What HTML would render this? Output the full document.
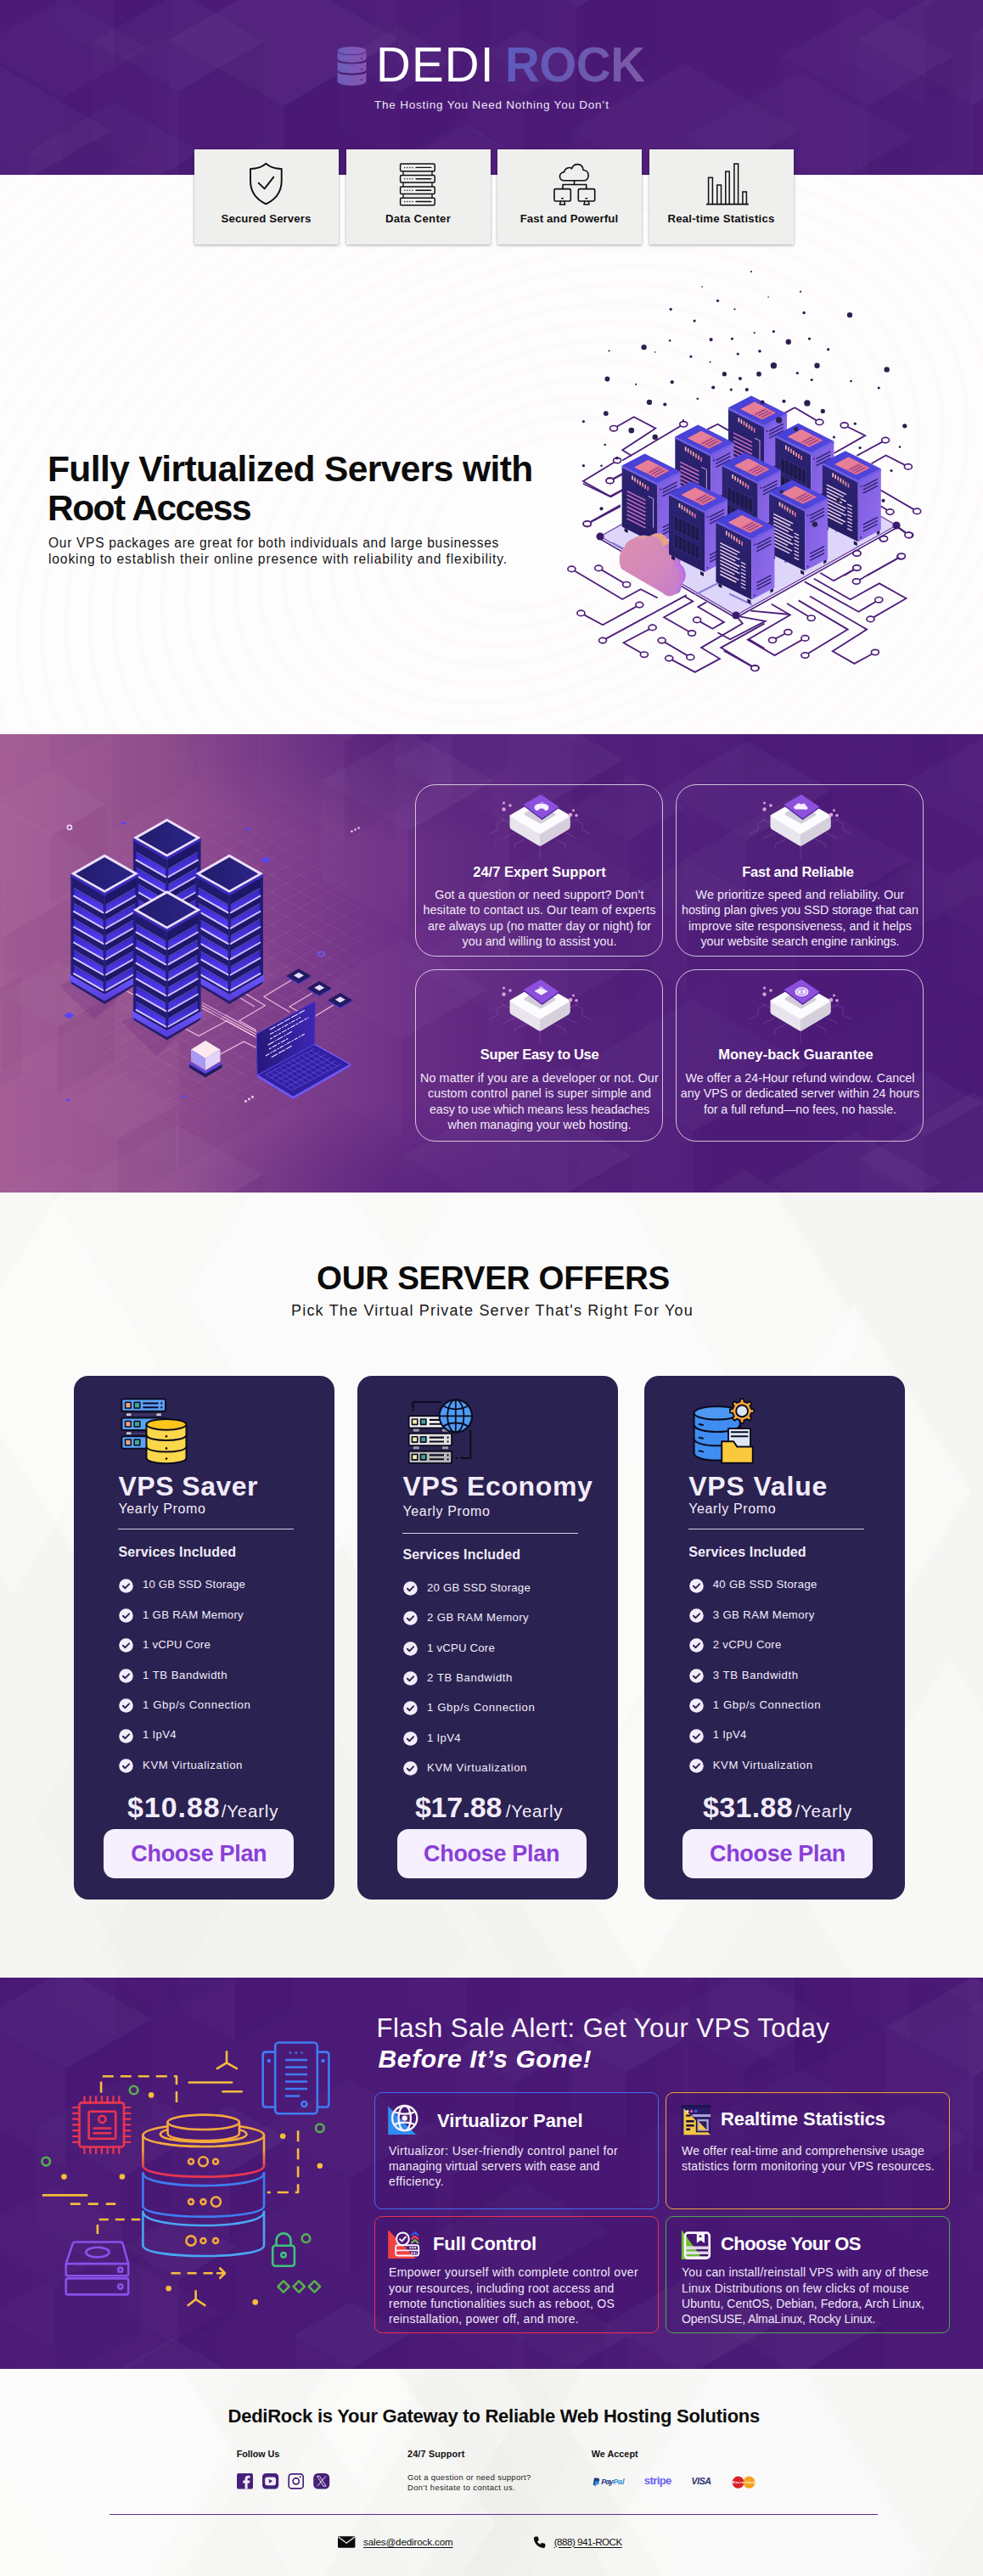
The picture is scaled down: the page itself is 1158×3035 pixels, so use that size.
<!DOCTYPE html>
<html lang="en"><head><meta charset="utf-8"><title>DediRock - VPS Hosting</title>
<style>
html,body{margin:0;padding:0;}
body{width:1158px;height:3035px;position:relative;overflow:hidden;background:#f4f4f2;font-family:"Liberation Sans",sans-serif;}
.t{position:absolute;white-space:pre;line-height:1.117;font-family:"Liberation Sans",sans-serif;}
.abs{position:absolute;}
.sec{position:absolute;left:0;width:1158px;overflow:hidden;}
.fcard{position:absolute;top:176px;width:170px;height:112px;background:#efefed;box-shadow:0 1px 3px rgba(0,0,0,.35);}
.gbox{position:absolute;width:292px;height:203px;border:1.2px solid rgba(255,255,255,.72);border-radius:24px;box-sizing:border-box;}
.pcard{position:absolute;top:1621px;width:307px;height:617px;background:#2a2250;border-radius:17px;}
.btn{position:absolute;top:2155px;width:224px;height:58px;background:#f6effd;border-radius:13px;}
.hr{position:absolute;height:1px;background:#d6d0e6;}
.fbox{position:absolute;width:335px;height:138px;border-radius:9px;box-sizing:border-box;border:1.3px solid;}
svg{position:absolute;overflow:visible;}
</style></head><body>
<div class="sec" id="hdr" style="top:0;height:206px;background:#4c1b78;"><svg width="1158" height="206" viewBox="0 0 1158 206" style="left:0;top:0"><path d="M-75 -265 L60 -187 L-75 -109 L-210 -187Z" fill="rgba(255,255,255,0.027)"/><path d="M-210 -187 L-75 -109 L-75 47 L-210 -31Z" fill="rgba(255,255,255,0.012)"/><path d="M60 -187 L-75 -109 L-75 47 L60 -31Z" fill="rgba(20,0,60,0.035)"/><path d="M468 -263 L603 -185 L468 -107 L332 -185Z" fill="rgba(255,255,255,0.027)"/><path d="M332 -185 L468 -107 L468 49 L332 -29Z" fill="rgba(255,255,255,0.012)"/><path d="M603 -185 L468 -107 L468 49 L603 -29Z" fill="rgba(20,0,60,0.034)"/><path d="M738 -202 L805 -163 L738 -124 L670 -163Z" fill="rgba(255,255,255,0.037)"/><path d="M670 -163 L738 -124 L738 -46 L670 -85Z" fill="rgba(255,255,255,0.017)"/><path d="M805 -163 L738 -124 L738 -46 L805 -85Z" fill="rgba(20,0,60,0.048)"/><path d="M882 -204 L949 -165 L882 -126 L814 -165Z" fill="rgba(255,255,255,0.033)"/><path d="M814 -165 L882 -126 L882 -48 L814 -87Z" fill="rgba(255,255,255,0.015)"/><path d="M949 -165 L882 -126 L882 -48 L949 -87Z" fill="rgba(20,0,60,0.043)"/><path d="M1155 -200 L1222 -161 L1155 -122 L1087 -161Z" fill="rgba(255,255,255,0.029)"/><path d="M1087 -161 L1155 -122 L1155 -44 L1087 -83Z" fill="rgba(255,255,255,0.013)"/><path d="M1222 -161 L1155 -122 L1155 -44 L1222 -83Z" fill="rgba(20,0,60,0.038)"/><path d="M1416 -228 L1518 -169 L1416 -111 L1315 -169Z" fill="rgba(255,255,255,0.026)"/><path d="M1315 -169 L1416 -111 L1416 6 L1315 -52Z" fill="rgba(255,255,255,0.012)"/><path d="M1518 -169 L1416 -111 L1416 6 L1518 -52Z" fill="rgba(20,0,60,0.034)"/><path d="M135 -83 L203 -44 L135 -5 L67 -44Z" fill="rgba(255,255,255,0.031)"/><path d="M67 -44 L135 -5 L135 73 L67 34Z" fill="rgba(255,255,255,0.014)"/><path d="M203 -44 L135 -5 L135 73 L203 34Z" fill="rgba(20,0,60,0.040)"/><path d="M542 -116 L643 -58 L542 1 L441 -58Z" fill="rgba(255,255,255,0.025)"/><path d="M441 -58 L542 1 L542 118 L441 59Z" fill="rgba(255,255,255,0.011)"/><path d="M643 -58 L542 1 L542 118 L643 59Z" fill="rgba(20,0,60,0.033)"/><path d="M679 -108 L780 -50 L679 9 L578 -50Z" fill="rgba(255,255,255,0.035)"/><path d="M578 -50 L679 9 L679 126 L578 67Z" fill="rgba(255,255,255,0.016)"/><path d="M780 -50 L679 9 L679 126 L780 67Z" fill="rgba(20,0,60,0.046)"/><path d="M1090 -109 L1191 -50 L1090 8 L989 -50Z" fill="rgba(255,255,255,0.029)"/><path d="M989 -50 L1090 8 L1090 125 L989 67Z" fill="rgba(255,255,255,0.013)"/><path d="M1191 -50 L1090 8 L1090 125 L1191 67Z" fill="rgba(20,0,60,0.037)"/><path d="M1346 -164 L1481 -86 L1346 -8 L1211 -86Z" fill="rgba(255,255,255,0.027)"/><path d="M1211 -86 L1346 -8 L1346 148 L1211 70Z" fill="rgba(255,255,255,0.012)"/><path d="M1481 -86 L1346 -8 L1346 148 L1481 70Z" fill="rgba(20,0,60,0.035)"/><path d="M74 -2 L175 57 L74 115 L-28 57Z" fill="rgba(255,255,255,0.019)"/><path d="M-28 57 L74 115 L74 232 L-28 174Z" fill="rgba(255,255,255,0.009)"/><path d="M175 57 L74 115 L74 232 L175 174Z" fill="rgba(20,0,60,0.025)"/><path d="M210 -9 L311 49 L210 108 L109 49Z" fill="rgba(255,255,255,0.030)"/><path d="M109 49 L210 108 L210 225 L109 166Z" fill="rgba(255,255,255,0.013)"/><path d="M311 49 L210 108 L210 225 L311 166Z" fill="rgba(20,0,60,0.039)"/><path d="M334 -31 L469 47 L334 125 L199 47Z" fill="rgba(255,255,255,0.038)"/><path d="M199 47 L334 125 L334 281 L199 203Z" fill="rgba(255,255,255,0.017)"/><path d="M469 47 L334 125 L334 281 L469 203Z" fill="rgba(20,0,60,0.049)"/><path d="M469 31 L537 70 L469 109 L401 70Z" fill="rgba(255,255,255,0.029)"/><path d="M401 70 L469 109 L469 187 L401 148Z" fill="rgba(255,255,255,0.013)"/><path d="M537 70 L469 109 L469 187 L537 148Z" fill="rgba(20,0,60,0.038)"/><path d="M617 35 L685 74 L617 113 L550 74Z" fill="rgba(255,255,255,0.022)"/><path d="M550 74 L617 113 L617 191 L550 152Z" fill="rgba(255,255,255,0.010)"/><path d="M685 74 L617 113 L617 191 L685 152Z" fill="rgba(20,0,60,0.028)"/><path d="M1022 8 L1124 66 L1022 125 L921 66Z" fill="rgba(255,255,255,0.024)"/><path d="M921 66 L1022 125 L1022 242 L921 183Z" fill="rgba(255,255,255,0.011)"/><path d="M1124 66 L1022 125 L1022 242 L1124 183Z" fill="rgba(20,0,60,0.032)"/><path d="M1146 -32 L1281 46 L1146 124 L1011 46Z" fill="rgba(255,255,255,0.031)"/><path d="M1011 46 L1146 124 L1146 280 L1011 202Z" fill="rgba(255,255,255,0.014)"/><path d="M1281 46 L1146 124 L1146 280 L1281 202Z" fill="rgba(20,0,60,0.041)"/><path d="M1279 -36 L1414 42 L1279 120 L1144 42Z" fill="rgba(255,255,255,0.032)"/><path d="M1144 42 L1279 120 L1279 276 L1144 198Z" fill="rgba(255,255,255,0.014)"/><path d="M1414 42 L1279 120 L1279 276 L1414 198Z" fill="rgba(20,0,60,0.042)"/><path d="M-135 118 L-33 176 L-135 235 L-236 176Z" fill="rgba(255,255,255,0.016)"/><path d="M-236 176 L-135 235 L-135 352 L-236 293Z" fill="rgba(255,255,255,0.007)"/><path d="M-33 176 L-135 235 L-135 352 L-33 293Z" fill="rgba(20,0,60,0.021)"/><path d="M-4 76 L131 154 L-4 232 L-139 154Z" fill="rgba(255,255,255,0.029)"/><path d="M-139 154 L-4 232 L-4 388 L-139 310Z" fill="rgba(255,255,255,0.013)"/><path d="M131 154 L-4 232 L-4 388 L131 310Z" fill="rgba(20,0,60,0.038)"/><path d="M134 121 L236 179 L134 238 L33 179Z" fill="rgba(255,255,255,0.024)"/><path d="M33 179 L134 238 L134 355 L33 296Z" fill="rgba(255,255,255,0.011)"/><path d="M236 179 L134 238 L134 355 L236 296Z" fill="rgba(20,0,60,0.031)"/><path d="M549 146 L617 185 L549 224 L482 185Z" fill="rgba(255,255,255,0.024)"/><path d="M482 185 L549 224 L549 302 L482 263Z" fill="rgba(255,255,255,0.011)"/><path d="M617 185 L549 224 L549 302 L617 263Z" fill="rgba(20,0,60,0.032)"/><path d="M807 75 L942 153 L807 231 L672 153Z" fill="rgba(255,255,255,0.023)"/><path d="M672 153 L807 231 L807 387 L672 309Z" fill="rgba(255,255,255,0.010)"/><path d="M942 153 L807 231 L807 387 L942 309Z" fill="rgba(20,0,60,0.030)"/><path d="M941 84 L1076 162 L941 240 L806 162Z" fill="rgba(255,255,255,0.018)"/><path d="M806 162 L941 240 L941 396 L806 318Z" fill="rgba(255,255,255,0.008)"/><path d="M1076 162 L941 240 L941 396 L1076 318Z" fill="rgba(20,0,60,0.024)"/><path d="M-73 201 L62 279 L-73 357 L-208 279Z" fill="rgba(255,255,255,0.021)"/><path d="M-208 279 L-73 357 L-73 513 L-208 435Z" fill="rgba(255,255,255,0.010)"/><path d="M62 279 L-73 357 L-73 513 L62 435Z" fill="rgba(20,0,60,0.028)"/><path d="M71 226 L172 284 L71 343 L-31 284Z" fill="rgba(255,255,255,0.029)"/><path d="M-31 284 L71 343 L71 460 L-31 401Z" fill="rgba(255,255,255,0.013)"/><path d="M172 284 L71 343 L71 460 L172 401Z" fill="rgba(20,0,60,0.038)"/><path d="M464 278 L532 317 L464 356 L397 317Z" fill="rgba(255,255,255,0.021)"/><path d="M397 317 L464 356 L464 434 L397 395Z" fill="rgba(255,255,255,0.009)"/><path d="M532 317 L464 356 L464 434 L532 395Z" fill="rgba(20,0,60,0.027)"/><path d="M734 282 L801 321 L734 360 L666 321Z" fill="rgba(255,255,255,0.023)"/><path d="M666 321 L734 360 L734 438 L666 399Z" fill="rgba(255,255,255,0.010)"/><path d="M801 321 L734 360 L734 438 L801 399Z" fill="rgba(20,0,60,0.030)"/><path d="M1290 270 L1357 309 L1290 348 L1222 309Z" fill="rgba(255,255,255,0.019)"/><path d="M1222 309 L1290 348 L1290 426 L1222 387Z" fill="rgba(255,255,255,0.009)"/><path d="M1357 309 L1290 348 L1290 426 L1357 387Z" fill="rgba(20,0,60,0.025)"/><path d="M1418 237 L1519 295 L1418 354 L1317 295Z" fill="rgba(255,255,255,0.023)"/><path d="M1317 295 L1418 354 L1418 471 L1317 412Z" fill="rgba(255,255,255,0.010)"/><path d="M1519 295 L1418 354 L1418 471 L1519 412Z" fill="rgba(20,0,60,0.029)"/></svg></div>
<div class="sec" id="hero" style="top:206px;height:659px;background:#fefdfe;"><svg width="1158" height="659" viewBox="0 0 1158 659" style="left:0;top:0" fill="none" stroke="#fdf7fa" stroke-width="6"><ellipse cx="637" cy="409" rx="138" ry="94" transform="rotate(-24 637 409)" opacity="0.75"/><ellipse cx="637" cy="409" rx="168" ry="114" transform="rotate(-24 637 409)" opacity="0.45"/><ellipse cx="637" cy="409" rx="198" ry="134" transform="rotate(-24 637 409)" opacity="0.75"/><ellipse cx="637" cy="409" rx="228" ry="154" transform="rotate(-24 637 409)" opacity="0.45"/><ellipse cx="637" cy="409" rx="258" ry="175" transform="rotate(-24 637 409)" opacity="0.75"/><ellipse cx="637" cy="409" rx="288" ry="195" transform="rotate(-24 637 409)" opacity="0.45"/><ellipse cx="637" cy="409" rx="317" ry="215" transform="rotate(-24 637 409)" opacity="0.75"/><ellipse cx="637" cy="409" rx="347" ry="236" transform="rotate(-24 637 409)" opacity="0.45"/><ellipse cx="637" cy="409" rx="377" ry="256" transform="rotate(-24 637 409)" opacity="0.75"/><ellipse cx="637" cy="409" rx="407" ry="276" transform="rotate(-24 637 409)" opacity="0.45"/><ellipse cx="637" cy="409" rx="437" ry="296" transform="rotate(-24 637 409)" opacity="0.75"/><ellipse cx="637" cy="409" rx="467" ry="317" transform="rotate(-24 637 409)" opacity="0.45"/><ellipse cx="637" cy="409" rx="497" ry="337" transform="rotate(-24 637 409)" opacity="0.75"/><ellipse cx="637" cy="409" rx="527" ry="357" transform="rotate(-24 637 409)" opacity="0.45"/><ellipse cx="637" cy="409" rx="557" ry="378" transform="rotate(-24 637 409)" opacity="0.75"/><ellipse cx="637" cy="409" rx="586" ry="398" transform="rotate(-24 637 409)" opacity="0.45"/><ellipse cx="637" cy="409" rx="616" ry="418" transform="rotate(-24 637 409)" opacity="0.75"/><ellipse cx="637" cy="409" rx="646" ry="438" transform="rotate(-24 637 409)" opacity="0.45"/><ellipse cx="637" cy="409" rx="676" ry="459" transform="rotate(-24 637 409)" opacity="0.75"/><ellipse cx="637" cy="409" rx="706" ry="479" transform="rotate(-24 637 409)" opacity="0.45"/><ellipse cx="637" cy="409" rx="736" ry="499" transform="rotate(-24 637 409)" opacity="0.75"/><ellipse cx="637" cy="409" rx="766" ry="519" transform="rotate(-24 637 409)" opacity="0.45"/><ellipse cx="637" cy="409" rx="796" ry="540" transform="rotate(-24 637 409)" opacity="0.75"/><ellipse cx="637" cy="409" rx="826" ry="560" transform="rotate(-24 637 409)" opacity="0.45"/><ellipse cx="637" cy="409" rx="856" ry="580" transform="rotate(-24 637 409)" opacity="0.75"/><ellipse cx="637" cy="409" rx="885" ry="601" transform="rotate(-24 637 409)" opacity="0.45"/><ellipse cx="637" cy="409" rx="915" ry="621" transform="rotate(-24 637 409)" opacity="0.75"/><ellipse cx="637" cy="409" rx="945" ry="641" transform="rotate(-24 637 409)" opacity="0.45"/><ellipse cx="637" cy="409" rx="975" ry="661" transform="rotate(-24 637 409)" opacity="0.75"/><ellipse cx="637" cy="409" rx="1005" ry="682" transform="rotate(-24 637 409)" opacity="0.45"/><ellipse cx="637" cy="409" rx="1035" ry="702" transform="rotate(-24 637 409)" opacity="0.75"/><ellipse cx="637" cy="409" rx="1065" ry="722" transform="rotate(-24 637 409)" opacity="0.45"/><ellipse cx="637" cy="409" rx="1095" ry="743" transform="rotate(-24 637 409)" opacity="0.75"/><ellipse cx="637" cy="409" rx="1125" ry="763" transform="rotate(-24 637 409)" opacity="0.45"/><ellipse cx="637" cy="409" rx="1155" ry="783" transform="rotate(-24 637 409)" opacity="0.75"/><ellipse cx="637" cy="409" rx="1184" ry="803" transform="rotate(-24 637 409)" opacity="0.45"/><ellipse cx="637" cy="409" rx="1214" ry="824" transform="rotate(-24 637 409)" opacity="0.75"/><ellipse cx="637" cy="409" rx="1244" ry="844" transform="rotate(-24 637 409)" opacity="0.45"/><ellipse cx="637" cy="409" rx="1274" ry="864" transform="rotate(-24 637 409)" opacity="0.75"/><ellipse cx="637" cy="409" rx="1304" ry="885" transform="rotate(-24 637 409)" opacity="0.45"/><ellipse cx="637" cy="409" rx="1334" ry="905" transform="rotate(-24 637 409)" opacity="0.75"/><ellipse cx="637" cy="409" rx="1364" ry="925" transform="rotate(-24 637 409)" opacity="0.45"/><ellipse cx="637" cy="409" rx="1394" ry="945" transform="rotate(-24 637 409)" opacity="0.75"/><ellipse cx="637" cy="409" rx="1424" ry="966" transform="rotate(-24 637 409)" opacity="0.45"/><ellipse cx="637" cy="409" rx="1454" ry="986" transform="rotate(-24 637 409)" opacity="0.75"/><ellipse cx="637" cy="409" rx="1483" ry="1006" transform="rotate(-24 637 409)" opacity="0.45"/></svg></div>
<svg style="left:397px;top:54px" width="35" height="48" viewBox="0 0 35 48">
<defs><linearGradient id="lg1" x1="0" y1="0" x2="1" y2="0"><stop offset="0" stop-color="#6a5fbb"/><stop offset="1" stop-color="#8855b2"/></linearGradient></defs>
<g fill="url(#lg1)">
<path d="M0.5 6 C0.5 -0.6 34.5 -0.6 34.5 6 L34.5 14.5 C34.5 21 0.5 21 0.5 14.5Z"/>
<path d="M0.5 18.2 C3 22.6 32 22.6 34.5 18.2 L34.5 27.5 C34.5 34 0.5 34 0.5 27.5Z"/>
<path d="M0.5 31.2 C3 35.6 32 35.6 34.5 31.2 L34.5 41.5 C34.5 48.5 0.5 48.5 0.5 41.5Z"/>
</g>
<path d="M0.8 6.5 C3 11.8 32 11.8 34.2 6.5" fill="none" stroke="#56309a" stroke-width="1.2"/>
<circle cx="29" cy="15" r="1.1" fill="#4a2080"/><circle cx="29" cy="27.5" r="1.1" fill="#4a2080"/><circle cx="29" cy="40" r="1.1" fill="#4a2080"/>
</svg>
<div class="t" style="left:443.0px;top:44.8px;font-size:56.5px;color:#ffffff;letter-spacing:1.125px;">DEDI</div>
<div class="t" style="left:595.0px;top:44.8px;font-size:56.5px;font-weight:700;color:#6a5ab4;letter-spacing:-0.465px;background:linear-gradient(90deg,#5d5bbd 0%,#6659b4 40%,#7259ab 75%,#7d5ba5 100%);-webkit-background-clip:text;background-clip:text;-webkit-text-fill-color:transparent;">ROCK</div>
<div class="t" style="left:441.0px;top:115.8px;font-size:13.5px;color:#ece6f7;letter-spacing:0.783px;">The Hosting You Need Nothing You Don’t</div>
<div class="fcard" style="left:229px"></div>
<div class="t" style="left:260.5px;top:250.5px;font-size:13.2px;font-weight:700;color:#111;letter-spacing:0.126px;">Secured Servers</div>
<div class="fcard" style="left:408px"></div>
<div class="t" style="left:453.9px;top:250.5px;font-size:13.2px;font-weight:700;color:#111;letter-spacing:0.297px;">Data Center</div>
<div class="fcard" style="left:586px"></div>
<div class="t" style="left:612.7px;top:250.5px;font-size:13.2px;font-weight:700;color:#111;letter-spacing:0.119px;">Fast and Powerful</div>
<div class="fcard" style="left:765px"></div>
<div class="t" style="left:786.5px;top:250.5px;font-size:13.2px;font-weight:700;color:#111;letter-spacing:0.216px;">Real-time Statistics</div>
<svg style="left:290px;top:188px" width="48" height="58" viewBox="290 188 48 58" fill="none" stroke="#0e0e0e" stroke-width="1.9" stroke-linejoin="round" stroke-linecap="round">
<path d="M313.3 192.8 C308.5 197 301.5 199 295 199 L295 213 C295 226 302 235 313.3 240.4 C324.6 235 331.7 226 331.7 213 L331.7 199 C325 199 318 197 313.3 192.8Z"/>
<path d="M304.6 215.6 L311.6 222.4 L322.3 208.6"/></svg><svg style="left:468px;top:188px" width="48" height="58" viewBox="468 188 48 58" fill="none" stroke="#0e0e0e" stroke-width="1.5" stroke-linejoin="round"><rect x="471.6" y="193.1" width="40.6" height="8.6" rx="1.3"/><path d="M490 197.4 H507.8" stroke-width="1.4" stroke-linecap="round"/><circle cx="476.8" cy="197.4" r="0.75" fill="#0e0e0e" stroke="none"/><circle cx="479.9" cy="197.4" r="0.75" fill="#0e0e0e" stroke="none"/><circle cx="482.9" cy="197.4" r="0.75" fill="#0e0e0e" stroke="none"/><circle cx="485.9" cy="197.4" r="0.75" fill="#0e0e0e" stroke="none"/><rect x="471.6" y="206.5" width="40.6" height="8.6" rx="1.3"/><path d="M490 210.8 H507.8" stroke-width="1.4" stroke-linecap="round"/><circle cx="476.8" cy="210.8" r="0.75" fill="#0e0e0e" stroke="none"/><circle cx="479.9" cy="210.8" r="0.75" fill="#0e0e0e" stroke="none"/><circle cx="482.9" cy="210.8" r="0.75" fill="#0e0e0e" stroke="none"/><circle cx="485.9" cy="210.8" r="0.75" fill="#0e0e0e" stroke="none"/><rect x="471.6" y="219.9" width="40.6" height="8.6" rx="1.3"/><path d="M490 224.20000000000002 H507.8" stroke-width="1.4" stroke-linecap="round"/><circle cx="476.8" cy="224.20000000000002" r="0.75" fill="#0e0e0e" stroke="none"/><circle cx="479.9" cy="224.20000000000002" r="0.75" fill="#0e0e0e" stroke="none"/><circle cx="482.9" cy="224.20000000000002" r="0.75" fill="#0e0e0e" stroke="none"/><circle cx="485.9" cy="224.20000000000002" r="0.75" fill="#0e0e0e" stroke="none"/><rect x="471.6" y="233.2" width="40.6" height="8.6" rx="1.3"/><path d="M490 237.5 H507.8" stroke-width="1.4" stroke-linecap="round"/><circle cx="476.8" cy="237.5" r="0.75" fill="#0e0e0e" stroke="none"/><circle cx="479.9" cy="237.5" r="0.75" fill="#0e0e0e" stroke="none"/><circle cx="482.9" cy="237.5" r="0.75" fill="#0e0e0e" stroke="none"/><circle cx="485.9" cy="237.5" r="0.75" fill="#0e0e0e" stroke="none"/><path d="M475 201.7 V206.5 M509 201.7 V206.5" stroke-width="1.3"/><path d="M475 215.1 V219.9 M509 215.1 V219.9" stroke-width="1.3"/><path d="M475 228.5 V233.3 M509 228.5 V233.3" stroke-width="1.3"/></svg><svg style="left:648px;top:188px" width="58" height="58" viewBox="648 188 58 58" fill="none" stroke="#0e0e0e" stroke-width="1.6" stroke-linejoin="round" stroke-linecap="round">
<path d="M665 212.8 C657.5 212.8 657.8 203.3 664.6 202.6 C665.5 197.8 671 196.3 673.6 198.6 C676 191.4 686.6 192 687 200.3 C695.2 200.6 695 212.8 687.5 212.8Z"/>
<path d="M676.5 213 V217.5 M663 222 V217.5 H690.7 V222"/>
<rect x="652.9" y="222.6" width="19.4" height="14.4" rx="1.6"/>
<rect x="681.3" y="222.6" width="19.4" height="14.4" rx="1.6"/>
<path d="M660.6 237.2 L659.4 241 H665.8 L664.6 237.2 M689 237.2 L687.8 241 H694.2 L693 237.2" stroke-width="1.4"/>
<path d="M661.7 233.7 H663.3 M690 233.7 H691.6" stroke-width="1.6"/></svg><svg style="left:828px;top:188px" width="58" height="58" viewBox="828 188 58 58" fill="none" stroke="#0e0e0e" stroke-width="1.5"><path d="M834.6 240.5 V209.29999999999998 H839.4 V240.5"/><path d="M844.8000000000001 240.5 V218.1 H849.5 V240.5"/><path d="M854.8000000000001 240.5 V202.0 H859.1999999999999 V240.5"/><path d="M864.9000000000001 240.5 V193.1 H869.5999999999999 V240.5"/><path d="M874.9000000000001 240.5 V225.89999999999998 H879.4 V240.5"/><path d="M832 240.7 H881.8" stroke-width="1.8"/></svg>
<div class="t" style="left:56.0px;top:529.0px;font-size:42.5px;font-weight:700;color:#0c0c0c;letter-spacing:-0.603px;">Fully Virtualized Servers with</div>
<div class="t" style="left:56.0px;top:575.0px;font-size:42.5px;font-weight:700;color:#0c0c0c;letter-spacing:-1.534px;">Root Access</div>
<div class="t" style="left:57.0px;top:630.9px;font-size:15.6px;color:#161616;letter-spacing:0.670px;">Our VPS packages are great for both individuals and large businesses</div>
<div class="t" style="left:57.0px;top:650.4px;font-size:15.6px;color:#161616;letter-spacing:0.861px;">looking to establish their online presence with reliability and flexibility.</div>
<svg style="left:0;top:0" width="1158" height="870" viewBox="0 0 1158 870"><defs>
<linearGradient id="hL" x1="0" y1="0" x2="0" y2="1"><stop offset="0" stop-color="#2d2474"/><stop offset="1" stop-color="#251c62"/></linearGradient>
<linearGradient id="hR" x1="0" y1="0" x2="1" y2="1"><stop offset="0" stop-color="#7c5ade"/><stop offset="1" stop-color="#9470ee"/></linearGradient>
<linearGradient id="hT" x1="0" y1="0" x2="1" y2="0"><stop offset="0" stop-color="#4540d4"/><stop offset="1" stop-color="#5546de"/></linearGradient>
<linearGradient id="hC" x1="0" y1="0" x2="1" y2="1"><stop offset="0" stop-color="#dd90ae"/><stop offset="0.6" stop-color="#d287bd"/><stop offset="1" stop-color="#c67ccb"/></linearGradient>
</defs><g fill="none" stroke="#4c1e7a" stroke-width="1.8" stroke-linejoin="miter"><path d="M673.4 670.4 L733.2 706.0 L754.7 694.3 L774.7 704.5"/><path d="M705.2 669.4 L738.1 688.7"/><path d="M684.4 722.4 L710.0 736.3 L753.3 712.6"/><path d="M710.0 754.6 L808.9 701.1"/><path d="M768.6 739.4 L734.5 757.3 L758.9 771.2"/><path d="M779.6 754.6 L813.3 774.4"/><path d="M788.2 775.6 L818.7 791.9 L848.0 776.1 L826.0 763.1 L874.8 734.6 L867.5 726.0"/><path d="M815.0 746.0 L782.1 727.2 L816.2 708.4 L806.5 702.8"/><path d="M821.1 730.4 L839.4 740.7 L852.9 732.9 L822.4 715.0 L832.1 709.4"/><path d="M889.5 787.1 L849.2 763.1 L900.5 734.6"/><path d="M882.2 752.9 L900.5 763.9"/><path d="M691.7 617.4 L730.8 596.6"/><path d="M718.6 566.1 L733.2 558.0"/><path d="M686.9 569.8 L718.6 584.9 L733.2 577.1"/><path d="M889.3 787.3 L852.7 766.7"/><path d="M910.0 754.3 L928.4 744.8"/><path d="M948.4 751.9 L912.5 772.1 L880.8 753.8 L930.8 724.5 L908.8 711.8"/><path d="M948.4 772.1 L998.7 741.6 L940.6 707.4"/><path d="M955.7 728.2 L927.1 711.1"/><path d="M1030.9 768.5 L1006.5 781.9 L980.8 767.2 L1021.1 741.6 L954.0 702.5"/><path d="M1025.5 729.4 L1067.5 705.0 L1035.8 687.4 L1001.6 706.2 L958.9 681.8"/><path d="M1035.3 706.7 L1011.4 720.8 L947.9 685.4"/><path d="M1008.9 685.0 L1061.4 655.7"/><path d="M1009.4 669.1 L982.1 684.2 L966.2 675.0"/><path d="M1071.2 630.5 L1056.5 620.0"/><path d="M867.3 725.7 L901.5 731.8 L860.0 753.3 L845.4 745.3"/><path d="M884.4 719.6 L930.8 724.0"/><path d="M723.0 504.7 L746.7 491.3 L772.3 504.7 L733.2 530.3 L744.2 536.9"/><path d="M805.3 499.8 L760.1 526.7 L733.2 542.5"/><path d="M727.1 542.5 L686.9 567.0 L719.8 585.3 L732.8 577.9"/><path d="M718.6 566.5 L732.8 559.1"/><path d="M691.7 617.0 L730.8 595.0"/><path d="M707.6 634.1 L733.2 620.2"/><path d="M833.3 505.9 L845.5 499.8 L858.2 507.1"/><path d="M965.4 497.4 L936.2 480.3 L921.5 488.1"/><path d="M994.7 501.0 L1019.2 513.2 L982.5 534.0"/><path d="M1043.1 518.6 L1009.4 536.9"/><path d="M1069.9 549.9 L1043.6 536.4 L1026.5 546.2"/><path d="M1080.2 602.4 L1036.2 576.7"/><path d="M1048.5 603.1 L1037.5 596.2"/><path d="M1070.4 630.4 L1057.0 620.7"/><path d="M1061.9 655.3 L1021.6 678.0"/><path d="M1009.4 669.0 L994.7 678.0"/></g><g fill="#fefdfe" stroke="#4c1e7a" stroke-width="1.7"><ellipse cx="673.4" cy="670.4" rx="4.5" ry="3.2"/><ellipse cx="705.2" cy="669.4" rx="4.5" ry="3.2"/><ellipse cx="738.1" cy="688.7" rx="4.5" ry="3.2"/><ellipse cx="684.4" cy="722.4" rx="4.5" ry="3.2"/><ellipse cx="753.3" cy="712.6" rx="4.5" ry="3.2"/><ellipse cx="710.0" cy="754.6" rx="4.5" ry="3.2"/><ellipse cx="768.6" cy="739.4" rx="4.5" ry="3.2"/><ellipse cx="758.9" cy="771.2" rx="4.5" ry="3.2"/><ellipse cx="779.6" cy="754.6" rx="4.5" ry="3.2"/><ellipse cx="813.3" cy="774.4" rx="4.5" ry="3.2"/><ellipse cx="788.2" cy="775.6" rx="4.5" ry="3.2"/><ellipse cx="815.0" cy="746.0" rx="4.5" ry="3.2"/><ellipse cx="821.1" cy="730.4" rx="4.5" ry="3.2"/><ellipse cx="889.5" cy="787.1" rx="4.5" ry="3.2"/><ellipse cx="691.7" cy="617.4" rx="4.5" ry="3.2"/><ellipse cx="718.6" cy="566.1" rx="4.5" ry="3.2"/><ellipse cx="889.3" cy="787.3" rx="4.5" ry="3.2"/><ellipse cx="910.0" cy="754.3" rx="4.5" ry="3.2"/><ellipse cx="928.4" cy="744.8" rx="4.5" ry="3.2"/><ellipse cx="948.4" cy="751.9" rx="4.5" ry="3.2"/><ellipse cx="948.4" cy="772.1" rx="4.5" ry="3.2"/><ellipse cx="955.7" cy="728.2" rx="4.5" ry="3.2"/><ellipse cx="1030.9" cy="768.5" rx="4.5" ry="3.2"/><ellipse cx="1025.5" cy="729.4" rx="4.5" ry="3.2"/><ellipse cx="1035.3" cy="706.7" rx="4.5" ry="3.2"/><ellipse cx="1008.9" cy="685.0" rx="4.5" ry="3.2"/><ellipse cx="1061.4" cy="655.7" rx="4.5" ry="3.2"/><ellipse cx="1009.4" cy="669.1" rx="4.5" ry="3.2"/><ellipse cx="1071.2" cy="630.5" rx="4.5" ry="3.2"/><ellipse cx="1009.4" cy="652.0" rx="4.5" ry="3.2"/><ellipse cx="1040.7" cy="634.7" rx="4.5" ry="3.2"/><ellipse cx="723.0" cy="504.7" rx="4.5" ry="3.2"/><ellipse cx="805.3" cy="499.8" rx="4.5" ry="3.2"/><ellipse cx="727.1" cy="542.5" rx="4.5" ry="3.2"/><ellipse cx="718.6" cy="566.5" rx="4.5" ry="3.2"/><ellipse cx="691.7" cy="617.0" rx="4.5" ry="3.2"/><ellipse cx="965.4" cy="497.4" rx="4.5" ry="3.2"/><ellipse cx="994.7" cy="501.0" rx="4.5" ry="3.2"/><ellipse cx="1043.1" cy="518.6" rx="4.5" ry="3.2"/><ellipse cx="1069.9" cy="549.9" rx="4.5" ry="3.2"/><ellipse cx="1080.2" cy="602.4" rx="4.5" ry="3.2"/><ellipse cx="1048.5" cy="603.1" rx="4.5" ry="3.2"/><ellipse cx="1070.4" cy="630.4" rx="4.5" ry="3.2"/><ellipse cx="1061.9" cy="655.3" rx="4.5" ry="3.2"/><ellipse cx="1009.4" cy="669.0" rx="4.5" ry="3.2"/><ellipse cx="1041.1" cy="634.8" rx="4.5" ry="3.2"/><ellipse cx="1009.4" cy="651.9" rx="4.5" ry="3.2"/></g><path d="M707 632 L896 526 L1056 619 L867 725Z" fill="#ded6fa" stroke="#6a3b9c" stroke-width="1.2"/><path d="M707 635 L867 728 L1056 622" fill="none" stroke="#4a2380" stroke-width="1.6"/><circle cx="707" cy="632" r="4.6" fill="#3d1a6e"/><circle cx="867" cy="725" r="4.6" fill="#3d1a6e"/><circle cx="1056" cy="619" r="4.6" fill="#3d1a6e"/><g stroke="#8f7fd8" stroke-width="2.2" stroke-linecap="round"><path d="M722 640 L760 660"/><path d="M985 626 L1018 610"/><path d="M925 662 L955 647"/><path d="M820 700 L852 684"/><path d="M860 700 L885 712"/></g><path d="M861.0 553.7 l4 2 v4 l-4 -2z M895.0 572.2 l4 2 v4 l-4 -2z M922.0 561.2 l3.5 -1.8 v4 l-3.5 1.8z" fill="#1d1648"/><path d="M858.0 480.2 L900.0 501.2 L900.0 573.2 L858.0 552.2Z" fill="url(#hL)"/><path d="M900.0 501.2 L927.0 487.2 L927.0 559.2 L900.0 573.2Z" fill="url(#hR)"/><path d="M858.0 480.2 L885.0 466.2 L927.0 487.2 L900.0 501.2Z" fill="url(#hT)"/><path d="M858.0 481.4 L900.0 502.4 L927.0 488.4" fill="none" stroke="#6e5ee6" stroke-width="2.2"/><path d="M872.6 482.0 L897.8 494.6 L914.0 486.2 L888.8 473.6Z" fill="#e2708e"/><path d="M872.6 482.0 L885.2 488.3 L901.4 479.9 L888.8 473.6Z" fill="#e77f98"/><path d="M889.9 488.5 L901.8 482.3" stroke="#5a2a90" stroke-width="0.9"/><path d="M893.3 490.1 L905.2 484.0" stroke="#5a2a90" stroke-width="0.9"/><path d="M896.6 491.8 L908.5 485.7" stroke="#5a2a90" stroke-width="0.9"/><path d="M870.4 492.2 v5" stroke="#f3c0cc" stroke-width="1.7"/><path d="M873.4 494.2 v5" stroke="#f7b0a0" stroke-width="1.7"/><path d="M876.5 496.3 v5" stroke="#f08fb0" stroke-width="1.7"/><path d="M879.5 498.3 v5" stroke="#f7b0a0" stroke-width="1.7"/><path d="M882.6 500.4 v5" stroke="#f09a80" stroke-width="1.7"/><path d="M885.6 502.4 v5" stroke="#f08fb0" stroke-width="1.7"/><path d="M888.7 504.5 v5" stroke="#e070a0" stroke-width="1.7"/><path d="M864.0 510.2 l22 11" stroke="#d070c0" stroke-width="1.5"/><path d="M864.0 514.8 l22 11" stroke="#d070c0" stroke-width="1.5"/><path d="M864.0 519.4 l22 11" stroke="#d070c0" stroke-width="1.5"/><path d="M864.0 524.0 l22 11" stroke="#d070c0" stroke-width="1.5"/><path d="M864.0 528.6 l22 11" stroke="#d070c0" stroke-width="1.5"/><path d="M864.0 533.2 l22 11" stroke="#d070c0" stroke-width="1.5"/><path d="M864.0 537.8 l22 11" stroke="#d070c0" stroke-width="1.5"/><path d="M864.0 542.4 l22 11" stroke="#d070c0" stroke-width="1.5"/><path d="M889.0 516.2 l6 3 v34" fill="none" stroke="#c9a0e8" stroke-width="1"/><path d="M906.0 508.2 l17 -8.8" stroke="#2c2270" stroke-width="1.5"/><path d="M906.0 553.2 l17 -8.8" stroke="#2c2270" stroke-width="1.5"/><path d="M906.0 512.2 l17 -8.8" stroke="#2c2270" stroke-width="1.5"/><path d="M906.0 557.2 l17 -8.8" stroke="#2c2270" stroke-width="1.5"/><path d="M906.0 516.2 l17 -8.8" stroke="#2c2270" stroke-width="1.5"/><path d="M906.0 561.2 l17 -8.8" stroke="#2c2270" stroke-width="1.5"/><circle cx="903.5" cy="508.2" r="1.1" fill="#3a2a90"/><circle cx="903.5" cy="568.2" r="1.1" fill="#3a2a90"/><path d="M916.4 586.2 l4 2 v4 l-4 -2z M950.4 604.7 l4 2 v4 l-4 -2z M977.4 593.7 l3.5 -1.8 v4 l-3.5 1.8z" fill="#1d1648"/><path d="M913.4 512.7 L955.4 533.7 L955.4 605.7 L913.4 584.7Z" fill="url(#hL)"/><path d="M955.4 533.7 L982.4 519.7 L982.4 591.7 L955.4 605.7Z" fill="url(#hR)"/><path d="M913.4 512.7 L940.4 498.70000000000005 L982.4 519.7 L955.4 533.7Z" fill="url(#hT)"/><path d="M913.4 513.9000000000001 L955.4 534.9000000000001 L982.4 520.9000000000001" fill="none" stroke="#6e5ee6" stroke-width="2.2"/><path d="M928.0 514.5 L953.2 527.1 L969.4 518.7 L944.2 506.1Z" fill="#e2708e"/><path d="M928.0 514.5 L940.6 520.8 L956.8 512.4 L944.2 506.1Z" fill="#e77f98"/><path d="M945.3 521.0 L957.2 514.8" stroke="#5a2a90" stroke-width="0.9"/><path d="M948.7 522.6 L960.6 516.5" stroke="#5a2a90" stroke-width="0.9"/><path d="M952.0 524.3 L963.9 518.2" stroke="#5a2a90" stroke-width="0.9"/><path d="M925.8 524.7 v5" stroke="#f3c0cc" stroke-width="1.7"/><path d="M928.8 526.8 v5" stroke="#f7b0a0" stroke-width="1.7"/><path d="M931.9 528.8 v5" stroke="#f08fb0" stroke-width="1.7"/><path d="M934.9 530.9 v5" stroke="#f7b0a0" stroke-width="1.7"/><path d="M938.0 532.9 v5" stroke="#f09a80" stroke-width="1.7"/><path d="M941.0 535.0 v5" stroke="#f08fb0" stroke-width="1.7"/><path d="M944.1 537.0 v5" stroke="#e070a0" stroke-width="1.7"/><path d="M919.4 538.7 l30 15 v17 l-30 -15z M919.4 559.7 l30 15 v17 l-30 -15z" fill="#1f184c" stroke="#3d3390" stroke-width="0.8"/><path d="M924.4 541.2 v17 M924.4 562.2 v17" stroke="#3a3088" stroke-width="0.7"/><path d="M929.4 543.7 v17 M929.4 564.7 v17" stroke="#3a3088" stroke-width="0.7"/><path d="M934.4 546.2 v17 M934.4 567.2 v17" stroke="#3a3088" stroke-width="0.7"/><path d="M939.4 548.7 v17 M939.4 569.7 v17" stroke="#3a3088" stroke-width="0.7"/><path d="M944.4 551.2 v17 M944.4 572.2 v17" stroke="#3a3088" stroke-width="0.7"/><path d="M961.4 540.7 l17 -8.8" stroke="#2c2270" stroke-width="1.5"/><path d="M961.4 585.7 l17 -8.8" stroke="#2c2270" stroke-width="1.5"/><path d="M961.4 544.7 l17 -8.8" stroke="#2c2270" stroke-width="1.5"/><path d="M961.4 589.7 l17 -8.8" stroke="#2c2270" stroke-width="1.5"/><path d="M961.4 548.7 l17 -8.8" stroke="#2c2270" stroke-width="1.5"/><path d="M961.4 593.7 l17 -8.8" stroke="#2c2270" stroke-width="1.5"/><circle cx="958.9" cy="540.7" r="1.1" fill="#3a2a90"/><circle cx="958.9" cy="600.7" r="1.1" fill="#3a2a90"/><path d="M798.3 587.9 l4 2 v4 l-4 -2z M832.3 606.4 l4 2 v4 l-4 -2z M859.3 595.4 l3.5 -1.8 v4 l-3.5 1.8z" fill="#1d1648"/><path d="M795.3 514.4 L837.3 535.4 L837.3 607.4 L795.3 586.4Z" fill="url(#hL)"/><path d="M837.3 535.4 L864.3 521.4 L864.3 593.4 L837.3 607.4Z" fill="url(#hR)"/><path d="M795.3 514.4 L822.3 500.4 L864.3 521.4 L837.3 535.4Z" fill="url(#hT)"/><path d="M795.3 515.6 L837.3 536.6 L864.3 522.6" fill="none" stroke="#6e5ee6" stroke-width="2.2"/><path d="M809.9 516.2 L835.1 528.8 L851.3 520.4 L826.1 507.8Z" fill="#e2708e"/><path d="M809.9 516.2 L822.5 522.5 L838.7 514.1 L826.1 507.8Z" fill="#e77f98"/><path d="M827.2 522.7 L839.1 516.5" stroke="#5a2a90" stroke-width="0.9"/><path d="M830.6 524.3 L842.5 518.2" stroke="#5a2a90" stroke-width="0.9"/><path d="M833.9 526.0 L845.8 519.9" stroke="#5a2a90" stroke-width="0.9"/><path d="M807.7 526.4 v5" stroke="#f3c0cc" stroke-width="1.7"/><path d="M810.7 528.4 v5" stroke="#f7b0a0" stroke-width="1.7"/><path d="M813.8 530.5 v5" stroke="#f08fb0" stroke-width="1.7"/><path d="M816.8 532.5 v5" stroke="#f7b0a0" stroke-width="1.7"/><path d="M819.9 534.6 v5" stroke="#f09a80" stroke-width="1.7"/><path d="M822.9 536.6 v5" stroke="#f08fb0" stroke-width="1.7"/><path d="M826.0 538.7 v5" stroke="#e070a0" stroke-width="1.7"/><path d="M801.3 544.4 l22 11" stroke="#d070c0" stroke-width="1.5"/><path d="M801.3 549.0 l22 11" stroke="#d070c0" stroke-width="1.5"/><path d="M801.3 553.6 l22 11" stroke="#d070c0" stroke-width="1.5"/><path d="M801.3 558.2 l22 11" stroke="#d070c0" stroke-width="1.5"/><path d="M801.3 562.8 l22 11" stroke="#d070c0" stroke-width="1.5"/><path d="M801.3 567.4 l22 11" stroke="#d070c0" stroke-width="1.5"/><path d="M801.3 572.0 l22 11" stroke="#d070c0" stroke-width="1.5"/><path d="M801.3 576.6 l22 11" stroke="#d070c0" stroke-width="1.5"/><path d="M826.3 550.4 l6 3 v34" fill="none" stroke="#c9a0e8" stroke-width="1"/><path d="M843.3 542.4 l17 -8.8" stroke="#2c2270" stroke-width="1.5"/><path d="M843.3 587.4 l17 -8.8" stroke="#2c2270" stroke-width="1.5"/><path d="M843.3 546.4 l17 -8.8" stroke="#2c2270" stroke-width="1.5"/><path d="M843.3 591.4 l17 -8.8" stroke="#2c2270" stroke-width="1.5"/><path d="M843.3 550.4 l17 -8.8" stroke="#2c2270" stroke-width="1.5"/><path d="M843.3 595.4 l17 -8.8" stroke="#2c2270" stroke-width="1.5"/><circle cx="840.8" cy="542.4" r="1.1" fill="#3a2a90"/><circle cx="840.8" cy="602.4" r="1.1" fill="#3a2a90"/><path d="M971.8 618.7 l4 2 v4 l-4 -2z M1005.8 637.2 l4 2 v4 l-4 -2z M1032.8 626.2 l3.5 -1.8 v4 l-3.5 1.8z" fill="#1d1648"/><path d="M968.8 545.2 L1010.8 566.2 L1010.8 638.2 L968.8 617.2Z" fill="url(#hL)"/><path d="M1010.8 566.2 L1037.8 552.2 L1037.8 624.2 L1010.8 638.2Z" fill="url(#hR)"/><path d="M968.8 545.2 L995.8 531.2 L1037.8 552.2 L1010.8 566.2Z" fill="url(#hT)"/><path d="M968.8 546.4000000000001 L1010.8 567.4000000000001 L1037.8 553.4000000000001" fill="none" stroke="#6e5ee6" stroke-width="2.2"/><path d="M983.4 547.0 L1008.6 559.6 L1024.8 551.2 L999.6 538.6Z" fill="#e2708e"/><path d="M983.4 547.0 L996.0 553.3 L1012.2 544.9 L999.6 538.6Z" fill="#e77f98"/><path d="M1000.7 553.5 L1012.6 547.3" stroke="#5a2a90" stroke-width="0.9"/><path d="M1004.1 555.1 L1016.0 549.0" stroke="#5a2a90" stroke-width="0.9"/><path d="M1007.4 556.8 L1019.3 550.7" stroke="#5a2a90" stroke-width="0.9"/><path d="M981.2 557.2 v5" stroke="#f3c0cc" stroke-width="1.7"/><path d="M984.2 559.2 v5" stroke="#f7b0a0" stroke-width="1.7"/><path d="M987.3 561.3 v5" stroke="#f08fb0" stroke-width="1.7"/><path d="M990.3 563.4 v5" stroke="#f7b0a0" stroke-width="1.7"/><path d="M993.4 565.4 v5" stroke="#f09a80" stroke-width="1.7"/><path d="M996.4 567.5 v5" stroke="#f08fb0" stroke-width="1.7"/><path d="M999.5 569.5 v5" stroke="#e070a0" stroke-width="1.7"/><path d="M973.8 571.2 l23 11.5" stroke="#f0d4ea" stroke-width="1.4"/><path d="M973.8 575.3 l20 10.0" stroke="#f0d4ea" stroke-width="1.4"/><path d="M973.8 579.4 l23 11.5" stroke="#f0d4ea" stroke-width="1.4"/><path d="M973.8 583.5 l18 9.0" stroke="#f0d4ea" stroke-width="1.4"/><path d="M973.8 587.6 l23 11.5" stroke="#f0d4ea" stroke-width="1.4"/><path d="M973.8 591.7 l21 10.5" stroke="#f0d4ea" stroke-width="1.4"/><path d="M973.8 595.8 l23 11.5" stroke="#f0d4ea" stroke-width="1.4"/><path d="M973.8 599.9 l17 8.5" stroke="#f0d4ea" stroke-width="1.4"/><path d="M973.8 604.0 l22 11.0" stroke="#f0d4ea" stroke-width="1.4"/><path d="M973.8 608.1 l19 9.5" stroke="#f0d4ea" stroke-width="1.4"/><path d="M998.3 593.9 l5.5 2.75" stroke="#e8c8f0" stroke-width="1.3"/><path d="M998.3 598.0 l5.5 2.75" stroke="#e8c8f0" stroke-width="1.3"/><path d="M998.3 602.1 l5.5 2.75" stroke="#e8c8f0" stroke-width="1.3"/><path d="M998.3 606.2 l5.5 2.75" stroke="#e8c8f0" stroke-width="1.3"/><path d="M998.3 610.3 l5.5 2.75" stroke="#e8c8f0" stroke-width="1.3"/><path d="M998.3 614.4 l5.5 2.75" stroke="#e8c8f0" stroke-width="1.3"/><path d="M998.3 618.5 l5.5 2.75" stroke="#e8c8f0" stroke-width="1.3"/><path d="M998.3 622.6 l5.5 2.75" stroke="#e8c8f0" stroke-width="1.3"/><path d="M1016.8 573.2 l17 -8.8" stroke="#2c2270" stroke-width="1.5"/><path d="M1016.8 618.2 l17 -8.8" stroke="#2c2270" stroke-width="1.5"/><path d="M1016.8 577.2 l17 -8.8" stroke="#2c2270" stroke-width="1.5"/><path d="M1016.8 622.2 l17 -8.8" stroke="#2c2270" stroke-width="1.5"/><path d="M1016.8 581.2 l17 -8.8" stroke="#2c2270" stroke-width="1.5"/><path d="M1016.8 626.2 l17 -8.8" stroke="#2c2270" stroke-width="1.5"/><circle cx="1014.3" cy="573.2" r="1.1" fill="#3a2a90"/><circle cx="1014.3" cy="633.2" r="1.1" fill="#3a2a90"/><path d="M853.7 620.4 l4 2 v4 l-4 -2z M887.7 638.9 l4 2 v4 l-4 -2z M914.7 627.9 l3.5 -1.8 v4 l-3.5 1.8z" fill="#1d1648"/><path d="M850.7 546.9 L892.7 567.9 L892.7 639.9 L850.7 618.9Z" fill="url(#hL)"/><path d="M892.7 567.9 L919.7 553.9 L919.7 625.9 L892.7 639.9Z" fill="url(#hR)"/><path d="M850.7 546.9 L877.7 532.9 L919.7 553.9 L892.7 567.9Z" fill="url(#hT)"/><path d="M850.7 548.1 L892.7 569.1 L919.7 555.1" fill="none" stroke="#6e5ee6" stroke-width="2.2"/><path d="M865.3 548.7 L890.5 561.3 L906.7 552.9 L881.5 540.3Z" fill="#e2708e"/><path d="M865.3 548.7 L877.9 555.0 L894.1 546.6 L881.5 540.3Z" fill="#e77f98"/><path d="M882.6 555.2 L894.5 549.0" stroke="#5a2a90" stroke-width="0.9"/><path d="M886.0 556.8 L897.9 550.7" stroke="#5a2a90" stroke-width="0.9"/><path d="M889.3 558.5 L901.2 552.4" stroke="#5a2a90" stroke-width="0.9"/><path d="M863.1 558.9 v5" stroke="#f3c0cc" stroke-width="1.7"/><path d="M866.1 560.9 v5" stroke="#f7b0a0" stroke-width="1.7"/><path d="M869.2 563.0 v5" stroke="#f08fb0" stroke-width="1.7"/><path d="M872.2 565.0 v5" stroke="#f7b0a0" stroke-width="1.7"/><path d="M875.3 567.1 v5" stroke="#f09a80" stroke-width="1.7"/><path d="M878.4 569.1 v5" stroke="#f08fb0" stroke-width="1.7"/><path d="M881.4 571.2 v5" stroke="#e070a0" stroke-width="1.7"/><path d="M856.7 572.9 l30 15 v17 l-30 -15z M856.7 593.9 l30 15 v17 l-30 -15z" fill="#1f184c" stroke="#3d3390" stroke-width="0.8"/><path d="M861.7 575.4 v17 M861.7 596.4 v17" stroke="#3a3088" stroke-width="0.7"/><path d="M866.7 577.9 v17 M866.7 598.9 v17" stroke="#3a3088" stroke-width="0.7"/><path d="M871.7 580.4 v17 M871.7 601.4 v17" stroke="#3a3088" stroke-width="0.7"/><path d="M876.7 582.9 v17 M876.7 603.9 v17" stroke="#3a3088" stroke-width="0.7"/><path d="M881.7 585.4 v17 M881.7 606.4 v17" stroke="#3a3088" stroke-width="0.7"/><path d="M898.7 574.9 l17 -8.8" stroke="#2c2270" stroke-width="1.5"/><path d="M898.7 619.9 l17 -8.8" stroke="#2c2270" stroke-width="1.5"/><path d="M898.7 578.9 l17 -8.8" stroke="#2c2270" stroke-width="1.5"/><path d="M898.7 623.9 l17 -8.8" stroke="#2c2270" stroke-width="1.5"/><path d="M898.7 582.9 l17 -8.8" stroke="#2c2270" stroke-width="1.5"/><path d="M898.7 627.9 l17 -8.8" stroke="#2c2270" stroke-width="1.5"/><circle cx="896.2" cy="574.9" r="1.1" fill="#3a2a90"/><circle cx="896.2" cy="634.9" r="1.1" fill="#3a2a90"/><path d="M735.6 622.1 l4 2 v4 l-4 -2z M769.6 640.6 l4 2 v4 l-4 -2z M796.6 629.6 l3.5 -1.8 v4 l-3.5 1.8z" fill="#1d1648"/><path d="M732.6 548.6 L774.6 569.6 L774.6 641.6 L732.6 620.6Z" fill="url(#hL)"/><path d="M774.6 569.6 L801.6 555.6 L801.6 627.6 L774.6 641.6Z" fill="url(#hR)"/><path d="M732.6 548.6 L759.6 534.6 L801.6 555.6 L774.6 569.6Z" fill="url(#hT)"/><path d="M732.6 549.8000000000001 L774.6 570.8000000000001 L801.6 556.8000000000001" fill="none" stroke="#6e5ee6" stroke-width="2.2"/><path d="M747.2 550.4 L772.4 563.0 L788.6 554.6 L763.4 542.0Z" fill="#e2708e"/><path d="M747.2 550.4 L759.8 556.7 L776.0 548.3 L763.4 542.0Z" fill="#e77f98"/><path d="M764.5 556.9 L776.4 550.7" stroke="#5a2a90" stroke-width="0.9"/><path d="M767.9 558.5 L779.8 552.4" stroke="#5a2a90" stroke-width="0.9"/><path d="M771.2 560.2 L783.1 554.1" stroke="#5a2a90" stroke-width="0.9"/><path d="M745.0 560.6 v5" stroke="#f3c0cc" stroke-width="1.7"/><path d="M748.0 562.6 v5" stroke="#f7b0a0" stroke-width="1.7"/><path d="M751.1 564.7 v5" stroke="#f08fb0" stroke-width="1.7"/><path d="M754.1 566.8 v5" stroke="#f7b0a0" stroke-width="1.7"/><path d="M757.2 568.8 v5" stroke="#f09a80" stroke-width="1.7"/><path d="M760.2 570.9 v5" stroke="#f08fb0" stroke-width="1.7"/><path d="M763.3 572.9 v5" stroke="#e070a0" stroke-width="1.7"/><path d="M738.6 578.6 l22 11" stroke="#d070c0" stroke-width="1.5"/><path d="M738.6 583.2 l22 11" stroke="#d070c0" stroke-width="1.5"/><path d="M738.6 587.8 l22 11" stroke="#d070c0" stroke-width="1.5"/><path d="M738.6 592.4 l22 11" stroke="#d070c0" stroke-width="1.5"/><path d="M738.6 597.0 l22 11" stroke="#d070c0" stroke-width="1.5"/><path d="M738.6 601.6 l22 11" stroke="#d070c0" stroke-width="1.5"/><path d="M738.6 606.2 l22 11" stroke="#d070c0" stroke-width="1.5"/><path d="M738.6 610.8 l22 11" stroke="#d070c0" stroke-width="1.5"/><path d="M763.6 584.6 l6 3 v34" fill="none" stroke="#c9a0e8" stroke-width="1"/><path d="M780.6 576.6 l17 -8.8" stroke="#2c2270" stroke-width="1.5"/><path d="M780.6 621.6 l17 -8.8" stroke="#2c2270" stroke-width="1.5"/><path d="M780.6 580.6 l17 -8.8" stroke="#2c2270" stroke-width="1.5"/><path d="M780.6 625.6 l17 -8.8" stroke="#2c2270" stroke-width="1.5"/><path d="M780.6 584.6 l17 -8.8" stroke="#2c2270" stroke-width="1.5"/><path d="M780.6 629.6 l17 -8.8" stroke="#2c2270" stroke-width="1.5"/><circle cx="778.1" cy="576.6" r="1.1" fill="#3a2a90"/><circle cx="778.1" cy="636.6" r="1.1" fill="#3a2a90"/><path d="M739.6 666.9 C735.2 659.1 736.2 645.7 743.5 640.8 C745.0 632.8 757.2 627.9 765.5 632.8 C771.1 624.5 786.5 627.4 787.9 640.8 C796.7 642.0 804.0 653.0 801.1 664.0 C808.9 670.1 810.1 681.1 804.0 687.2 L801.1 697.7 C796.7 700.6 790.6 698.2 788.2 695.3Z" fill="#b873de"/><path d="M736.7 668.4 C732.3 660.6 733.2 647.2 740.6 642.3 C742.0 634.2 754.2 629.3 762.5 634.2 C768.2 625.9 783.5 628.8 785.0 642.3 C793.8 643.5 801.1 654.5 798.2 665.5 C806.0 671.6 807.2 682.6 801.1 688.7 L798.2 699.2 C793.8 702.1 787.7 699.6 785.2 696.7Z" fill="#c47ad6"/><path d="M758.1 636.2 C763.8 627.9 779.1 630.8 780.6 644.2 L787.9 640.8 C786.5 627.4 771.1 624.5 765.5 632.8Z" fill="#e8a384"/><path d="M736.2 644.2 C737.6 636.2 749.8 631.3 758.1 636.2 L765.5 632.8 C757.2 627.9 745.0 632.8 743.5 640.8Z" fill="#e09aa0"/><path d="M732.3 670.4 C727.9 662.5 728.8 649.1 736.2 644.2 C737.6 636.2 749.8 631.3 758.1 636.2 C763.8 627.9 779.1 630.8 780.6 644.2 C789.4 645.4 796.7 656.4 793.8 667.4 C801.6 673.5 802.8 684.5 796.7 690.6 L793.8 701.1 C789.4 704.0 783.3 701.6 780.8 698.7Z" fill="url(#hC)"/><path d="M909.1 652.9 l4 2 v4 l-4 -2z M943.1 671.4 l4 2 v4 l-4 -2z M970.1 660.4 l3.5 -1.8 v4 l-3.5 1.8z" fill="#1d1648"/><path d="M906.1 579.4 L948.1 600.4 L948.1 672.4 L906.1 651.4Z" fill="url(#hL)"/><path d="M948.1 600.4 L975.1 586.4 L975.1 658.4 L948.1 672.4Z" fill="url(#hR)"/><path d="M906.1 579.4 L933.1 565.4 L975.1 586.4 L948.1 600.4Z" fill="url(#hT)"/><path d="M906.1 580.6 L948.1 601.6 L975.1 587.6" fill="none" stroke="#6e5ee6" stroke-width="2.2"/><path d="M920.7 581.2 L945.9 593.8 L962.1 585.4 L936.9 572.8Z" fill="#e2708e"/><path d="M920.7 581.2 L933.3 587.5 L949.5 579.1 L936.9 572.8Z" fill="#e77f98"/><path d="M938.0 587.7 L949.9 581.5" stroke="#5a2a90" stroke-width="0.9"/><path d="M941.4 589.3 L953.3 583.2" stroke="#5a2a90" stroke-width="0.9"/><path d="M944.7 591.0 L956.6 584.9" stroke="#5a2a90" stroke-width="0.9"/><path d="M918.5 591.4 v5" stroke="#f3c0cc" stroke-width="1.7"/><path d="M921.5 593.4 v5" stroke="#f7b0a0" stroke-width="1.7"/><path d="M924.6 595.5 v5" stroke="#f08fb0" stroke-width="1.7"/><path d="M927.6 597.5 v5" stroke="#f7b0a0" stroke-width="1.7"/><path d="M930.7 599.6 v5" stroke="#f09a80" stroke-width="1.7"/><path d="M933.8 601.6 v5" stroke="#f08fb0" stroke-width="1.7"/><path d="M936.8 603.7 v5" stroke="#e070a0" stroke-width="1.7"/><path d="M911.1 605.4 l23 11.5" stroke="#f0d4ea" stroke-width="1.4"/><path d="M911.1 609.5 l20 10.0" stroke="#f0d4ea" stroke-width="1.4"/><path d="M911.1 613.6 l23 11.5" stroke="#f0d4ea" stroke-width="1.4"/><path d="M911.1 617.7 l18 9.0" stroke="#f0d4ea" stroke-width="1.4"/><path d="M911.1 621.8 l23 11.5" stroke="#f0d4ea" stroke-width="1.4"/><path d="M911.1 625.9 l21 10.5" stroke="#f0d4ea" stroke-width="1.4"/><path d="M911.1 630.0 l23 11.5" stroke="#f0d4ea" stroke-width="1.4"/><path d="M911.1 634.1 l17 8.5" stroke="#f0d4ea" stroke-width="1.4"/><path d="M911.1 638.2 l22 11.0" stroke="#f0d4ea" stroke-width="1.4"/><path d="M911.1 642.3 l19 9.5" stroke="#f0d4ea" stroke-width="1.4"/><path d="M935.6 628.1 l5.5 2.75" stroke="#e8c8f0" stroke-width="1.3"/><path d="M935.6 632.2 l5.5 2.75" stroke="#e8c8f0" stroke-width="1.3"/><path d="M935.6 636.3 l5.5 2.75" stroke="#e8c8f0" stroke-width="1.3"/><path d="M935.6 640.4 l5.5 2.75" stroke="#e8c8f0" stroke-width="1.3"/><path d="M935.6 644.5 l5.5 2.75" stroke="#e8c8f0" stroke-width="1.3"/><path d="M935.6 648.6 l5.5 2.75" stroke="#e8c8f0" stroke-width="1.3"/><path d="M935.6 652.7 l5.5 2.75" stroke="#e8c8f0" stroke-width="1.3"/><path d="M935.6 656.8 l5.5 2.75" stroke="#e8c8f0" stroke-width="1.3"/><path d="M954.1 607.4 l17 -8.8" stroke="#2c2270" stroke-width="1.5"/><path d="M954.1 652.4 l17 -8.8" stroke="#2c2270" stroke-width="1.5"/><path d="M954.1 611.4 l17 -8.8" stroke="#2c2270" stroke-width="1.5"/><path d="M954.1 656.4 l17 -8.8" stroke="#2c2270" stroke-width="1.5"/><path d="M954.1 615.4 l17 -8.8" stroke="#2c2270" stroke-width="1.5"/><path d="M954.1 660.4 l17 -8.8" stroke="#2c2270" stroke-width="1.5"/><circle cx="951.6" cy="607.4" r="1.1" fill="#3a2a90"/><circle cx="951.6" cy="667.4" r="1.1" fill="#3a2a90"/><path d="M791.0 654.6 l4 2 v4 l-4 -2z M825.0 673.1 l4 2 v4 l-4 -2z M852.0 662.1 l3.5 -1.8 v4 l-3.5 1.8z" fill="#1d1648"/><path d="M788.0 581.1 L830.0 602.1 L830.0 674.1 L788.0 653.1Z" fill="url(#hL)"/><path d="M830.0 602.1 L857.0 588.1 L857.0 660.1 L830.0 674.1Z" fill="url(#hR)"/><path d="M788.0 581.1 L815.0 567.1 L857.0 588.1 L830.0 602.1Z" fill="url(#hT)"/><path d="M788.0 582.3000000000001 L830.0 603.3000000000001 L857.0 589.3000000000001" fill="none" stroke="#6e5ee6" stroke-width="2.2"/><path d="M802.6 582.9 L827.8 595.5 L844.0 587.1 L818.8 574.5Z" fill="#e2708e"/><path d="M802.6 582.9 L815.2 589.2 L831.4 580.8 L818.8 574.5Z" fill="#e77f98"/><path d="M819.9 589.4 L831.8 583.2" stroke="#5a2a90" stroke-width="0.9"/><path d="M823.3 591.0 L835.2 584.9" stroke="#5a2a90" stroke-width="0.9"/><path d="M826.6 592.7 L838.5 586.6" stroke="#5a2a90" stroke-width="0.9"/><path d="M800.4 593.1 v5" stroke="#f3c0cc" stroke-width="1.7"/><path d="M803.4 595.1 v5" stroke="#f7b0a0" stroke-width="1.7"/><path d="M806.5 597.2 v5" stroke="#f08fb0" stroke-width="1.7"/><path d="M809.5 599.2 v5" stroke="#f7b0a0" stroke-width="1.7"/><path d="M812.6 601.3 v5" stroke="#f09a80" stroke-width="1.7"/><path d="M815.6 603.4 v5" stroke="#f08fb0" stroke-width="1.7"/><path d="M818.7 605.4 v5" stroke="#e070a0" stroke-width="1.7"/><path d="M794.0 607.1 l30 15 v17 l-30 -15z M794.0 628.1 l30 15 v17 l-30 -15z" fill="#1f184c" stroke="#3d3390" stroke-width="0.8"/><path d="M799.0 609.6 v17 M799.0 630.6 v17" stroke="#3a3088" stroke-width="0.7"/><path d="M804.0 612.1 v17 M804.0 633.1 v17" stroke="#3a3088" stroke-width="0.7"/><path d="M809.0 614.6 v17 M809.0 635.6 v17" stroke="#3a3088" stroke-width="0.7"/><path d="M814.0 617.1 v17 M814.0 638.1 v17" stroke="#3a3088" stroke-width="0.7"/><path d="M819.0 619.6 v17 M819.0 640.6 v17" stroke="#3a3088" stroke-width="0.7"/><path d="M836.0 609.1 l17 -8.8" stroke="#2c2270" stroke-width="1.5"/><path d="M836.0 654.1 l17 -8.8" stroke="#2c2270" stroke-width="1.5"/><path d="M836.0 613.1 l17 -8.8" stroke="#2c2270" stroke-width="1.5"/><path d="M836.0 658.1 l17 -8.8" stroke="#2c2270" stroke-width="1.5"/><path d="M836.0 617.1 l17 -8.8" stroke="#2c2270" stroke-width="1.5"/><path d="M836.0 662.1 l17 -8.8" stroke="#2c2270" stroke-width="1.5"/><circle cx="833.5" cy="609.1" r="1.1" fill="#3a2a90"/><circle cx="833.5" cy="669.1" r="1.1" fill="#3a2a90"/><path d="M846.4 687.1 l4 2 v4 l-4 -2z M880.4 705.6 l4 2 v4 l-4 -2z M907.4 694.6 l3.5 -1.8 v4 l-3.5 1.8z" fill="#1d1648"/><path d="M843.4 613.6 L885.4 634.6 L885.4 706.6 L843.4 685.6Z" fill="url(#hL)"/><path d="M885.4 634.6 L912.4 620.6 L912.4 692.6 L885.4 706.6Z" fill="url(#hR)"/><path d="M843.4 613.6 L870.4 599.6 L912.4 620.6 L885.4 634.6Z" fill="url(#hT)"/><path d="M843.4 614.8000000000001 L885.4 635.8000000000001 L912.4 621.8000000000001" fill="none" stroke="#6e5ee6" stroke-width="2.2"/><path d="M858.0 615.4 L883.2 628.0 L899.4 619.6 L874.2 607.0Z" fill="#e2708e"/><path d="M858.0 615.4 L870.6 621.7 L886.8 613.3 L874.2 607.0Z" fill="#e77f98"/><path d="M875.3 621.9 L887.2 615.7" stroke="#5a2a90" stroke-width="0.9"/><path d="M878.7 623.5 L890.6 617.4" stroke="#5a2a90" stroke-width="0.9"/><path d="M882.0 625.2 L893.9 619.1" stroke="#5a2a90" stroke-width="0.9"/><path d="M855.8 625.6 v5" stroke="#f3c0cc" stroke-width="1.7"/><path d="M858.8 627.6 v5" stroke="#f7b0a0" stroke-width="1.7"/><path d="M861.9 629.7 v5" stroke="#f08fb0" stroke-width="1.7"/><path d="M864.9 631.8 v5" stroke="#f7b0a0" stroke-width="1.7"/><path d="M868.0 633.8 v5" stroke="#f09a80" stroke-width="1.7"/><path d="M871.0 635.9 v5" stroke="#f08fb0" stroke-width="1.7"/><path d="M874.1 637.9 v5" stroke="#e070a0" stroke-width="1.7"/><path d="M848.4 639.6 l23 11.5" stroke="#f0d4ea" stroke-width="1.4"/><path d="M848.4 643.7 l20 10.0" stroke="#f0d4ea" stroke-width="1.4"/><path d="M848.4 647.8 l23 11.5" stroke="#f0d4ea" stroke-width="1.4"/><path d="M848.4 651.9 l18 9.0" stroke="#f0d4ea" stroke-width="1.4"/><path d="M848.4 656.0 l23 11.5" stroke="#f0d4ea" stroke-width="1.4"/><path d="M848.4 660.1 l21 10.5" stroke="#f0d4ea" stroke-width="1.4"/><path d="M848.4 664.2 l23 11.5" stroke="#f0d4ea" stroke-width="1.4"/><path d="M848.4 668.3 l17 8.5" stroke="#f0d4ea" stroke-width="1.4"/><path d="M848.4 672.4 l22 11.0" stroke="#f0d4ea" stroke-width="1.4"/><path d="M848.4 676.5 l19 9.5" stroke="#f0d4ea" stroke-width="1.4"/><path d="M872.9 662.3 l5.5 2.75" stroke="#e8c8f0" stroke-width="1.3"/><path d="M872.9 666.4 l5.5 2.75" stroke="#e8c8f0" stroke-width="1.3"/><path d="M872.9 670.5 l5.5 2.75" stroke="#e8c8f0" stroke-width="1.3"/><path d="M872.9 674.6 l5.5 2.75" stroke="#e8c8f0" stroke-width="1.3"/><path d="M872.9 678.7 l5.5 2.75" stroke="#e8c8f0" stroke-width="1.3"/><path d="M872.9 682.8 l5.5 2.75" stroke="#e8c8f0" stroke-width="1.3"/><path d="M872.9 686.9 l5.5 2.75" stroke="#e8c8f0" stroke-width="1.3"/><path d="M872.9 691.0 l5.5 2.75" stroke="#e8c8f0" stroke-width="1.3"/><path d="M891.4 641.6 l17 -8.8" stroke="#2c2270" stroke-width="1.5"/><path d="M891.4 686.6 l17 -8.8" stroke="#2c2270" stroke-width="1.5"/><path d="M891.4 645.6 l17 -8.8" stroke="#2c2270" stroke-width="1.5"/><path d="M891.4 690.6 l17 -8.8" stroke="#2c2270" stroke-width="1.5"/><path d="M891.4 649.6 l17 -8.8" stroke="#2c2270" stroke-width="1.5"/><path d="M891.4 694.6 l17 -8.8" stroke="#2c2270" stroke-width="1.5"/><circle cx="888.9" cy="641.6" r="1.1" fill="#3a2a90"/><circle cx="888.9" cy="701.6" r="1.1" fill="#3a2a90"/><g fill="#2b2150"><circle cx="885.0" cy="320.0" r="1.1"/><circle cx="827.1" cy="337.9" r="0.8"/><circle cx="845.5" cy="354.3" r="1.6"/><circle cx="865.5" cy="364.3" r="1.1"/><circle cx="790.2" cy="364.3" r="1.6"/><circle cx="905.1" cy="350.1" r="0.8"/><circle cx="943.0" cy="343.7" r="1.1"/><circle cx="947.2" cy="368.5" r="1.8"/><circle cx="1001.0" cy="371.1" r="3.2"/><circle cx="818.1" cy="378.0" r="1.6"/><circle cx="888.7" cy="392.2" r="1.1"/><circle cx="911.4" cy="390.6" r="1.6"/><circle cx="837.6" cy="400.1" r="2.1"/><circle cx="862.4" cy="399.1" r="1.6"/><circle cx="928.8" cy="402.8" r="3.2"/><circle cx="953.5" cy="399.1" r="1.6"/><circle cx="758.6" cy="409.1" r="3.2"/><circle cx="717.5" cy="413.3" r="1.1"/><circle cx="789.1" cy="401.2" r="1.3"/><circle cx="771.7" cy="414.9" r="0.8"/><circle cx="813.9" cy="420.1" r="1.6"/><circle cx="836.6" cy="426.5" r="1.1"/><circle cx="869.2" cy="417.0" r="1.6"/><circle cx="895.0" cy="413.8" r="1.8"/><circle cx="975.7" cy="411.7" r="1.6"/><circle cx="911.4" cy="430.7" r="3.7"/><circle cx="962.5" cy="430.7" r="3.2"/><circle cx="1044.7" cy="435.4" r="3.2"/><circle cx="853.4" cy="440.7" r="2.6"/><circle cx="871.9" cy="446.0" r="2.1"/><circle cx="894.0" cy="440.7" r="2.9"/><circle cx="939.3" cy="439.6" r="1.6"/><circle cx="956.2" cy="447.5" r="1.6"/><circle cx="715.4" cy="446.5" r="2.9"/><circle cx="749.1" cy="452.8" r="1.1"/><circle cx="791.8" cy="450.2" r="2.1"/><circle cx="840.2" cy="456.5" r="2.1"/><circle cx="821.8" cy="469.7" r="1.3"/><circle cx="861.3" cy="459.1" r="1.6"/><circle cx="879.8" cy="459.1" r="2.1"/><circle cx="898.2" cy="473.9" r="2.4"/><circle cx="923.5" cy="472.8" r="2.1"/><circle cx="950.9" cy="474.9" r="3.7"/><circle cx="969.3" cy="484.4" r="2.6"/><circle cx="1002.5" cy="449.1" r="1.3"/><circle cx="1035.2" cy="457.0" r="1.6"/><circle cx="713.8" cy="487.1" r="2.9"/><circle cx="764.9" cy="473.9" r="3.2"/><circle cx="783.3" cy="476.5" r="2.1"/><circle cx="687.4" cy="496.6" r="1.6"/><circle cx="743.8" cy="507.1" r="3.4"/><circle cx="771.7" cy="515.0" r="3.2"/><circle cx="804.9" cy="495.0" r="1.1"/><circle cx="917.7" cy="495.0" r="3.7"/><circle cx="937.7" cy="505.5" r="2.6"/><circle cx="1007.3" cy="499.2" r="1.6"/><circle cx="1065.8" cy="501.8" r="2.6"/><circle cx="1013.1" cy="527.6" r="1.6"/><circle cx="1060.0" cy="526.6" r="1.3"/><circle cx="982.5" cy="515.0" r="1.6"/><circle cx="712.7" cy="524.0" r="1.3"/><circle cx="726.9" cy="539.8" r="1.8"/><circle cx="708.5" cy="548.7" r="1.3"/><circle cx="687.4" cy="548.7" r="1.6"/><circle cx="1050.0" cy="554.5" r="1.6"/><circle cx="1040.5" cy="589.8" r="2.1"/><circle cx="708.5" cy="599.3" r="2.1"/><circle cx="959.9" cy="617.8" r="3.2"/><circle cx="987.8" cy="588.8" r="2.6"/><circle cx="920.9" cy="579.3" r="2.1"/></g></svg>
<div class="sec" id="feat" style="top:865px;height:540px;background:radial-gradient(ellipse 300px 130px at 500px 0,rgba(75,26,119,.6),rgba(75,26,119,0)),radial-gradient(ellipse 300px 110px at 520px 100%,rgba(75,26,119,.55),rgba(75,26,119,0)),linear-gradient(90deg,#a55d96 0%,#93508f 16%,#7c3c8b 31%,#692d87 43%,#59247f 55%,#4f1d7a 72%,#4b1a77 100%);"><svg width="1158" height="540" viewBox="0 0 1158 540" style="left:0;top:0"><path d="M-70 -204 L-2 -165 L-70 -126 L-137 -165Z" fill="rgba(255,255,255,0.032)"/><path d="M-137 -165 L-70 -126 L-70 -48 L-137 -87Z" fill="rgba(255,255,255,0.015)"/><path d="M-2 -165 L-70 -126 L-70 -48 L-2 -87Z" fill="rgba(20,0,60,0.042)"/><path d="M59 -273 L194 -195 L59 -117 L-76 -195Z" fill="rgba(255,255,255,0.016)"/><path d="M-76 -195 L59 -117 L59 39 L-76 -39Z" fill="rgba(255,255,255,0.007)"/><path d="M194 -195 L59 -117 L59 39 L194 -39Z" fill="rgba(20,0,60,0.021)"/><path d="M197 -194 L265 -155 L197 -116 L130 -155Z" fill="rgba(255,255,255,0.016)"/><path d="M130 -155 L197 -116 L197 -38 L130 -77Z" fill="rgba(255,255,255,0.007)"/><path d="M265 -155 L197 -116 L197 -38 L265 -77Z" fill="rgba(20,0,60,0.021)"/><path d="M876 -263 L1011 -185 L876 -107 L741 -185Z" fill="rgba(255,255,255,0.016)"/><path d="M741 -185 L876 -107 L876 49 L741 -29Z" fill="rgba(255,255,255,0.007)"/><path d="M1011 -185 L876 -107 L876 49 L1011 -29Z" fill="rgba(20,0,60,0.021)"/><path d="M1149 -194 L1217 -155 L1149 -116 L1082 -155Z" fill="rgba(255,255,255,0.027)"/><path d="M1082 -155 L1149 -116 L1149 -38 L1082 -77Z" fill="rgba(255,255,255,0.012)"/><path d="M1217 -155 L1149 -116 L1149 -38 L1217 -77Z" fill="rgba(20,0,60,0.035)"/><path d="M1421 -276 L1556 -198 L1421 -120 L1286 -198Z" fill="rgba(255,255,255,0.027)"/><path d="M1286 -198 L1421 -120 L1421 36 L1286 -42Z" fill="rgba(255,255,255,0.012)"/><path d="M1556 -198 L1421 -120 L1421 36 L1556 -42Z" fill="rgba(20,0,60,0.034)"/><path d="M-133 -78 L-65 -39 L-133 -0 L-200 -39Z" fill="rgba(255,255,255,0.026)"/><path d="M-200 -39 L-133 -0 L-133 78 L-200 39Z" fill="rgba(255,255,255,0.012)"/><path d="M-65 -39 L-133 -0 L-133 78 L-65 39Z" fill="rgba(20,0,60,0.034)"/><path d="M132 -122 L234 -64 L132 -5 L31 -64Z" fill="rgba(255,255,255,0.019)"/><path d="M31 -64 L132 -5 L132 112 L31 53Z" fill="rgba(255,255,255,0.008)"/><path d="M234 -64 L132 -5 L132 112 L234 53Z" fill="rgba(20,0,60,0.024)"/><path d="M406 -109 L507 -51 L406 8 L304 -51Z" fill="rgba(255,255,255,0.030)"/><path d="M304 -51 L406 8 L406 125 L304 66Z" fill="rgba(255,255,255,0.014)"/><path d="M507 -51 L406 8 L406 125 L507 66Z" fill="rgba(20,0,60,0.039)"/><path d="M533 -80 L600 -41 L533 -2 L465 -41Z" fill="rgba(255,255,255,0.031)"/><path d="M465 -41 L533 -2 L533 76 L465 37Z" fill="rgba(255,255,255,0.014)"/><path d="M600 -41 L533 -2 L533 76 L600 37Z" fill="rgba(20,0,60,0.040)"/><path d="M674 -108 L775 -49 L674 9 L573 -49Z" fill="rgba(255,255,255,0.017)"/><path d="M573 -49 L674 9 L674 126 L573 68Z" fill="rgba(255,255,255,0.007)"/><path d="M775 -49 L674 9 L674 126 L775 68Z" fill="rgba(20,0,60,0.022)"/><path d="M1218 -115 L1319 -57 L1218 2 L1116 -57Z" fill="rgba(255,255,255,0.025)"/><path d="M1116 -57 L1218 2 L1218 119 L1116 60Z" fill="rgba(255,255,255,0.011)"/><path d="M1319 -57 L1218 2 L1218 119 L1319 60Z" fill="rgba(20,0,60,0.032)"/><path d="M59 43 L126 82 L59 121 L-9 82Z" fill="rgba(255,255,255,0.029)"/><path d="M-9 82 L59 121 L59 199 L-9 160Z" fill="rgba(255,255,255,0.013)"/><path d="M126 82 L59 121 L59 199 L126 160Z" fill="rgba(20,0,60,0.037)"/><path d="M481 -3 L582 55 L481 114 L379 55Z" fill="rgba(255,255,255,0.035)"/><path d="M379 55 L481 114 L481 231 L379 172Z" fill="rgba(255,255,255,0.016)"/><path d="M582 55 L481 114 L481 231 L582 172Z" fill="rgba(20,0,60,0.045)"/><path d="M600 -48 L735 30 L600 108 L465 30Z" fill="rgba(255,255,255,0.031)"/><path d="M465 30 L600 108 L600 264 L465 186Z" fill="rgba(255,255,255,0.014)"/><path d="M735 30 L600 108 L600 264 L735 186Z" fill="rgba(20,0,60,0.040)"/><path d="M741 47 L809 86 L741 125 L673 86Z" fill="rgba(255,255,255,0.025)"/><path d="M673 86 L741 125 L741 203 L673 164Z" fill="rgba(255,255,255,0.011)"/><path d="M809 86 L741 125 L741 203 L809 164Z" fill="rgba(20,0,60,0.033)"/><path d="M879 8 L980 66 L879 125 L778 66Z" fill="rgba(255,255,255,0.032)"/><path d="M778 66 L879 125 L879 242 L778 183Z" fill="rgba(255,255,255,0.014)"/><path d="M980 66 L879 125 L879 242 L980 183Z" fill="rgba(20,0,60,0.042)"/><path d="M1158 4 L1259 62 L1158 121 L1057 62Z" fill="rgba(255,255,255,0.023)"/><path d="M1057 62 L1158 121 L1158 238 L1057 179Z" fill="rgba(255,255,255,0.010)"/><path d="M1259 62 L1158 121 L1158 238 L1259 179Z" fill="rgba(20,0,60,0.030)"/><path d="M1277 34 L1345 73 L1277 112 L1209 73Z" fill="rgba(255,255,255,0.020)"/><path d="M1209 73 L1277 112 L1277 190 L1209 151Z" fill="rgba(255,255,255,0.009)"/><path d="M1345 73 L1277 112 L1277 190 L1345 151Z" fill="rgba(20,0,60,0.026)"/><path d="M1412 -43 L1547 35 L1412 113 L1277 35Z" fill="rgba(255,255,255,0.018)"/><path d="M1277 35 L1412 113 L1412 269 L1277 191Z" fill="rgba(255,255,255,0.008)"/><path d="M1547 35 L1412 113 L1412 269 L1547 191Z" fill="rgba(20,0,60,0.023)"/><path d="M-134 87 L1 165 L-134 243 L-269 165Z" fill="rgba(255,255,255,0.030)"/><path d="M-269 165 L-134 243 L-134 399 L-269 321Z" fill="rgba(255,255,255,0.013)"/><path d="M1 165 L-134 243 L-134 399 L1 321Z" fill="rgba(20,0,60,0.038)"/><path d="M3 83 L138 161 L3 239 L-132 161Z" fill="rgba(255,255,255,0.025)"/><path d="M-132 161 L3 239 L3 395 L-132 317Z" fill="rgba(255,255,255,0.011)"/><path d="M138 161 L3 239 L3 395 L138 317Z" fill="rgba(20,0,60,0.032)"/><path d="M668 120 L769 178 L668 237 L566 178Z" fill="rgba(255,255,255,0.016)"/><path d="M566 178 L668 237 L668 354 L566 295Z" fill="rgba(255,255,255,0.007)"/><path d="M769 178 L668 237 L668 354 L769 295Z" fill="rgba(20,0,60,0.021)"/><path d="M809 148 L877 187 L809 226 L742 187Z" fill="rgba(255,255,255,0.028)"/><path d="M742 187 L809 226 L809 304 L742 265Z" fill="rgba(255,255,255,0.012)"/><path d="M877 187 L809 226 L809 304 L877 265Z" fill="rgba(20,0,60,0.036)"/><path d="M939 70 L1074 148 L939 226 L804 148Z" fill="rgba(255,255,255,0.023)"/><path d="M804 148 L939 226 L939 382 L804 304Z" fill="rgba(255,255,255,0.010)"/><path d="M1074 148 L939 226 L939 382 L1074 304Z" fill="rgba(20,0,60,0.029)"/><path d="M1083 149 L1151 188 L1083 227 L1016 188Z" fill="rgba(255,255,255,0.020)"/><path d="M1016 188 L1083 227 L1083 305 L1016 266Z" fill="rgba(255,255,255,0.009)"/><path d="M1151 188 L1083 227 L1083 305 L1151 266Z" fill="rgba(20,0,60,0.026)"/><path d="M1215 109 L1317 168 L1215 226 L1114 168Z" fill="rgba(255,255,255,0.025)"/><path d="M1114 168 L1215 226 L1215 343 L1114 285Z" fill="rgba(255,255,255,0.011)"/><path d="M1317 168 L1215 226 L1215 343 L1317 285Z" fill="rgba(20,0,60,0.033)"/><path d="M-76 226 L25 285 L-76 343 L-177 285Z" fill="rgba(255,255,255,0.022)"/><path d="M-177 285 L-76 343 L-76 460 L-177 402Z" fill="rgba(255,255,255,0.010)"/><path d="M25 285 L-76 343 L-76 460 L25 402Z" fill="rgba(20,0,60,0.029)"/><path d="M68 267 L135 306 L68 345 L0 306Z" fill="rgba(255,255,255,0.035)"/><path d="M0 306 L68 345 L68 423 L0 384Z" fill="rgba(255,255,255,0.016)"/><path d="M135 306 L68 345 L68 423 L135 384Z" fill="rgba(20,0,60,0.045)"/><path d="M211 200 L346 278 L211 356 L76 278Z" fill="rgba(255,255,255,0.021)"/><path d="M76 278 L211 356 L211 512 L76 434Z" fill="rgba(255,255,255,0.010)"/><path d="M346 278 L211 356 L211 512 L346 434Z" fill="rgba(20,0,60,0.028)"/><path d="M473 242 L575 301 L473 359 L372 301Z" fill="rgba(255,255,255,0.022)"/><path d="M372 301 L473 359 L473 476 L372 418Z" fill="rgba(255,255,255,0.010)"/><path d="M575 301 L473 359 L473 476 L575 418Z" fill="rgba(20,0,60,0.029)"/><path d="M614 192 L749 270 L614 348 L478 270Z" fill="rgba(255,255,255,0.020)"/><path d="M478 270 L614 348 L614 504 L478 426Z" fill="rgba(255,255,255,0.009)"/><path d="M749 270 L614 348 L614 504 L749 426Z" fill="rgba(20,0,60,0.026)"/><path d="M-135 317 L-0 395 L-135 473 L-270 395Z" fill="rgba(255,255,255,0.036)"/><path d="M-270 395 L-135 473 L-135 629 L-270 551Z" fill="rgba(255,255,255,0.016)"/><path d="M-0 395 L-135 473 L-135 629 L-0 551Z" fill="rgba(20,0,60,0.047)"/><path d="M139 399 L207 438 L139 477 L71 438Z" fill="rgba(255,255,255,0.024)"/><path d="M71 438 L139 477 L139 555 L71 516Z" fill="rgba(255,255,255,0.011)"/><path d="M207 438 L139 477 L139 555 L207 516Z" fill="rgba(20,0,60,0.032)"/><path d="M668 389 L735 428 L668 467 L600 428Z" fill="rgba(255,255,255,0.022)"/><path d="M600 428 L668 467 L668 545 L600 506Z" fill="rgba(255,255,255,0.010)"/><path d="M735 428 L668 467 L668 545 L735 506Z" fill="rgba(20,0,60,0.029)"/><path d="M817 312 L953 390 L817 468 L682 390Z" fill="rgba(255,255,255,0.029)"/><path d="M682 390 L817 468 L817 624 L682 546Z" fill="rgba(255,255,255,0.013)"/><path d="M953 390 L817 468 L817 624 L953 546Z" fill="rgba(20,0,60,0.037)"/><path d="M1089 396 L1157 435 L1089 474 L1021 435Z" fill="rgba(255,255,255,0.031)"/><path d="M1021 435 L1089 474 L1089 552 L1021 513Z" fill="rgba(255,255,255,0.014)"/><path d="M1157 435 L1089 474 L1089 552 L1157 513Z" fill="rgba(20,0,60,0.040)"/><path d="M1215 393 L1282 432 L1215 471 L1147 432Z" fill="rgba(255,255,255,0.017)"/><path d="M1147 432 L1215 471 L1215 549 L1147 510Z" fill="rgba(255,255,255,0.008)"/><path d="M1282 432 L1215 471 L1215 549 L1282 510Z" fill="rgba(20,0,60,0.022)"/><path d="M72 500 L140 539 L72 578 L4 539Z" fill="rgba(255,255,255,0.018)"/><path d="M4 539 L72 578 L72 656 L4 617Z" fill="rgba(255,255,255,0.008)"/><path d="M140 539 L72 578 L72 656 L140 617Z" fill="rgba(20,0,60,0.023)"/><path d="M209 461 L310 519 L209 578 L107 519Z" fill="rgba(255,255,255,0.032)"/><path d="M107 519 L209 578 L209 695 L107 636Z" fill="rgba(255,255,255,0.015)"/><path d="M310 519 L209 578 L209 695 L310 636Z" fill="rgba(20,0,60,0.042)"/><path d="M609 419 L744 497 L609 575 L474 497Z" fill="rgba(255,255,255,0.032)"/><path d="M474 497 L609 575 L609 731 L474 653Z" fill="rgba(255,255,255,0.014)"/><path d="M744 497 L609 575 L609 731 L744 653Z" fill="rgba(20,0,60,0.041)"/><path d="M877 514 L944 553 L877 592 L809 553Z" fill="rgba(255,255,255,0.032)"/><path d="M809 553 L877 592 L877 670 L809 631Z" fill="rgba(255,255,255,0.015)"/><path d="M944 553 L877 592 L877 670 L944 631Z" fill="rgba(20,0,60,0.042)"/><path d="M1008 468 L1109 527 L1008 585 L906 527Z" fill="rgba(255,255,255,0.031)"/><path d="M906 527 L1008 585 L1008 702 L906 644Z" fill="rgba(255,255,255,0.014)"/><path d="M1109 527 L1008 585 L1008 702 L1109 644Z" fill="rgba(20,0,60,0.040)"/><path d="M1147 422 L1282 500 L1147 578 L1012 500Z" fill="rgba(255,255,255,0.034)"/><path d="M1012 500 L1147 578 L1147 734 L1012 656Z" fill="rgba(255,255,255,0.015)"/><path d="M1282 500 L1147 578 L1147 734 L1282 656Z" fill="rgba(20,0,60,0.044)"/><path d="M1287 474 L1388 533 L1287 591 L1185 533Z" fill="rgba(255,255,255,0.026)"/><path d="M1185 533 L1287 591 L1287 708 L1185 650Z" fill="rgba(255,255,255,0.012)"/><path d="M1388 533 L1287 591 L1287 708 L1388 650Z" fill="rgba(20,0,60,0.034)"/><path d="M0 614 L68 653 L0 692 L-67 653Z" fill="rgba(255,255,255,0.024)"/><path d="M-67 653 L0 692 L0 770 L-67 731Z" fill="rgba(255,255,255,0.011)"/><path d="M68 653 L0 692 L0 770 L68 731Z" fill="rgba(20,0,60,0.032)"/><path d="M141 617 L208 656 L141 695 L73 656Z" fill="rgba(255,255,255,0.018)"/><path d="M73 656 L141 695 L141 773 L73 734Z" fill="rgba(255,255,255,0.008)"/><path d="M208 656 L141 695 L141 773 L208 734Z" fill="rgba(20,0,60,0.023)"/><path d="M402 624 L469 663 L402 702 L334 663Z" fill="rgba(255,255,255,0.027)"/><path d="M334 663 L402 702 L402 780 L334 741Z" fill="rgba(255,255,255,0.012)"/><path d="M469 663 L402 702 L402 780 L469 741Z" fill="rgba(20,0,60,0.035)"/><path d="M667 540 L802 618 L667 696 L532 618Z" fill="rgba(255,255,255,0.016)"/><path d="M532 618 L667 696 L667 852 L532 774Z" fill="rgba(255,255,255,0.007)"/><path d="M802 618 L667 696 L667 852 L802 774Z" fill="rgba(20,0,60,0.021)"/><path d="M812 590 L913 649 L812 707 L711 649Z" fill="rgba(255,255,255,0.034)"/><path d="M711 649 L812 707 L812 824 L711 766Z" fill="rgba(255,255,255,0.015)"/><path d="M913 649 L812 707 L812 824 L913 766Z" fill="rgba(20,0,60,0.044)"/><path d="M955 548 L1090 626 L955 704 L820 626Z" fill="rgba(255,255,255,0.019)"/><path d="M820 626 L955 704 L955 860 L820 782Z" fill="rgba(255,255,255,0.009)"/><path d="M1090 626 L955 704 L955 860 L1090 782Z" fill="rgba(20,0,60,0.025)"/><path d="M1081 546 L1217 624 L1081 702 L946 624Z" fill="rgba(255,255,255,0.035)"/><path d="M946 624 L1081 702 L1081 858 L946 780Z" fill="rgba(255,255,255,0.016)"/><path d="M1217 624 L1081 702 L1081 858 L1217 780Z" fill="rgba(20,0,60,0.045)"/></svg></div>
<svg style="left:0;top:865px" width="480" height="540" viewBox="0 865 480 540"><defs>
<linearGradient id="fL" x1="0" y1="0" x2="0" y2="1"><stop offset="0" stop-color="#3a29cc"/><stop offset="1" stop-color="#563ffa"/></linearGradient>
<linearGradient id="fTop" x1="0" y1="0" x2="1" y2="0"><stop offset="0" stop-color="#221c6c"/><stop offset="1" stop-color="#2c2488"/></linearGradient>
<linearGradient id="fGlow" x1="0" y1="0" x2="0" y2="1"><stop offset="0" stop-color="#6b5aff"/><stop offset="1" stop-color="#4e3ae6" stop-opacity=".85"/></linearGradient>
<linearGradient id="fScr" x1="0" y1="0" x2="1" y2="0"><stop offset="0" stop-color="#25187a"/><stop offset="1" stop-color="#3d26b4"/></linearGradient>
</defs><defs><radialGradient id="gm" cx="0.5" cy="0.5" r="0.5"><stop offset="0.55" stop-color="#fff"/><stop offset="1" stop-color="#000"/></radialGradient><mask id="gmask" maskUnits="userSpaceOnUse" x="0" y="865" width="480" height="540"><ellipse cx="250" cy="1135" rx="235" ry="235" fill="url(#gm)"/></mask></defs><g stroke="rgba(255,205,235,.12)" stroke-width="0.8" fill="none" mask="url(#gmask)"><path d="M60 867.0 l380 -217"/><path d="M60 727.0 l380 217"/><path d="M60 886.5 l380 -217"/><path d="M60 746.5 l380 217"/><path d="M60 906.0 l380 -217"/><path d="M60 766.0 l380 217"/><path d="M60 925.5 l380 -217"/><path d="M60 785.5 l380 217"/><path d="M60 945.0 l380 -217"/><path d="M60 805.0 l380 217"/><path d="M60 964.5 l380 -217"/><path d="M60 824.5 l380 217"/><path d="M60 984.0 l380 -217"/><path d="M60 844.0 l380 217"/><path d="M60 1003.5 l380 -217"/><path d="M60 863.5 l380 217"/><path d="M60 1023.0 l380 -217"/><path d="M60 883.0 l380 217"/><path d="M60 1042.5 l380 -217"/><path d="M60 902.5 l380 217"/><path d="M60 1062.0 l380 -217"/><path d="M60 922.0 l380 217"/><path d="M60 1081.5 l380 -217"/><path d="M60 941.5 l380 217"/><path d="M60 1101.0 l380 -217"/><path d="M60 961.0 l380 217"/><path d="M60 1120.5 l380 -217"/><path d="M60 980.5 l380 217"/><path d="M60 1140.0 l380 -217"/><path d="M60 1000.0 l380 217"/><path d="M60 1159.5 l380 -217"/><path d="M60 1019.5 l380 217"/><path d="M60 1179.0 l380 -217"/><path d="M60 1039.0 l380 217"/><path d="M60 1198.5 l380 -217"/><path d="M60 1058.5 l380 217"/><path d="M60 1218.0 l380 -217"/><path d="M60 1078.0 l380 217"/><path d="M60 1237.5 l380 -217"/><path d="M60 1097.5 l380 217"/><path d="M60 1257.0 l380 -217"/><path d="M60 1117.0 l380 217"/><path d="M60 1276.5 l380 -217"/><path d="M60 1136.5 l380 217"/><path d="M60 1296.0 l380 -217"/><path d="M60 1156.0 l380 217"/><path d="M60 1315.5 l380 -217"/><path d="M60 1175.5 l380 217"/><path d="M60 1335.0 l380 -217"/><path d="M60 1195.0 l380 217"/><path d="M60 1354.5 l380 -217"/><path d="M60 1214.5 l380 217"/><path d="M60 1374.0 l380 -217"/><path d="M60 1234.0 l380 217"/><path d="M60 1393.5 l380 -217"/><path d="M60 1253.5 l380 217"/><path d="M60 1413.0 l380 -217"/><path d="M60 1273.0 l380 217"/><path d="M60 1432.5 l380 -217"/><path d="M60 1292.5 l380 217"/><path d="M60 1452.0 l380 -217"/><path d="M60 1312.0 l380 217"/><path d="M60 1471.5 l380 -217"/><path d="M60 1331.5 l380 217"/><path d="M60 1491.0 l380 -217"/><path d="M60 1351.0 l380 217"/><path d="M60 1510.5 l380 -217"/><path d="M60 1370.5 l380 217"/><path d="M60 1530.0 l380 -217"/><path d="M60 1390.0 l380 217"/><path d="M60 1549.5 l380 -217"/><path d="M60 1409.5 l380 217"/></g><g fill="none" stroke="rgba(255,215,238,.85)" stroke-width="1.1"><path d="M288.4 1170.3 L312.2 1184.8 L281.8 1202.6 L301.7 1213.7"/><path d="M238.2 1181.4 L302.2 1215.8"/><path d="M238.2 1184.6 L302.2 1219.0"/><path d="M238.2 1187.8 L302.2 1222.2"/><path d="M217 1211.3 L234.2 1220.6 L267.3 1202.6 L300 1221"/><path d="M259.3 1242.2 L287.1 1227.2 L301.7 1234.3"/><path d="M343 1155 L310.9 1174.3 L341.3 1192.5"/><path d="M368 1170 L341 1186 L352 1192"/><path d="M393 1184 L370.4 1197.8"/><path d="M150 1168 L168 1178 M270 1168 L300 1186"/></g><path d="M142.89999999999998 1118.5 L184.7 1159.1 L226.5 1120.5 L196.7 1096.5Z" fill="rgba(96,30,120,.2)"/><path d="M155.89999999999998 1105.5 L196.7 1128.6999999999998 L237.5 1105.5 L237.5 1115.0 L196.7 1138.1999999999998 L155.89999999999998 1115.0Z" fill="url(#fGlow)"/><path d="M156.89999999999998 1114.0 L196.7 1137.1999999999998 L236.5 1114.0 L235.5 1117.0 L196.7 1140.6999999999998 L157.89999999999998 1117.0Z" fill="#271c66"/><path d="M156.89999999999998 987 L196.7 1009.6 L196.7 1129.1 L156.89999999999998 1106.5Z" fill="#211a70"/><path d="M236.5 987 L196.7 1009.6 L196.7 1129.1 L236.5 1106.5Z" fill="#1e1768"/><path d="M160.5 1004.8 L195.1 1024.5 L195.1 1033.1 L160.5 1013.4Z" fill="url(#fL)" opacity="1"/><path d="M160.5 1004.0 L195.1 1023.7" stroke="#8d7bea" stroke-width="0.8" opacity=".8"/><path d="M160.5 1013.4 L195.1 1033.1" stroke="#dccbff" stroke-width="2" stroke-linecap="round"/><path d="M232.9 1004.8 L198.3 1024.5 L198.3 1033.1 L232.9 1013.4Z" fill="url(#fL)" opacity="0.88"/><path d="M232.9 1004.0 L198.3 1023.7" stroke="#8d7bea" stroke-width="0.8" opacity=".8"/><path d="M232.9 1013.4 L198.3 1033.1" stroke="#d0bcff" stroke-width="2" stroke-linecap="round"/><path d="M160.5 1023.1 L195.1 1042.8 L195.1 1051.4 L160.5 1031.7Z" fill="url(#fL)" opacity="1"/><path d="M160.5 1022.3 L195.1 1042.0" stroke="#8d7bea" stroke-width="0.8" opacity=".8"/><path d="M160.5 1031.7 L195.1 1051.4" stroke="#dccbff" stroke-width="2" stroke-linecap="round"/><path d="M232.9 1023.1 L198.3 1042.8 L198.3 1051.4 L232.9 1031.7Z" fill="url(#fL)" opacity="0.88"/><path d="M232.9 1022.3 L198.3 1042.0" stroke="#8d7bea" stroke-width="0.8" opacity=".8"/><path d="M232.9 1031.7 L198.3 1051.4" stroke="#d0bcff" stroke-width="2" stroke-linecap="round"/><path d="M160.5 1041.4 L195.1 1061.1 L195.1 1069.7 L160.5 1050.0Z" fill="url(#fL)" opacity="1"/><path d="M160.5 1040.6 L195.1 1060.3" stroke="#8d7bea" stroke-width="0.8" opacity=".8"/><path d="M160.5 1050.0 L195.1 1069.7" stroke="#dccbff" stroke-width="2" stroke-linecap="round"/><path d="M232.9 1041.4 L198.3 1061.1 L198.3 1069.7 L232.9 1050.0Z" fill="url(#fL)" opacity="0.88"/><path d="M232.9 1040.6 L198.3 1060.3" stroke="#8d7bea" stroke-width="0.8" opacity=".8"/><path d="M232.9 1050.0 L198.3 1069.7" stroke="#d0bcff" stroke-width="2" stroke-linecap="round"/><path d="M160.5 1059.7 L195.1 1079.4 L195.1 1088.0 L160.5 1068.3Z" fill="url(#fL)" opacity="1"/><path d="M160.5 1058.9 L195.1 1078.6" stroke="#8d7bea" stroke-width="0.8" opacity=".8"/><path d="M160.5 1068.3 L195.1 1088.0" stroke="#dccbff" stroke-width="2" stroke-linecap="round"/><path d="M232.9 1059.7 L198.3 1079.4 L198.3 1088.0 L232.9 1068.3Z" fill="url(#fL)" opacity="0.88"/><path d="M232.9 1058.9 L198.3 1078.6" stroke="#8d7bea" stroke-width="0.8" opacity=".8"/><path d="M232.9 1068.3 L198.3 1088.0" stroke="#d0bcff" stroke-width="2" stroke-linecap="round"/><path d="M160.5 1078.0 L195.1 1097.7 L195.1 1106.3 L160.5 1086.6Z" fill="url(#fL)" opacity="1"/><path d="M160.5 1077.2 L195.1 1096.9" stroke="#8d7bea" stroke-width="0.8" opacity=".8"/><path d="M160.5 1086.6 L195.1 1106.3" stroke="#dccbff" stroke-width="2" stroke-linecap="round"/><path d="M232.9 1078.0 L198.3 1097.7 L198.3 1106.3 L232.9 1086.6Z" fill="url(#fL)" opacity="0.88"/><path d="M232.9 1077.2 L198.3 1096.9" stroke="#8d7bea" stroke-width="0.8" opacity=".8"/><path d="M232.9 1086.6 L198.3 1106.3" stroke="#d0bcff" stroke-width="2" stroke-linecap="round"/><path d="M160.5 1096.3 L195.1 1116.0 L195.1 1124.6 L160.5 1104.9Z" fill="url(#fL)" opacity="1"/><path d="M160.5 1095.5 L195.1 1115.2" stroke="#8d7bea" stroke-width="0.8" opacity=".8"/><path d="M160.5 1104.9 L195.1 1124.6" stroke="#dccbff" stroke-width="2" stroke-linecap="round"/><path d="M232.9 1096.3 L198.3 1116.0 L198.3 1124.6 L232.9 1104.9Z" fill="url(#fL)" opacity="0.88"/><path d="M232.9 1095.5 L198.3 1115.2" stroke="#8d7bea" stroke-width="0.8" opacity=".8"/><path d="M232.9 1104.9 L198.3 1124.6" stroke="#d0bcff" stroke-width="2" stroke-linecap="round"/><path d="M158.09999999999997 989 V1106.5 M235.3 989 V1106.5 M196.7 1009.6 V1129.1" stroke="#2a2290" stroke-width="1.6" opacity=".7"/><path d="M156.89999999999998 987 L196.7 1009.6 L236.5 987 L236.5 990.6 L196.7 1013.2 L156.89999999999998 990.6Z" fill="#3a2cb8"/><path d="M156.89999999999998 987 L196.7 964.4 L236.5 987 L196.7 1009.6Z" fill="#eedfff"/><path d="M162.49999999999997 987.2 L196.7 967.8 L230.9 987.2 L196.7 1006.6Z" fill="url(#fTop)"/><path d="M69.4 1160.7 L111.2 1201.3 L153.0 1162.7 L123.2 1138.7Z" fill="rgba(96,30,120,.2)"/><path d="M82.4 1147.7 L123.2 1170.8999999999999 L164.0 1147.7 L164.0 1157.2 L123.2 1180.3999999999999 L82.4 1157.2Z" fill="url(#fGlow)"/><path d="M83.4 1156.2 L123.2 1179.3999999999999 L163.0 1156.2 L162.0 1159.2 L123.2 1182.8999999999999 L84.4 1159.2Z" fill="#271c66"/><path d="M83.4 1029.2 L123.2 1051.8 L123.2 1171.3 L83.4 1148.7Z" fill="#211a70"/><path d="M163.0 1029.2 L123.2 1051.8 L123.2 1171.3 L163.0 1148.7Z" fill="#1e1768"/><path d="M87.0 1047.0 L121.6 1066.7 L121.6 1075.3 L87.0 1055.6Z" fill="url(#fL)" opacity="1"/><path d="M87.0 1046.2 L121.6 1065.9" stroke="#8d7bea" stroke-width="0.8" opacity=".8"/><path d="M87.0 1055.6 L121.6 1075.3" stroke="#dccbff" stroke-width="2" stroke-linecap="round"/><path d="M159.4 1047.0 L124.8 1066.7 L124.8 1075.3 L159.4 1055.6Z" fill="url(#fL)" opacity="0.88"/><path d="M159.4 1046.2 L124.8 1065.9" stroke="#8d7bea" stroke-width="0.8" opacity=".8"/><path d="M159.4 1055.6 L124.8 1075.3" stroke="#d0bcff" stroke-width="2" stroke-linecap="round"/><path d="M87.0 1065.3 L121.6 1085.0 L121.6 1093.6 L87.0 1073.9Z" fill="url(#fL)" opacity="1"/><path d="M87.0 1064.5 L121.6 1084.2" stroke="#8d7bea" stroke-width="0.8" opacity=".8"/><path d="M87.0 1073.9 L121.6 1093.6" stroke="#dccbff" stroke-width="2" stroke-linecap="round"/><path d="M159.4 1065.3 L124.8 1085.0 L124.8 1093.6 L159.4 1073.9Z" fill="url(#fL)" opacity="0.88"/><path d="M159.4 1064.5 L124.8 1084.2" stroke="#8d7bea" stroke-width="0.8" opacity=".8"/><path d="M159.4 1073.9 L124.8 1093.6" stroke="#d0bcff" stroke-width="2" stroke-linecap="round"/><path d="M87.0 1083.6 L121.6 1103.3 L121.6 1111.9 L87.0 1092.2Z" fill="url(#fL)" opacity="1"/><path d="M87.0 1082.8 L121.6 1102.5" stroke="#8d7bea" stroke-width="0.8" opacity=".8"/><path d="M87.0 1092.2 L121.6 1111.9" stroke="#dccbff" stroke-width="2" stroke-linecap="round"/><path d="M159.4 1083.6 L124.8 1103.3 L124.8 1111.9 L159.4 1092.2Z" fill="url(#fL)" opacity="0.88"/><path d="M159.4 1082.8 L124.8 1102.5" stroke="#8d7bea" stroke-width="0.8" opacity=".8"/><path d="M159.4 1092.2 L124.8 1111.9" stroke="#d0bcff" stroke-width="2" stroke-linecap="round"/><path d="M87.0 1101.9 L121.6 1121.6 L121.6 1130.2 L87.0 1110.5Z" fill="url(#fL)" opacity="1"/><path d="M87.0 1101.1 L121.6 1120.8" stroke="#8d7bea" stroke-width="0.8" opacity=".8"/><path d="M87.0 1110.5 L121.6 1130.2" stroke="#dccbff" stroke-width="2" stroke-linecap="round"/><path d="M159.4 1101.9 L124.8 1121.6 L124.8 1130.2 L159.4 1110.5Z" fill="url(#fL)" opacity="0.88"/><path d="M159.4 1101.1 L124.8 1120.8" stroke="#8d7bea" stroke-width="0.8" opacity=".8"/><path d="M159.4 1110.5 L124.8 1130.2" stroke="#d0bcff" stroke-width="2" stroke-linecap="round"/><path d="M87.0 1120.2 L121.6 1139.9 L121.6 1148.5 L87.0 1128.8Z" fill="url(#fL)" opacity="1"/><path d="M87.0 1119.4 L121.6 1139.1" stroke="#8d7bea" stroke-width="0.8" opacity=".8"/><path d="M87.0 1128.8 L121.6 1148.5" stroke="#dccbff" stroke-width="2" stroke-linecap="round"/><path d="M159.4 1120.2 L124.8 1139.9 L124.8 1148.5 L159.4 1128.8Z" fill="url(#fL)" opacity="0.88"/><path d="M159.4 1119.4 L124.8 1139.1" stroke="#8d7bea" stroke-width="0.8" opacity=".8"/><path d="M159.4 1128.8 L124.8 1148.5" stroke="#d0bcff" stroke-width="2" stroke-linecap="round"/><path d="M87.0 1138.5 L121.6 1158.2 L121.6 1166.8 L87.0 1147.1Z" fill="url(#fL)" opacity="1"/><path d="M87.0 1137.7 L121.6 1157.4" stroke="#8d7bea" stroke-width="0.8" opacity=".8"/><path d="M87.0 1147.1 L121.6 1166.8" stroke="#dccbff" stroke-width="2" stroke-linecap="round"/><path d="M159.4 1138.5 L124.8 1158.2 L124.8 1166.8 L159.4 1147.1Z" fill="url(#fL)" opacity="0.88"/><path d="M159.4 1137.7 L124.8 1157.4" stroke="#8d7bea" stroke-width="0.8" opacity=".8"/><path d="M159.4 1147.1 L124.8 1166.8" stroke="#d0bcff" stroke-width="2" stroke-linecap="round"/><path d="M84.60000000000001 1031.2 V1148.7 M161.8 1031.2 V1148.7 M123.2 1051.8 V1171.3" stroke="#2a2290" stroke-width="1.6" opacity=".7"/><path d="M83.4 1029.2 L123.2 1051.8 L163.0 1029.2 L163.0 1032.8 L123.2 1055.3999999999999 L83.4 1032.8Z" fill="#3a2cb8"/><path d="M83.4 1029.2 L123.2 1006.6 L163.0 1029.2 L123.2 1051.8Z" fill="#eedfff"/><path d="M89.0 1029.4 L123.2 1010.0 L157.4 1029.4 L123.2 1048.8Z" fill="url(#fTop)"/><path d="M216.39999999999998 1160.7 L258.2 1201.3 L300.0 1162.7 L270.2 1138.7Z" fill="rgba(96,30,120,.2)"/><path d="M229.39999999999998 1147.7 L270.2 1170.8999999999999 L311.0 1147.7 L311.0 1157.2 L270.2 1180.3999999999999 L229.39999999999998 1157.2Z" fill="url(#fGlow)"/><path d="M230.39999999999998 1156.2 L270.2 1179.3999999999999 L310.0 1156.2 L309.0 1159.2 L270.2 1182.8999999999999 L231.39999999999998 1159.2Z" fill="#271c66"/><path d="M230.39999999999998 1029.2 L270.2 1051.8 L270.2 1171.3 L230.39999999999998 1148.7Z" fill="#211a70"/><path d="M310.0 1029.2 L270.2 1051.8 L270.2 1171.3 L310.0 1148.7Z" fill="#1e1768"/><path d="M234.0 1047.0 L268.6 1066.7 L268.6 1075.3 L234.0 1055.6Z" fill="url(#fL)" opacity="1"/><path d="M234.0 1046.2 L268.6 1065.9" stroke="#8d7bea" stroke-width="0.8" opacity=".8"/><path d="M234.0 1055.6 L268.6 1075.3" stroke="#dccbff" stroke-width="2" stroke-linecap="round"/><path d="M306.4 1047.0 L271.8 1066.7 L271.8 1075.3 L306.4 1055.6Z" fill="url(#fL)" opacity="0.88"/><path d="M306.4 1046.2 L271.8 1065.9" stroke="#8d7bea" stroke-width="0.8" opacity=".8"/><path d="M306.4 1055.6 L271.8 1075.3" stroke="#d0bcff" stroke-width="2" stroke-linecap="round"/><path d="M234.0 1065.3 L268.6 1085.0 L268.6 1093.6 L234.0 1073.9Z" fill="url(#fL)" opacity="1"/><path d="M234.0 1064.5 L268.6 1084.2" stroke="#8d7bea" stroke-width="0.8" opacity=".8"/><path d="M234.0 1073.9 L268.6 1093.6" stroke="#dccbff" stroke-width="2" stroke-linecap="round"/><path d="M306.4 1065.3 L271.8 1085.0 L271.8 1093.6 L306.4 1073.9Z" fill="url(#fL)" opacity="0.88"/><path d="M306.4 1064.5 L271.8 1084.2" stroke="#8d7bea" stroke-width="0.8" opacity=".8"/><path d="M306.4 1073.9 L271.8 1093.6" stroke="#d0bcff" stroke-width="2" stroke-linecap="round"/><path d="M234.0 1083.6 L268.6 1103.3 L268.6 1111.9 L234.0 1092.2Z" fill="url(#fL)" opacity="1"/><path d="M234.0 1082.8 L268.6 1102.5" stroke="#8d7bea" stroke-width="0.8" opacity=".8"/><path d="M234.0 1092.2 L268.6 1111.9" stroke="#dccbff" stroke-width="2" stroke-linecap="round"/><path d="M306.4 1083.6 L271.8 1103.3 L271.8 1111.9 L306.4 1092.2Z" fill="url(#fL)" opacity="0.88"/><path d="M306.4 1082.8 L271.8 1102.5" stroke="#8d7bea" stroke-width="0.8" opacity=".8"/><path d="M306.4 1092.2 L271.8 1111.9" stroke="#d0bcff" stroke-width="2" stroke-linecap="round"/><path d="M234.0 1101.9 L268.6 1121.6 L268.6 1130.2 L234.0 1110.5Z" fill="url(#fL)" opacity="1"/><path d="M234.0 1101.1 L268.6 1120.8" stroke="#8d7bea" stroke-width="0.8" opacity=".8"/><path d="M234.0 1110.5 L268.6 1130.2" stroke="#dccbff" stroke-width="2" stroke-linecap="round"/><path d="M306.4 1101.9 L271.8 1121.6 L271.8 1130.2 L306.4 1110.5Z" fill="url(#fL)" opacity="0.88"/><path d="M306.4 1101.1 L271.8 1120.8" stroke="#8d7bea" stroke-width="0.8" opacity=".8"/><path d="M306.4 1110.5 L271.8 1130.2" stroke="#d0bcff" stroke-width="2" stroke-linecap="round"/><path d="M234.0 1120.2 L268.6 1139.9 L268.6 1148.5 L234.0 1128.8Z" fill="url(#fL)" opacity="1"/><path d="M234.0 1119.4 L268.6 1139.1" stroke="#8d7bea" stroke-width="0.8" opacity=".8"/><path d="M234.0 1128.8 L268.6 1148.5" stroke="#dccbff" stroke-width="2" stroke-linecap="round"/><path d="M306.4 1120.2 L271.8 1139.9 L271.8 1148.5 L306.4 1128.8Z" fill="url(#fL)" opacity="0.88"/><path d="M306.4 1119.4 L271.8 1139.1" stroke="#8d7bea" stroke-width="0.8" opacity=".8"/><path d="M306.4 1128.8 L271.8 1148.5" stroke="#d0bcff" stroke-width="2" stroke-linecap="round"/><path d="M234.0 1138.5 L268.6 1158.2 L268.6 1166.8 L234.0 1147.1Z" fill="url(#fL)" opacity="1"/><path d="M234.0 1137.7 L268.6 1157.4" stroke="#8d7bea" stroke-width="0.8" opacity=".8"/><path d="M234.0 1147.1 L268.6 1166.8" stroke="#dccbff" stroke-width="2" stroke-linecap="round"/><path d="M306.4 1138.5 L271.8 1158.2 L271.8 1166.8 L306.4 1147.1Z" fill="url(#fL)" opacity="0.88"/><path d="M306.4 1137.7 L271.8 1157.4" stroke="#8d7bea" stroke-width="0.8" opacity=".8"/><path d="M306.4 1147.1 L271.8 1166.8" stroke="#d0bcff" stroke-width="2" stroke-linecap="round"/><path d="M231.59999999999997 1031.2 V1148.7 M308.8 1031.2 V1148.7 M270.2 1051.8 V1171.3" stroke="#2a2290" stroke-width="1.6" opacity=".7"/><path d="M230.39999999999998 1029.2 L270.2 1051.8 L310.0 1029.2 L310.0 1032.8 L270.2 1055.3999999999999 L230.39999999999998 1032.8Z" fill="#3a2cb8"/><path d="M230.39999999999998 1029.2 L270.2 1006.6 L310.0 1029.2 L270.2 1051.8Z" fill="#eedfff"/><path d="M235.99999999999997 1029.4 L270.2 1010.0 L304.4 1029.4 L270.2 1048.8Z" fill="url(#fTop)"/><path d="M142.89999999999998 1203.4 L184.7 1244.0 L226.5 1205.4 L196.7 1181.4Z" fill="rgba(96,30,120,.2)"/><path d="M155.89999999999998 1190.4 L196.7 1213.6 L237.5 1190.4 L237.5 1199.9 L196.7 1223.1 L155.89999999999998 1199.9Z" fill="url(#fGlow)"/><path d="M156.89999999999998 1198.9 L196.7 1222.1 L236.5 1198.9 L235.5 1201.9 L196.7 1225.6 L157.89999999999998 1201.9Z" fill="#271c66"/><path d="M156.89999999999998 1071.9 L196.7 1094.5 L196.7 1214.0 L156.89999999999998 1191.4Z" fill="#211a70"/><path d="M236.5 1071.9 L196.7 1094.5 L196.7 1214.0 L236.5 1191.4Z" fill="#1e1768"/><path d="M160.5 1089.7 L195.1 1109.4 L195.1 1118.0 L160.5 1098.3Z" fill="url(#fL)" opacity="1"/><path d="M160.5 1088.9 L195.1 1108.6" stroke="#8d7bea" stroke-width="0.8" opacity=".8"/><path d="M160.5 1098.3 L195.1 1118.0" stroke="#dccbff" stroke-width="2" stroke-linecap="round"/><path d="M232.9 1089.7 L198.3 1109.4 L198.3 1118.0 L232.9 1098.3Z" fill="url(#fL)" opacity="0.88"/><path d="M232.9 1088.9 L198.3 1108.6" stroke="#8d7bea" stroke-width="0.8" opacity=".8"/><path d="M232.9 1098.3 L198.3 1118.0" stroke="#d0bcff" stroke-width="2" stroke-linecap="round"/><path d="M160.5 1108.0 L195.1 1127.7 L195.1 1136.3 L160.5 1116.6Z" fill="url(#fL)" opacity="1"/><path d="M160.5 1107.2 L195.1 1126.9" stroke="#8d7bea" stroke-width="0.8" opacity=".8"/><path d="M160.5 1116.6 L195.1 1136.3" stroke="#dccbff" stroke-width="2" stroke-linecap="round"/><path d="M232.9 1108.0 L198.3 1127.7 L198.3 1136.3 L232.9 1116.6Z" fill="url(#fL)" opacity="0.88"/><path d="M232.9 1107.2 L198.3 1126.9" stroke="#8d7bea" stroke-width="0.8" opacity=".8"/><path d="M232.9 1116.6 L198.3 1136.3" stroke="#d0bcff" stroke-width="2" stroke-linecap="round"/><path d="M160.5 1126.3 L195.1 1146.0 L195.1 1154.6 L160.5 1134.9Z" fill="url(#fL)" opacity="1"/><path d="M160.5 1125.5 L195.1 1145.2" stroke="#8d7bea" stroke-width="0.8" opacity=".8"/><path d="M160.5 1134.9 L195.1 1154.6" stroke="#dccbff" stroke-width="2" stroke-linecap="round"/><path d="M232.9 1126.3 L198.3 1146.0 L198.3 1154.6 L232.9 1134.9Z" fill="url(#fL)" opacity="0.88"/><path d="M232.9 1125.5 L198.3 1145.2" stroke="#8d7bea" stroke-width="0.8" opacity=".8"/><path d="M232.9 1134.9 L198.3 1154.6" stroke="#d0bcff" stroke-width="2" stroke-linecap="round"/><path d="M160.5 1144.6 L195.1 1164.3 L195.1 1172.9 L160.5 1153.2Z" fill="url(#fL)" opacity="1"/><path d="M160.5 1143.8 L195.1 1163.5" stroke="#8d7bea" stroke-width="0.8" opacity=".8"/><path d="M160.5 1153.2 L195.1 1172.9" stroke="#dccbff" stroke-width="2" stroke-linecap="round"/><path d="M232.9 1144.6 L198.3 1164.3 L198.3 1172.9 L232.9 1153.2Z" fill="url(#fL)" opacity="0.88"/><path d="M232.9 1143.8 L198.3 1163.5" stroke="#8d7bea" stroke-width="0.8" opacity=".8"/><path d="M232.9 1153.2 L198.3 1172.9" stroke="#d0bcff" stroke-width="2" stroke-linecap="round"/><path d="M160.5 1162.9 L195.1 1182.6 L195.1 1191.2 L160.5 1171.5Z" fill="url(#fL)" opacity="1"/><path d="M160.5 1162.1 L195.1 1181.8" stroke="#8d7bea" stroke-width="0.8" opacity=".8"/><path d="M160.5 1171.5 L195.1 1191.2" stroke="#dccbff" stroke-width="2" stroke-linecap="round"/><path d="M232.9 1162.9 L198.3 1182.6 L198.3 1191.2 L232.9 1171.5Z" fill="url(#fL)" opacity="0.88"/><path d="M232.9 1162.1 L198.3 1181.8" stroke="#8d7bea" stroke-width="0.8" opacity=".8"/><path d="M232.9 1171.5 L198.3 1191.2" stroke="#d0bcff" stroke-width="2" stroke-linecap="round"/><path d="M160.5 1181.2 L195.1 1200.9 L195.1 1209.5 L160.5 1189.8Z" fill="url(#fL)" opacity="1"/><path d="M160.5 1180.4 L195.1 1200.1" stroke="#8d7bea" stroke-width="0.8" opacity=".8"/><path d="M160.5 1189.8 L195.1 1209.5" stroke="#dccbff" stroke-width="2" stroke-linecap="round"/><path d="M232.9 1181.2 L198.3 1200.9 L198.3 1209.5 L232.9 1189.8Z" fill="url(#fL)" opacity="0.88"/><path d="M232.9 1180.4 L198.3 1200.1" stroke="#8d7bea" stroke-width="0.8" opacity=".8"/><path d="M232.9 1189.8 L198.3 1209.5" stroke="#d0bcff" stroke-width="2" stroke-linecap="round"/><path d="M158.09999999999997 1073.9 V1191.4 M235.3 1073.9 V1191.4 M196.7 1094.5 V1214.0" stroke="#2a2290" stroke-width="1.6" opacity=".7"/><path d="M156.89999999999998 1071.9 L196.7 1094.5 L236.5 1071.9 L236.5 1075.5 L196.7 1098.1 L156.89999999999998 1075.5Z" fill="#3a2cb8"/><path d="M156.89999999999998 1071.9 L196.7 1049.3000000000002 L236.5 1071.9 L196.7 1094.5Z" fill="#eedfff"/><path d="M162.49999999999997 1072.1000000000001 L196.7 1052.7000000000003 L230.9 1072.1000000000001 L196.7 1091.5Z" fill="url(#fTop)"/><path d="M337.4 1151.2 L351.9 1142.7 L366.4 1151.2 L351.9 1159.7Z" fill="#4a34c8"/><path d="M337.4 1149.7 L351.9 1141.2 L366.4 1149.7 L351.9 1158.2Z" fill="#231a60"/><path d="M345.9 1149.2 L351.9 1145.7 L357.9 1149.2 L351.9 1152.7Z" fill="#e8dcff"/><path d="M361.7 1165.7 L376.2 1157.2 L390.7 1165.7 L376.2 1174.2Z" fill="#4a34c8"/><path d="M361.7 1164.2 L376.2 1155.7 L390.7 1164.2 L376.2 1172.7Z" fill="#231a60"/><path d="M370.2 1163.7 L376.2 1160.2 L382.2 1163.7 L376.2 1167.2Z" fill="#e8dcff"/><path d="M386.3 1179.7 L400.8 1171.2 L415.3 1179.7 L400.8 1188.2Z" fill="#4a34c8"/><path d="M386.3 1178.2 L400.8 1169.7 L415.3 1178.2 L400.8 1186.7Z" fill="#231a60"/><path d="M394.8 1177.7 L400.8 1174.2 L406.8 1177.7 L400.8 1181.2Z" fill="#e8dcff"/><path d="M223 1253 L242 1264.5 L261.5 1253 L261.5 1258 L242 1269.5 L223 1258Z" fill="#231a60"/><path d="M223 1251 L242 1262 L261.5 1251 L261.5 1254 L242 1265 L223 1254Z" fill="#5b48e8"/><path d="M225 1236.5 L242 1226 L259.5 1236.5 L242 1247Z" fill="#fdeaf0"/><path d="M225 1236.5 L242 1247 L242 1261 L225 1250.5Z" fill="#a99af2"/><path d="M259.5 1236.5 L242 1247 L242 1261 L259.5 1250.5Z" fill="#e2d3fa"/><path d="M303 1266.6 L370.4 1230.3 L412.7 1254.1 L345.3 1292.5Z" fill="#3220a2" stroke="#7a62ff" stroke-width="1.2"/><path d="M303 1266.6 L345.3 1292.5 L412.7 1254.1 L412.7 1256.5 L345.3 1295 L303 1269Z" fill="#6e56f5"/><g stroke="#6f5cf0" stroke-width="0.7" opacity=".85"><path d="M313.0 1266.0 l58 -31"/><path d="M319.2 1269.7 l58 -31"/><path d="M325.4 1273.4 l58 -31"/><path d="M331.6 1277.1 l58 -31"/><path d="M337.8 1280.8 l58 -31"/><path d="M344.0 1284.5 l58 -31"/><path d="M313.0 1266.0 l31 18.5"/><path d="M318.3 1263.2 l31 18.5"/><path d="M323.6 1260.3 l31 18.5"/><path d="M328.9 1257.5 l31 18.5"/><path d="M334.2 1254.6 l31 18.5"/><path d="M339.5 1251.8 l31 18.5"/><path d="M344.8 1248.9 l31 18.5"/><path d="M350.1 1246.0 l31 18.5"/><path d="M355.4 1243.2 l31 18.5"/><path d="M360.7 1240.3 l31 18.5"/><path d="M366.0 1237.5 l31 18.5"/></g><path d="M302.2 1218.4 L369.1 1180.9 Q371.4 1180 371.4 1182.5 L370.4 1230.3 L303 1266.6Z" fill="url(#fScr)" stroke="#4b35d0" stroke-width="1"/><g stroke="#efe6ff" stroke-width="1.1"><path d="M317.7 1213.2 l41.3 -23.1" stroke-dasharray="8 1.4 9 1.2"/><path d="M318.1 1218.6 l35.8 -20.0" stroke-dasharray="5 1.4 2 1.2"/><path d="M318.1 1224.2 l45.4 -25.4" stroke-dasharray="3 1.4 6 1.2"/><path d="M315.6 1231.2 l28.4 -15.9" stroke-dasharray="8 1.4 2 1.2"/><path d="M317.0 1236.0 l22.3 -12.5" stroke-dasharray="3 1.4 6 1.2"/><path d="M312.9 1243.9 l45.8 -25.7" stroke-dasharray="5 1.4 2 1.2"/><path d="M319.7 1245.7 l23.9 -13.4" stroke-dasharray="8 1.4 9 1.2"/></g><circle cx="81.9" cy="974.8" r="2.6" fill="none" stroke="#f3e3ff" stroke-width="1.5"/><path d="M306.4 1013.2 L312.9 1009.4 L319.4 1013.2 L312.9 1017.0Z" fill="#5546f2"/><path d="M74.9 1196.4 L81.4 1192.6 L87.9 1196.4 L81.4 1200.2Z" fill="#5546f2"/><path d="M141.9 970 L145.4 968.0 L148.9 970 L145.4 972.0Z" fill="#5546f2"/><path d="M288.8 977 L292 975.1 L295.2 977 L292 978.9Z" fill="#5546f2"/><path d="M213 1292 L216 1290.3 L219 1292 L216 1293.7Z" fill="#5546f2"/><path d="M77 1296 L80 1294.3 L83 1296 L80 1297.7Z" fill="#5546f2"/><g fill="#f6d8f0"><circle cx="289.5" cy="1297.5" r="1.4"/><circle cx="293.5" cy="1295" r="1.4"/><circle cx="297.5" cy="1292.5" r="1.4"/><circle cx="414.5" cy="979.5" r="1.2"/><circle cx="418.5" cy="977.5" r="1.2"/><circle cx="422.5" cy="975.5" r="1.2"/></g><ellipse cx="378.5" cy="1124" rx="4" ry="2.6" fill="none" stroke="#6a5af0" stroke-width="1.6"/></svg>
<div class="gbox" style="left:489px;top:924px"></div>
<div class="gbox" style="left:796px;top:924px"></div>
<div class="gbox" style="left:489px;top:1142px"></div>
<div class="gbox" style="left:796px;top:1142px"></div>
<div class="t" style="left:557.2px;top:1018.1px;font-size:16.5px;font-weight:700;color:#ffffff;letter-spacing:0.033px;">24/7 Expert Support</div>
<div class="t" style="left:874.2px;top:1018.1px;font-size:16.5px;font-weight:700;color:#ffffff;letter-spacing:-0.242px;">Fast and Reliable</div>
<div class="t" style="left:565.8px;top:1233.1px;font-size:16.5px;font-weight:700;color:#ffffff;letter-spacing:-0.317px;">Super Easy to Use</div>
<div class="t" style="left:846.2px;top:1233.1px;font-size:16.5px;font-weight:700;color:#ffffff;letter-spacing:0.047px;">Money-back Guarantee</div>
<div class="t" style="left:512.2px;top:1047.1px;font-size:14.3px;color:#f1eaf7;letter-spacing:0.110px;">Got a question or need support? Don’t</div>
<div class="t" style="left:498.5px;top:1065.4px;font-size:14.3px;color:#f1eaf7;letter-spacing:0.107px;">hesitate to contact us. Our team of experts</div>
<div class="t" style="left:504.0px;top:1083.7px;font-size:14.3px;color:#f1eaf7;letter-spacing:0.037px;">are always up (no matter day or night) for</div>
<div class="t" style="left:544.5px;top:1102.0px;font-size:14.3px;color:#f1eaf7;letter-spacing:0.027px;">you and willing to assist you.</div>
<div class="t" style="left:819.5px;top:1047.1px;font-size:14.3px;color:#f1eaf7;letter-spacing:0.144px;">We prioritize speed and reliability. Our</div>
<div class="t" style="left:803.1px;top:1065.4px;font-size:14.3px;color:#f1eaf7;letter-spacing:-0.062px;">hosting plan gives you SSD storage that can</div>
<div class="t" style="left:811.0px;top:1083.7px;font-size:14.3px;color:#f1eaf7;letter-spacing:0.038px;">improve site responsiveness, and it helps</div>
<div class="t" style="left:825.5px;top:1102.0px;font-size:14.3px;color:#f1eaf7;letter-spacing:-0.057px;">your website search engine rankings.</div>
<div class="t" style="left:495.1px;top:1263.1px;font-size:14.3px;color:#f1eaf7;letter-spacing:0.094px;">No matter if you are a developer or not. Our</div>
<div class="t" style="left:504.0px;top:1281.4px;font-size:14.3px;color:#f1eaf7;letter-spacing:0.098px;">custom control panel is super simple and</div>
<div class="t" style="left:506.0px;top:1299.7px;font-size:14.3px;color:#f1eaf7;letter-spacing:-0.128px;">easy to use which means less headaches</div>
<div class="t" style="left:527.5px;top:1318.0px;font-size:14.3px;color:#f1eaf7;letter-spacing:-0.032px;">when managing your web hosting.</div>
<div class="t" style="left:807.5px;top:1263.1px;font-size:14.3px;color:#f1eaf7;letter-spacing:0.028px;">We offer a 24-Hour refund window. Cancel</div>
<div class="t" style="left:801.8px;top:1281.4px;font-size:14.3px;color:#f1eaf7;letter-spacing:-0.017px;">any VPS or dedicated server within 24 hours</div>
<div class="t" style="left:829.0px;top:1299.7px;font-size:14.3px;color:#f1eaf7;letter-spacing:-0.073px;">for a full refund—no fees, no hassle.</div>
<svg style="left:575.5px;top:923px" width="120" height="90" viewBox="575.5 923 120 90"><g fill="none" stroke="rgba(190,140,230,.28)" stroke-width="0.9"><path d="M593.5 966 l-8 4 v8 l-10 5 M605.5 981 l-14 7 M617.5 989 l-12 6 v5 M677.5 966 l8 4 v8 l10 5 M665.5 981 l14 7 M653.5 989 l12 6 v5 M635.5 997 v14"/><path d="M589.5 964 L635.5 988 L681.5 964" /></g><path d="M600.0 960 L635.5 980 L671.0 960 L671.0 974 Q671.0 976 669.0 977.2 L637.5 996 Q635.5 997 633.5 996 L602.0 977.2 Q600.0 976 600.0 974Z" fill="#e9e5ee"/><path d="M635.5 980 L671.0 960 L671.0 974 Q671.0 976 669.0 977.2 L637.5 996 Q635.5 997 635.5 996Z" fill="#d6d0dc"/><path d="M601.8 962.8 Q599.2 961.2 601.8 959.6 L633.0 941.6 Q635.5 940.2 638.0 941.6 L669.2 959.6 Q671.8 961.2 669.2 962.8 L638.0 981.6 Q635.5 983 633.0 981.6Z" fill="#fcfbfd"/><path d="M618.5 959 L634.5 950 L652.5 959.5 L636.5 969Z" fill="#d2cdd8" stroke="#d2cdd8" stroke-width="3" stroke-linejoin="round"/><path d="M616.0 949.5 L636.5 937.5 L658.0 952.0 L638.0 966.0Z" fill="#4e1f9a"/><path d="M616.0 948.0 L636.5 936.0 L658.0 950.5 L638.0 964.5Z" fill="#8c50dc"/><g fill="#f6efff"><path d="M637.0 950.5 m-8 0.5 c0 -5 16 -6 17 0 c0 4 -4 5 -5 3 c-1 -2 -6 -2 -7 0 c-1 2 -5 1 -5 -3z"/><ellipse cx="637.0" cy="950.5" rx="1" ry="0.6" transform="translate(1,-5)"/></g><circle cx="593.0" cy="946" r="1.6" fill="#dc9fd8"/><circle cx="600.5" cy="949" r="1.8" fill="#dc9fd8"/><circle cx="593.0" cy="953.5" r="2.2" fill="#dc9fd8"/><circle cx="675.0" cy="954.8" r="1.5" fill="#dc9fd8"/><circle cx="671.5" cy="960" r="2.3" fill="#dc9fd8"/><circle cx="678.5" cy="960.8" r="1.8" fill="#dc9fd8"/></svg><svg style="left:882.5px;top:923px" width="120" height="90" viewBox="882.5 923 120 90"><g fill="none" stroke="rgba(190,140,230,.28)" stroke-width="0.9"><path d="M900.5 966 l-8 4 v8 l-10 5 M912.5 981 l-14 7 M924.5 989 l-12 6 v5 M984.5 966 l8 4 v8 l10 5 M972.5 981 l14 7 M960.5 989 l12 6 v5 M942.5 997 v14"/><path d="M896.5 964 L942.5 988 L988.5 964" /></g><path d="M907.0 960 L942.5 980 L978.0 960 L978.0 974 Q978.0 976 976.0 977.2 L944.5 996 Q942.5 997 940.5 996 L909.0 977.2 Q907.0 976 907.0 974Z" fill="#e9e5ee"/><path d="M942.5 980 L978.0 960 L978.0 974 Q978.0 976 976.0 977.2 L944.5 996 Q942.5 997 942.5 996Z" fill="#d6d0dc"/><path d="M908.8 962.8 Q906.2 961.2 908.8 959.6 L940.0 941.6 Q942.5 940.2 945.0 941.6 L976.2 959.6 Q978.8 961.2 976.2 962.8 L945.0 981.6 Q942.5 983 940.0 981.6Z" fill="#fcfbfd"/><path d="M925.5 959 L941.5 950 L959.5 959.5 L943.5 969Z" fill="#d2cdd8" stroke="#d2cdd8" stroke-width="3" stroke-linejoin="round"/><path d="M923.0 949.5 L943.5 937.5 L965.0 952.0 L945.0 966.0Z" fill="#4e1f9a"/><path d="M923.0 948.0 L943.5 936.0 L965.0 950.5 L945.0 964.5Z" fill="#8c50dc"/><path d="M944.0 950.5 m-7 3 c-3 0 -3 -4 0 -4.4 c0.5 -3 5 -3.6 6.2 -1.2 c2 -2.4 6.4 -0.8 5.8 2 c3 0.4 2.6 3.8 0 3.8z" fill="#f6efff"/><circle cx="900.0" cy="946" r="1.6" fill="#dc9fd8"/><circle cx="907.5" cy="949" r="1.8" fill="#dc9fd8"/><circle cx="900.0" cy="953.5" r="2.2" fill="#dc9fd8"/><circle cx="982.0" cy="954.8" r="1.5" fill="#dc9fd8"/><circle cx="978.5" cy="960" r="2.3" fill="#dc9fd8"/><circle cx="985.5" cy="960.8" r="1.8" fill="#dc9fd8"/></svg><svg style="left:575.5px;top:1140.5px" width="120" height="90" viewBox="575.5 1140.5 120 90"><g fill="none" stroke="rgba(190,140,230,.28)" stroke-width="0.9"><path d="M593.5 1183.5 l-8 4 v8 l-10 5 M605.5 1198.5 l-14 7 M617.5 1206.5 l-12 6 v5 M677.5 1183.5 l8 4 v8 l10 5 M665.5 1198.5 l14 7 M653.5 1206.5 l12 6 v5 M635.5 1214.5 v14"/><path d="M589.5 1181.5 L635.5 1205.5 L681.5 1181.5" /></g><path d="M600.0 1177.5 L635.5 1197.5 L671.0 1177.5 L671.0 1191.5 Q671.0 1193.5 669.0 1194.7 L637.5 1213.5 Q635.5 1214.5 633.5 1213.5 L602.0 1194.7 Q600.0 1193.5 600.0 1191.5Z" fill="#e9e5ee"/><path d="M635.5 1197.5 L671.0 1177.5 L671.0 1191.5 Q671.0 1193.5 669.0 1194.7 L637.5 1213.5 Q635.5 1214.5 635.5 1213.5Z" fill="#d6d0dc"/><path d="M601.8 1180.3 Q599.2 1178.7 601.8 1177.1 L633.0 1159.1 Q635.5 1157.7 638.0 1159.1 L669.2 1177.1 Q671.8 1178.7 669.2 1180.3 L638.0 1199.1 Q635.5 1200.5 633.0 1199.1Z" fill="#fcfbfd"/><path d="M618.5 1176.5 L634.5 1167.5 L652.5 1177.0 L636.5 1186.5Z" fill="#d2cdd8" stroke="#d2cdd8" stroke-width="3" stroke-linejoin="round"/><path d="M616.0 1167.0 L636.5 1155.0 L658.0 1169.5 L638.0 1183.5Z" fill="#4e1f9a"/><path d="M616.0 1165.5 L636.5 1153.5 L658.0 1168.0 L638.0 1182.0Z" fill="#8c50dc"/><g fill="#f6efff"><path d="M637.0 1168.0 m-8 -1 l8 -4 l8 4.5 l-8 4.5z"/><path d="M637.0 1168.0 m-3 -5 l3 -1.5 l3 1.6 l-3 1.5z" fill="#c8a8f2"/></g><circle cx="593.0" cy="1163.5" r="1.6" fill="#dc9fd8"/><circle cx="600.5" cy="1166.5" r="1.8" fill="#dc9fd8"/><circle cx="593.0" cy="1171.0" r="2.2" fill="#dc9fd8"/><circle cx="675.0" cy="1172.3" r="1.5" fill="#dc9fd8"/><circle cx="671.5" cy="1177.5" r="2.3" fill="#dc9fd8"/><circle cx="678.5" cy="1178.3" r="1.8" fill="#dc9fd8"/></svg><svg style="left:882.5px;top:1140.5px" width="120" height="90" viewBox="882.5 1140.5 120 90"><g fill="none" stroke="rgba(190,140,230,.28)" stroke-width="0.9"><path d="M900.5 1183.5 l-8 4 v8 l-10 5 M912.5 1198.5 l-14 7 M924.5 1206.5 l-12 6 v5 M984.5 1183.5 l8 4 v8 l10 5 M972.5 1198.5 l14 7 M960.5 1206.5 l12 6 v5 M942.5 1214.5 v14"/><path d="M896.5 1181.5 L942.5 1205.5 L988.5 1181.5" /></g><path d="M907.0 1177.5 L942.5 1197.5 L978.0 1177.5 L978.0 1191.5 Q978.0 1193.5 976.0 1194.7 L944.5 1213.5 Q942.5 1214.5 940.5 1213.5 L909.0 1194.7 Q907.0 1193.5 907.0 1191.5Z" fill="#e9e5ee"/><path d="M942.5 1197.5 L978.0 1177.5 L978.0 1191.5 Q978.0 1193.5 976.0 1194.7 L944.5 1213.5 Q942.5 1214.5 942.5 1213.5Z" fill="#d6d0dc"/><path d="M908.8 1180.3 Q906.2 1178.7 908.8 1177.1 L940.0 1159.1 Q942.5 1157.7 945.0 1159.1 L976.2 1177.1 Q978.8 1178.7 976.2 1180.3 L945.0 1199.1 Q942.5 1200.5 940.0 1199.1Z" fill="#fcfbfd"/><path d="M925.5 1176.5 L941.5 1167.5 L959.5 1177.0 L943.5 1186.5Z" fill="#d2cdd8" stroke="#d2cdd8" stroke-width="3" stroke-linejoin="round"/><path d="M923.0 1167.0 L943.5 1155.0 L965.0 1169.5 L945.0 1183.5Z" fill="#4e1f9a"/><path d="M923.0 1165.5 L943.5 1153.5 L965.0 1168.0 L945.0 1182.0Z" fill="#8c50dc"/><g><ellipse cx="944.0" cy="1168.0" rx="8" ry="5.4" fill="#f6efff"/><ellipse cx="944.0" cy="1168.0" rx="5.6" ry="3.6" fill="none" stroke="#8c50dc" stroke-width="0.9"/><path d="M944.0 1168.0 m1.6 -1.4 c-2 -1.2 -4 0.4 -1.6 1.3 c2.2 0.8 0.6 2.4 -1.8 1.3" fill="none" stroke="#8c50dc" stroke-width="0.9"/></g><circle cx="900.0" cy="1163.5" r="1.6" fill="#dc9fd8"/><circle cx="907.5" cy="1166.5" r="1.8" fill="#dc9fd8"/><circle cx="900.0" cy="1171.0" r="2.2" fill="#dc9fd8"/><circle cx="982.0" cy="1172.3" r="1.5" fill="#dc9fd8"/><circle cx="978.5" cy="1177.5" r="2.3" fill="#dc9fd8"/><circle cx="985.5" cy="1178.3" r="1.8" fill="#dc9fd8"/></svg>
<div class="sec" id="price" style="top:1405px;height:925px;background:#f5f5f3;"><svg width="1158" height="925" viewBox="0 0 1158 925" style="left:0;top:0"><path d="M721 265 L984 686 L721 1107 L458 686Z" fill="rgba(236,236,233,.28)"/><path d="M755 56 L1026 490 L755 924 L484 490Z" fill="rgba(255,255,255,.4)"/><path d="M752 609 L892 833 L752 1058 L611 833Z" fill="rgba(255,255,255,.3)"/><path d="M1006 131 L1144 352 L1006 574 L867 352Z" fill="rgba(255,255,255,.4)"/><path d="M15 -72 L185 200 L15 473 L-155 200Z" fill="rgba(255,255,255,.3)"/><path d="M185 505 L330 737 L185 969 L40 737Z" fill="rgba(236,236,233,.28)"/><path d="M515 -350 L810 122 L515 594 L220 122Z" fill="rgba(255,255,255,.4)"/><path d="M243 -276 L539 199 L243 674 L-54 199Z" fill="rgba(255,255,255,.4)"/><path d="M335 542 L552 889 L335 1237 L118 889Z" fill="rgba(236,236,233,.28)"/><path d="M725 -303 L1019 168 L725 639 L430 168Z" fill="rgba(255,255,255,.4)"/><path d="M1119 549 L1293 827 L1119 1105 L945 827Z" fill="rgba(255,255,255,.3)"/></svg></div>
<div class="t" style="left:373.0px;top:1484.3px;font-size:38.6px;font-weight:700;color:#0b0b0b;letter-spacing:-0.328px;">OUR SERVER OFFERS</div>
<div class="t" style="left:343.0px;top:1534.3px;font-size:18px;color:#1a1a1a;letter-spacing:1.199px;">Pick The Virtual Private Server That&#x27;s Right For You</div>
<div class="pcard" style="left:86.5px"></div>
<div class="t" style="left:139.5px;top:1734.0px;font-size:32px;font-weight:700;color:#f3ecfb;letter-spacing:0.488px;">VPS Saver</div>
<div class="t" style="left:139.5px;top:1769.0px;font-size:16px;color:#f3ecfb;letter-spacing:0.629px;">Yearly Promo</div>
<div class="hr" style="left:139.0px;top:1801.3px;width:207px"></div>
<div class="t" style="left:139.5px;top:1819.5px;font-size:16px;font-weight:700;color:#f3ecfb;letter-spacing:0.149px;">Services Included</div>
<svg style="left:140.0px;top:1859.5px" width="17" height="17" viewBox="0 0 17 17"><circle cx="8.5" cy="8.5" r="8.3" fill="#f3ecfb"/><path d="M4.9 8.7 L7.5 11.2 L12.1 6.3" fill="none" stroke="#2a2250" stroke-width="1.9" stroke-linecap="round" stroke-linejoin="round"/></svg>
<div class="t" style="left:168.0px;top:1860.4px;font-size:13.2px;color:#f3ecfb;letter-spacing:0.175px;">10 GB SSD Storage</div>
<svg style="left:140.0px;top:1894.9px" width="17" height="17" viewBox="0 0 17 17"><circle cx="8.5" cy="8.5" r="8.3" fill="#f3ecfb"/><path d="M4.9 8.7 L7.5 11.2 L12.1 6.3" fill="none" stroke="#2a2250" stroke-width="1.9" stroke-linecap="round" stroke-linejoin="round"/></svg>
<div class="t" style="left:168.0px;top:1895.8px;font-size:13.2px;color:#f3ecfb;letter-spacing:0.312px;">1 GB RAM Memory</div>
<svg style="left:140.0px;top:1930.3px" width="17" height="17" viewBox="0 0 17 17"><circle cx="8.5" cy="8.5" r="8.3" fill="#f3ecfb"/><path d="M4.9 8.7 L7.5 11.2 L12.1 6.3" fill="none" stroke="#2a2250" stroke-width="1.9" stroke-linecap="round" stroke-linejoin="round"/></svg>
<div class="t" style="left:168.0px;top:1931.2px;font-size:13.2px;color:#f3ecfb;letter-spacing:0.210px;">1 vCPU Core</div>
<svg style="left:140.0px;top:1965.7px" width="17" height="17" viewBox="0 0 17 17"><circle cx="8.5" cy="8.5" r="8.3" fill="#f3ecfb"/><path d="M4.9 8.7 L7.5 11.2 L12.1 6.3" fill="none" stroke="#2a2250" stroke-width="1.9" stroke-linecap="round" stroke-linejoin="round"/></svg>
<div class="t" style="left:168.0px;top:1966.6px;font-size:13.2px;color:#f3ecfb;letter-spacing:0.509px;">1 TB Bandwidth</div>
<svg style="left:140.0px;top:2001.1px" width="17" height="17" viewBox="0 0 17 17"><circle cx="8.5" cy="8.5" r="8.3" fill="#f3ecfb"/><path d="M4.9 8.7 L7.5 11.2 L12.1 6.3" fill="none" stroke="#2a2250" stroke-width="1.9" stroke-linecap="round" stroke-linejoin="round"/></svg>
<div class="t" style="left:168.0px;top:2002.0px;font-size:13.2px;color:#f3ecfb;letter-spacing:0.607px;">1 Gbp/s Connection</div>
<svg style="left:140.0px;top:2036.5px" width="17" height="17" viewBox="0 0 17 17"><circle cx="8.5" cy="8.5" r="8.3" fill="#f3ecfb"/><path d="M4.9 8.7 L7.5 11.2 L12.1 6.3" fill="none" stroke="#2a2250" stroke-width="1.9" stroke-linecap="round" stroke-linejoin="round"/></svg>
<div class="t" style="left:168.0px;top:2037.4px;font-size:13.2px;color:#f3ecfb;letter-spacing:0.310px;">1 IpV4</div>
<svg style="left:140.0px;top:2071.9px" width="17" height="17" viewBox="0 0 17 17"><circle cx="8.5" cy="8.5" r="8.3" fill="#f3ecfb"/><path d="M4.9 8.7 L7.5 11.2 L12.1 6.3" fill="none" stroke="#2a2250" stroke-width="1.9" stroke-linecap="round" stroke-linejoin="round"/></svg>
<div class="t" style="left:168.0px;top:2072.8px;font-size:13.2px;color:#f3ecfb;letter-spacing:0.582px;">KVM Virtualization</div>
<div class="t" style="left:150.0px;top:2110.8px;font-size:34px;font-weight:700;color:#f3ecfb;letter-spacing:0.950px;">$10.88</div>
<div class="t" style="left:260.7px;top:2123.0px;font-size:20.5px;color:#f3ecfb;letter-spacing:0.797px;">/Yearly</div>
<div class="btn" style="left:122.3px;width:224px"></div>
<div class="t" style="left:154.3px;top:2169.3px;font-size:27px;font-weight:700;color:#8a3fd8;letter-spacing:-0.321px;">Choose Plan</div>
<div class="pcard" style="left:421.3px"></div>
<div class="t" style="left:474.5px;top:1734.0px;font-size:32px;font-weight:700;color:#f3ecfb;letter-spacing:0.641px;">VPS Economy</div>
<div class="t" style="left:474.5px;top:1772.3px;font-size:16px;color:#f3ecfb;letter-spacing:0.629px;">Yearly Promo</div>
<div class="hr" style="left:474.0px;top:1805.9199999999998px;width:207px"></div>
<div class="t" style="left:474.5px;top:1822.8px;font-size:16px;font-weight:700;color:#f3ecfb;letter-spacing:0.149px;">Services Included</div>
<svg style="left:475.0px;top:1862.8px" width="17" height="17" viewBox="0 0 17 17"><circle cx="8.5" cy="8.5" r="8.3" fill="#f3ecfb"/><path d="M4.9 8.7 L7.5 11.2 L12.1 6.3" fill="none" stroke="#2a2250" stroke-width="1.9" stroke-linecap="round" stroke-linejoin="round"/></svg>
<div class="t" style="left:503.0px;top:1863.7px;font-size:13.2px;color:#f3ecfb;letter-spacing:0.233px;">20 GB SSD Storage</div>
<svg style="left:475.0px;top:1898.2px" width="17" height="17" viewBox="0 0 17 17"><circle cx="8.5" cy="8.5" r="8.3" fill="#f3ecfb"/><path d="M4.9 8.7 L7.5 11.2 L12.1 6.3" fill="none" stroke="#2a2250" stroke-width="1.9" stroke-linecap="round" stroke-linejoin="round"/></svg>
<div class="t" style="left:503.0px;top:1899.1px;font-size:13.2px;color:#f3ecfb;letter-spacing:0.379px;">2 GB RAM Memory</div>
<svg style="left:475.0px;top:1933.6px" width="17" height="17" viewBox="0 0 17 17"><circle cx="8.5" cy="8.5" r="8.3" fill="#f3ecfb"/><path d="M4.9 8.7 L7.5 11.2 L12.1 6.3" fill="none" stroke="#2a2250" stroke-width="1.9" stroke-linecap="round" stroke-linejoin="round"/></svg>
<div class="t" style="left:503.0px;top:1934.5px;font-size:13.2px;color:#f3ecfb;letter-spacing:0.210px;">1 vCPU Core</div>
<svg style="left:475.0px;top:1969.0px" width="17" height="17" viewBox="0 0 17 17"><circle cx="8.5" cy="8.5" r="8.3" fill="#f3ecfb"/><path d="M4.9 8.7 L7.5 11.2 L12.1 6.3" fill="none" stroke="#2a2250" stroke-width="1.9" stroke-linecap="round" stroke-linejoin="round"/></svg>
<div class="t" style="left:503.0px;top:1969.9px;font-size:13.2px;color:#f3ecfb;letter-spacing:0.580px;">2 TB Bandwidth</div>
<svg style="left:475.0px;top:2004.3999999999999px" width="17" height="17" viewBox="0 0 17 17"><circle cx="8.5" cy="8.5" r="8.3" fill="#f3ecfb"/><path d="M4.9 8.7 L7.5 11.2 L12.1 6.3" fill="none" stroke="#2a2250" stroke-width="1.9" stroke-linecap="round" stroke-linejoin="round"/></svg>
<div class="t" style="left:503.0px;top:2005.3px;font-size:13.2px;color:#f3ecfb;letter-spacing:0.607px;">1 Gbp/s Connection</div>
<svg style="left:475.0px;top:2039.8000000000002px" width="17" height="17" viewBox="0 0 17 17"><circle cx="8.5" cy="8.5" r="8.3" fill="#f3ecfb"/><path d="M4.9 8.7 L7.5 11.2 L12.1 6.3" fill="none" stroke="#2a2250" stroke-width="1.9" stroke-linecap="round" stroke-linejoin="round"/></svg>
<div class="t" style="left:503.0px;top:2040.7px;font-size:13.2px;color:#f3ecfb;letter-spacing:0.310px;">1 IpV4</div>
<svg style="left:475.0px;top:2075.2px" width="17" height="17" viewBox="0 0 17 17"><circle cx="8.5" cy="8.5" r="8.3" fill="#f3ecfb"/><path d="M4.9 8.7 L7.5 11.2 L12.1 6.3" fill="none" stroke="#2a2250" stroke-width="1.9" stroke-linecap="round" stroke-linejoin="round"/></svg>
<div class="t" style="left:503.0px;top:2076.1px;font-size:13.2px;color:#f3ecfb;letter-spacing:0.582px;">KVM Virtualization</div>
<div class="t" style="left:489.0px;top:2110.8px;font-size:34px;font-weight:700;color:#f3ecfb;letter-spacing:-0.333px;">$17.88</div>
<div class="t" style="left:595.8px;top:2123.0px;font-size:20.5px;color:#f3ecfb;letter-spacing:0.797px;">/Yearly</div>
<div class="btn" style="left:467.5px;width:223.3px"></div>
<div class="t" style="left:499.1px;top:2169.3px;font-size:27px;font-weight:700;color:#8a3fd8;letter-spacing:-0.321px;">Choose Plan</div>
<div class="pcard" style="left:759.3px"></div>
<div class="t" style="left:811.2px;top:1734.0px;font-size:32px;font-weight:700;color:#f3ecfb;letter-spacing:0.830px;">VPS Value</div>
<div class="t" style="left:811.2px;top:1769.0px;font-size:16px;color:#f3ecfb;letter-spacing:0.629px;">Yearly Promo</div>
<div class="hr" style="left:810.7px;top:1801.3px;width:207px"></div>
<div class="t" style="left:811.2px;top:1819.5px;font-size:16px;font-weight:700;color:#f3ecfb;letter-spacing:0.149px;">Services Included</div>
<svg style="left:811.7px;top:1859.5px" width="17" height="17" viewBox="0 0 17 17"><circle cx="8.5" cy="8.5" r="8.3" fill="#f3ecfb"/><path d="M4.9 8.7 L7.5 11.2 L12.1 6.3" fill="none" stroke="#2a2250" stroke-width="1.9" stroke-linecap="round" stroke-linejoin="round"/></svg>
<div class="t" style="left:839.7px;top:1860.4px;font-size:13.2px;color:#f3ecfb;letter-spacing:0.292px;">40 GB SSD Storage</div>
<svg style="left:811.7px;top:1894.9px" width="17" height="17" viewBox="0 0 17 17"><circle cx="8.5" cy="8.5" r="8.3" fill="#f3ecfb"/><path d="M4.9 8.7 L7.5 11.2 L12.1 6.3" fill="none" stroke="#2a2250" stroke-width="1.9" stroke-linecap="round" stroke-linejoin="round"/></svg>
<div class="t" style="left:839.7px;top:1895.8px;font-size:13.2px;color:#f3ecfb;letter-spacing:0.379px;">3 GB RAM Memory</div>
<svg style="left:811.7px;top:1930.3px" width="17" height="17" viewBox="0 0 17 17"><circle cx="8.5" cy="8.5" r="8.3" fill="#f3ecfb"/><path d="M4.9 8.7 L7.5 11.2 L12.1 6.3" fill="none" stroke="#2a2250" stroke-width="1.9" stroke-linecap="round" stroke-linejoin="round"/></svg>
<div class="t" style="left:839.7px;top:1931.2px;font-size:13.2px;color:#f3ecfb;letter-spacing:0.301px;">2 vCPU Core</div>
<svg style="left:811.7px;top:1965.7px" width="17" height="17" viewBox="0 0 17 17"><circle cx="8.5" cy="8.5" r="8.3" fill="#f3ecfb"/><path d="M4.9 8.7 L7.5 11.2 L12.1 6.3" fill="none" stroke="#2a2250" stroke-width="1.9" stroke-linecap="round" stroke-linejoin="round"/></svg>
<div class="t" style="left:839.7px;top:1966.6px;font-size:13.2px;color:#f3ecfb;letter-spacing:0.580px;">3 TB Bandwidth</div>
<svg style="left:811.7px;top:2001.1px" width="17" height="17" viewBox="0 0 17 17"><circle cx="8.5" cy="8.5" r="8.3" fill="#f3ecfb"/><path d="M4.9 8.7 L7.5 11.2 L12.1 6.3" fill="none" stroke="#2a2250" stroke-width="1.9" stroke-linecap="round" stroke-linejoin="round"/></svg>
<div class="t" style="left:839.7px;top:2002.0px;font-size:13.2px;color:#f3ecfb;letter-spacing:0.607px;">1 Gbp/s Connection</div>
<svg style="left:811.7px;top:2036.5px" width="17" height="17" viewBox="0 0 17 17"><circle cx="8.5" cy="8.5" r="8.3" fill="#f3ecfb"/><path d="M4.9 8.7 L7.5 11.2 L12.1 6.3" fill="none" stroke="#2a2250" stroke-width="1.9" stroke-linecap="round" stroke-linejoin="round"/></svg>
<div class="t" style="left:839.7px;top:2037.4px;font-size:13.2px;color:#f3ecfb;letter-spacing:0.310px;">1 IpV4</div>
<svg style="left:811.7px;top:2071.9px" width="17" height="17" viewBox="0 0 17 17"><circle cx="8.5" cy="8.5" r="8.3" fill="#f3ecfb"/><path d="M4.9 8.7 L7.5 11.2 L12.1 6.3" fill="none" stroke="#2a2250" stroke-width="1.9" stroke-linecap="round" stroke-linejoin="round"/></svg>
<div class="t" style="left:839.7px;top:2072.8px;font-size:13.2px;color:#f3ecfb;letter-spacing:0.582px;">KVM Virtualization</div>
<div class="t" style="left:828.0px;top:2110.8px;font-size:34px;font-weight:700;color:#f3ecfb;letter-spacing:0.333px;">$31.88</div>
<div class="t" style="left:936.5px;top:2123.0px;font-size:20.5px;color:#f3ecfb;letter-spacing:0.797px;">/Yearly</div>
<div class="btn" style="left:804.4px;width:223.3px"></div>
<div class="t" style="left:836.0px;top:2169.3px;font-size:27px;font-weight:700;color:#8a3fd8;letter-spacing:-0.321px;">Choose Plan</div>
<svg style="left:0;top:1621px" width="1158" height="120" viewBox="0 1621 1158 120" stroke-linejoin="round"><rect x="143.4" y="1648.4" width="51.6" height="14.4" rx="1.8" fill="#5aa2f3" stroke="#0b0b1e" stroke-width="1.9"/><rect x="147.6" y="1652.3000000000002" width="6.6" height="6.6" fill="#f0a585" stroke="#0b0b1e" stroke-width="1.5"/><rect x="158.2" y="1652.3000000000002" width="6.6" height="6.6" fill="#3fa593" stroke="#0b0b1e" stroke-width="1.5"/><rect x="143.4" y="1670.6" width="51.6" height="14.4" rx="1.8" fill="#5aa2f3" stroke="#0b0b1e" stroke-width="1.9"/><rect x="147.6" y="1674.5" width="6.6" height="6.6" fill="#f0a585" stroke="#0b0b1e" stroke-width="1.5"/><rect x="158.2" y="1674.5" width="6.6" height="6.6" fill="#3fa593" stroke="#0b0b1e" stroke-width="1.5"/><rect x="143.4" y="1692.2" width="51.6" height="14.4" rx="1.8" fill="#5aa2f3" stroke="#0b0b1e" stroke-width="1.9"/><rect x="147.6" y="1696.1000000000001" width="6.6" height="6.6" fill="#f0a585" stroke="#0b0b1e" stroke-width="1.5"/><rect x="158.2" y="1696.1000000000001" width="6.6" height="6.6" fill="#3fa593" stroke="#0b0b1e" stroke-width="1.5"/><path d="M168.4 1653.4 H186.6 M168.4 1658.1 H186.6" stroke="#14143c" stroke-width="2.2"/><path d="M190.3 1652.3 V1654.4 M190.3 1657 V1659.2" stroke="#14143c" stroke-width="2"/><rect x="149" y="1665.3" width="5.6" height="2.8" fill="#c9c9d6"/><rect x="149" y="1687.3" width="5.6" height="2.8" fill="#c9c9d6"/><rect x="184.3" y="1665.3" width="5.6" height="2.8" fill="#c9c9d6"/><rect x="184.3" y="1687.3" width="5.6" height="2.8" fill="#c9c9d6"/><path d="M156 1666.7 H183 M156 1688.7 H172" stroke="#47416e" stroke-width="1.6"/><path d="M172.5 1678.5 V1717.5 C172.5 1726.4 219.5 1726.4 219.5 1717.5 V1678.5Z" fill="#fbd74c" stroke="#0b0b1e" stroke-width="2"/><ellipse cx="196" cy="1678.3" rx="23.5" ry="6.4" fill="#fcc51c" stroke="#0b0b1e" stroke-width="2"/><path d="M172.5 1691 C174 1699 218 1699 219.5 1691 M172.5 1704.6 C174 1712.6 218 1712.6 219.5 1704.6" fill="none" stroke="#0b0b1e" stroke-width="2"/><circle cx="196" cy="1692.2" r="1.3" fill="#0b0b1e"/><circle cx="196" cy="1706.4" r="1.3" fill="#0b0b1e"/><circle cx="196" cy="1718.6" r="1.3" fill="#0b0b1e"/><path d="M486.5 1659.5 V1651.8 H519.8 M554.3 1685 V1718 H542.5" fill="none" stroke="#0b0b1e" stroke-width="1.9"/><circle cx="486.4" cy="1662" r="1.2" fill="#0b0b1e"/><circle cx="538" cy="1718" r="1.2" fill="#0b0b1e"/><rect x="481.6" y="1668.2" width="50.5" height="14.2" rx="1.6" fill="#f3f3f3" stroke="#0b0b1e" stroke-width="1.9"/><rect x="485.4" y="1672.0" width="6.4" height="6.4" fill="#f4e9a8" stroke="#0b0b1e" stroke-width="1.6"/><rect x="495.5" y="1672.0" width="6.4" height="6.4" fill="#3fa593" stroke="#0b0b1e" stroke-width="1.6"/><path d="M505.8 1672.9 H523 M505.8 1677.8 H523" stroke="#0b0b1e" stroke-width="2.1"/><path d="M527.6 1671.8 V1674.0 M527.6 1676.7 V1678.9" stroke="#0b0b1e" stroke-width="1.9"/><rect x="481.6" y="1688.9" width="50.5" height="14.2" rx="1.6" fill="#e1e1e1" stroke="#0b0b1e" stroke-width="1.9"/><rect x="485.4" y="1692.7" width="6.4" height="6.4" fill="#f4e9a8" stroke="#0b0b1e" stroke-width="1.6"/><rect x="495.5" y="1692.7" width="6.4" height="6.4" fill="#3fa593" stroke="#0b0b1e" stroke-width="1.6"/><path d="M505.8 1693.6000000000001 H523 M505.8 1698.5 H523" stroke="#0b0b1e" stroke-width="2.1"/><path d="M527.6 1692.5 V1694.7 M527.6 1697.4 V1699.6000000000001" stroke="#0b0b1e" stroke-width="1.9"/><rect x="481.6" y="1709.7" width="50.5" height="14.2" rx="1.6" fill="#b9b9bb" stroke="#0b0b1e" stroke-width="1.9"/><rect x="485.4" y="1713.5" width="6.4" height="6.4" fill="#f4e9a8" stroke="#0b0b1e" stroke-width="1.6"/><rect x="495.5" y="1713.5" width="6.4" height="6.4" fill="#3fa593" stroke="#0b0b1e" stroke-width="1.6"/><path d="M505.8 1714.4 H523 M505.8 1719.3 H523" stroke="#0b0b1e" stroke-width="2.1"/><path d="M527.6 1713.3 V1715.5 M527.6 1718.2 V1720.4" stroke="#0b0b1e" stroke-width="1.9"/><rect x="486.8" y="1683.6" width="7" height="3" fill="#9a9aa2"/><rect x="486.8" y="1704.3" width="7" height="3" fill="#9a9aa2"/><rect x="521" y="1683.6" width="7" height="3" fill="#9a9aa2"/><rect x="521" y="1704.3" width="7" height="3" fill="#9a9aa2"/><circle cx="536.8" cy="1668.4" r="19.2" fill="#4d9cf5" stroke="#0b0b1e" stroke-width="2"/><g fill="none" stroke="#0b0b1e" stroke-width="1.8"><path d="M517.6 1668.4 H556 M536.8 1649.2 V1687.6"/><ellipse cx="536.8" cy="1668.4" rx="9.6" ry="19.2"/><path d="M522.2 1656.3 C530 1661.6 543.6 1661.6 551.4 1656.3 M522.2 1680.5 C530 1675.2 543.6 1675.2 551.4 1680.5"/></g><path d="M817.6 1664.9 V1712 C817.6 1723.4 871.7 1723.4 871.7 1712 V1664.9Z" fill="#3f8df1" stroke="#0b0b1e" stroke-width="2"/><ellipse cx="844.6" cy="1664.7" rx="27" ry="7.8" fill="#4c98f4" stroke="#0b0b1e" stroke-width="2"/><path d="M817.6 1679 C819 1689.6 870.3 1689.6 871.7 1679 M817.6 1695.4 C819 1706 870.3 1706 871.7 1695.4" fill="none" stroke="#0b0b1e" stroke-width="2"/><path d="M823.8 1678.0 L828 1679.0" stroke="#0b0b1e" stroke-width="2" stroke-linecap="round"/><path d="M823.8 1693.8 L828 1694.8" stroke="#0b0b1e" stroke-width="2" stroke-linecap="round"/><path d="M823.8 1709.3999999999999 L828 1710.3999999999999" stroke="#0b0b1e" stroke-width="2" stroke-linecap="round"/><path d="M885.1 1660.1 L888.3 1660.5 L888.3 1664.3 L885.1 1664.7 L883.5 1668.5 L885.4 1671.1 L882.8 1673.7 L880.2 1671.8 L876.4 1673.4 L876.0 1676.6 L872.2 1676.6 L871.8 1673.4 L868.0 1671.8 L865.4 1673.7 L862.8 1671.1 L864.7 1668.5 L863.1 1664.7 L859.9 1664.3 L859.9 1660.5 L863.1 1660.1 L864.7 1656.3 L862.8 1653.7 L865.4 1651.1 L868.0 1653.0 L871.8 1651.4 L872.2 1648.2 L876.0 1648.2 L876.4 1651.4 L880.2 1653.0 L882.8 1651.1 L885.4 1653.7 L883.5 1656.3Z" fill="#f5a93d" stroke="#0b0b1e" stroke-width="1.8"/><circle cx="874.1" cy="1662.4" r="6.9" fill="#d9e5f5" stroke="#0b0b1e" stroke-width="1.9"/><rect x="858" y="1683" width="26" height="24" fill="#dce6f5" stroke="#0b0b1e" stroke-width="1.9"/><path d="M861 1687.2 H881.4 M861 1692.2 H881.4" stroke="#0b0b1e" stroke-width="1.9"/><path d="M850.2 1698.2 H864 L868.4 1704.6 H886.8 V1723.8 H850.2Z" fill="#fbc93d" stroke="#0b0b1e" stroke-width="2"/></svg>
<div class="sec" id="flash" style="top:2330px;height:461px;background:#4b1a77;"><svg width="1158" height="461" viewBox="0 0 1158 461" style="left:0;top:0"><path d="M-60 -267 L75 -189 L-60 -111 L-196 -189Z" fill="rgba(255,255,255,0.024)"/><path d="M-196 -189 L-60 -111 L-60 45 L-196 -33Z" fill="rgba(255,255,255,0.011)"/><path d="M75 -189 L-60 -111 L-60 45 L75 -33Z" fill="rgba(20,0,60,0.032)"/><path d="M202 -271 L337 -193 L202 -115 L67 -193Z" fill="rgba(255,255,255,0.019)"/><path d="M67 -193 L202 -115 L202 41 L67 -37Z" fill="rgba(255,255,255,0.009)"/><path d="M337 -193 L202 -115 L202 41 L337 -37Z" fill="rgba(20,0,60,0.025)"/><path d="M330 -189 L397 -150 L330 -111 L262 -150Z" fill="rgba(255,255,255,0.030)"/><path d="M262 -150 L330 -111 L330 -33 L262 -72Z" fill="rgba(255,255,255,0.013)"/><path d="M397 -150 L330 -111 L330 -33 L397 -72Z" fill="rgba(20,0,60,0.038)"/><path d="M482 -231 L583 -172 L482 -114 L381 -172Z" fill="rgba(255,255,255,0.028)"/><path d="M381 -172 L482 -114 L482 3 L381 -55Z" fill="rgba(255,255,255,0.013)"/><path d="M583 -172 L482 -114 L482 3 L583 -55Z" fill="rgba(20,0,60,0.036)"/><path d="M615 -204 L682 -165 L615 -126 L547 -165Z" fill="rgba(255,255,255,0.016)"/><path d="M547 -165 L615 -126 L615 -48 L547 -87Z" fill="rgba(255,255,255,0.007)"/><path d="M682 -165 L615 -126 L615 -48 L682 -87Z" fill="rgba(20,0,60,0.020)"/><path d="M1155 -273 L1290 -195 L1155 -117 L1020 -195Z" fill="rgba(255,255,255,0.028)"/><path d="M1020 -195 L1155 -117 L1155 39 L1020 -39Z" fill="rgba(255,255,255,0.013)"/><path d="M1290 -195 L1155 -117 L1155 39 L1290 -39Z" fill="rgba(20,0,60,0.037)"/><path d="M1283 -199 L1350 -160 L1283 -121 L1215 -160Z" fill="rgba(255,255,255,0.036)"/><path d="M1215 -160 L1283 -121 L1283 -43 L1215 -82Z" fill="rgba(255,255,255,0.016)"/><path d="M1350 -160 L1283 -121 L1283 -43 L1350 -82Z" fill="rgba(20,0,60,0.047)"/><path d="M135 -87 L203 -48 L135 -9 L68 -48Z" fill="rgba(255,255,255,0.027)"/><path d="M68 -48 L135 -9 L135 69 L68 30Z" fill="rgba(255,255,255,0.012)"/><path d="M203 -48 L135 -9 L135 69 L203 30Z" fill="rgba(20,0,60,0.035)"/><path d="M277 -80 L345 -41 L277 -2 L210 -41Z" fill="rgba(255,255,255,0.035)"/><path d="M210 -41 L277 -2 L277 76 L210 37Z" fill="rgba(255,255,255,0.016)"/><path d="M345 -41 L277 -2 L277 76 L345 37Z" fill="rgba(20,0,60,0.046)"/><path d="M549 -87 L616 -48 L549 -9 L481 -48Z" fill="rgba(255,255,255,0.023)"/><path d="M481 -48 L549 -9 L549 69 L481 30Z" fill="rgba(255,255,255,0.010)"/><path d="M616 -48 L549 -9 L549 69 L616 30Z" fill="rgba(20,0,60,0.030)"/><path d="M813 -150 L948 -72 L813 6 L678 -72Z" fill="rgba(255,255,255,0.021)"/><path d="M678 -72 L813 6 L813 162 L678 84Z" fill="rgba(255,255,255,0.009)"/><path d="M948 -72 L813 6 L813 162 L948 84Z" fill="rgba(20,0,60,0.027)"/><path d="M936 -119 L1037 -60 L936 -2 L835 -60Z" fill="rgba(255,255,255,0.034)"/><path d="M835 -60 L936 -2 L936 115 L835 57Z" fill="rgba(255,255,255,0.015)"/><path d="M1037 -60 L936 -2 L936 115 L1037 57Z" fill="rgba(20,0,60,0.045)"/><path d="M1071 -79 L1139 -40 L1071 -1 L1003 -40Z" fill="rgba(255,255,255,0.025)"/><path d="M1003 -40 L1071 -1 L1071 77 L1003 38Z" fill="rgba(255,255,255,0.011)"/><path d="M1139 -40 L1071 -1 L1071 77 L1139 38Z" fill="rgba(20,0,60,0.033)"/><path d="M1345 -151 L1480 -73 L1345 5 L1210 -73Z" fill="rgba(255,255,255,0.018)"/><path d="M1210 -73 L1345 5 L1345 161 L1210 83Z" fill="rgba(255,255,255,0.008)"/><path d="M1480 -73 L1345 5 L1345 161 L1480 83Z" fill="rgba(20,0,60,0.023)"/><path d="M77 -10 L179 49 L77 107 L-24 49Z" fill="rgba(255,255,255,0.033)"/><path d="M-24 49 L77 107 L77 224 L-24 166Z" fill="rgba(255,255,255,0.015)"/><path d="M179 49 L77 107 L77 224 L179 166Z" fill="rgba(20,0,60,0.043)"/><path d="M606 46 L673 85 L606 124 L538 85Z" fill="rgba(255,255,255,0.028)"/><path d="M538 85 L606 124 L606 202 L538 163Z" fill="rgba(255,255,255,0.013)"/><path d="M673 85 L606 124 L606 202 L673 163Z" fill="rgba(20,0,60,0.037)"/><path d="M737 34 L805 73 L737 112 L670 73Z" fill="rgba(255,255,255,0.031)"/><path d="M670 73 L737 112 L737 190 L670 151Z" fill="rgba(255,255,255,0.014)"/><path d="M805 73 L737 112 L737 190 L805 151Z" fill="rgba(20,0,60,0.041)"/><path d="M876 -9 L977 50 L876 108 L775 50Z" fill="rgba(255,255,255,0.019)"/><path d="M775 50 L876 108 L876 225 L775 167Z" fill="rgba(255,255,255,0.009)"/><path d="M977 50 L876 108 L876 225 L977 167Z" fill="rgba(20,0,60,0.025)"/><path d="M1146 -1 L1247 58 L1146 116 L1044 58Z" fill="rgba(255,255,255,0.035)"/><path d="M1044 58 L1146 116 L1146 233 L1044 175Z" fill="rgba(255,255,255,0.016)"/><path d="M1247 58 L1146 116 L1146 233 L1247 175Z" fill="rgba(20,0,60,0.046)"/><path d="M1276 -41 L1411 37 L1276 115 L1141 37Z" fill="rgba(255,255,255,0.028)"/><path d="M1141 37 L1276 115 L1276 271 L1141 193Z" fill="rgba(255,255,255,0.013)"/><path d="M1411 37 L1276 115 L1276 271 L1411 193Z" fill="rgba(20,0,60,0.037)"/><path d="M1425 34 L1492 73 L1425 112 L1357 73Z" fill="rgba(255,255,255,0.019)"/><path d="M1357 73 L1425 112 L1425 190 L1357 151Z" fill="rgba(255,255,255,0.009)"/><path d="M1492 73 L1425 112 L1425 190 L1492 151Z" fill="rgba(20,0,60,0.025)"/><path d="M143 119 L244 178 L143 236 L41 178Z" fill="rgba(255,255,255,0.024)"/><path d="M41 178 L143 236 L143 353 L41 295Z" fill="rgba(255,255,255,0.011)"/><path d="M244 178 L143 236 L143 353 L244 295Z" fill="rgba(20,0,60,0.031)"/><path d="M270 151 L338 190 L270 229 L203 190Z" fill="rgba(255,255,255,0.031)"/><path d="M203 190 L270 229 L270 307 L203 268Z" fill="rgba(255,255,255,0.014)"/><path d="M338 190 L270 229 L270 307 L338 268Z" fill="rgba(20,0,60,0.040)"/><path d="M412 119 L513 177 L412 236 L310 177Z" fill="rgba(255,255,255,0.021)"/><path d="M310 177 L412 236 L412 353 L310 294Z" fill="rgba(255,255,255,0.010)"/><path d="M513 177 L412 236 L412 353 L513 294Z" fill="rgba(20,0,60,0.028)"/><path d="M533 156 L600 195 L533 234 L465 195Z" fill="rgba(255,255,255,0.029)"/><path d="M465 195 L533 234 L533 312 L465 273Z" fill="rgba(255,255,255,0.013)"/><path d="M600 195 L533 234 L533 312 L600 273Z" fill="rgba(20,0,60,0.037)"/><path d="M819 150 L886 189 L819 228 L751 189Z" fill="rgba(255,255,255,0.015)"/><path d="M751 189 L819 228 L819 306 L751 267Z" fill="rgba(255,255,255,0.007)"/><path d="M886 189 L819 228 L819 306 L886 267Z" fill="rgba(20,0,60,0.020)"/><path d="M941 108 L1042 166 L941 225 L839 166Z" fill="rgba(255,255,255,0.021)"/><path d="M839 166 L941 225 L941 342 L839 283Z" fill="rgba(255,255,255,0.009)"/><path d="M1042 166 L941 225 L941 342 L1042 283Z" fill="rgba(20,0,60,0.027)"/><path d="M1073 149 L1140 188 L1073 227 L1005 188Z" fill="rgba(255,255,255,0.024)"/><path d="M1005 188 L1073 227 L1073 305 L1005 266Z" fill="rgba(255,255,255,0.011)"/><path d="M1140 188 L1073 227 L1073 305 L1140 266Z" fill="rgba(20,0,60,0.032)"/><path d="M1218 71 L1353 149 L1218 227 L1082 149Z" fill="rgba(255,255,255,0.016)"/><path d="M1082 149 L1218 227 L1218 383 L1082 305Z" fill="rgba(255,255,255,0.007)"/><path d="M1353 149 L1218 227 L1218 383 L1353 305Z" fill="rgba(20,0,60,0.020)"/><path d="M1355 126 L1456 185 L1355 243 L1254 185Z" fill="rgba(255,255,255,0.015)"/><path d="M1254 185 L1355 243 L1355 360 L1254 302Z" fill="rgba(255,255,255,0.007)"/><path d="M1456 185 L1355 243 L1355 360 L1456 302Z" fill="rgba(20,0,60,0.020)"/><path d="M64 244 L165 302 L64 361 L-37 302Z" fill="rgba(255,255,255,0.017)"/><path d="M-37 302 L64 361 L64 478 L-37 419Z" fill="rgba(255,255,255,0.007)"/><path d="M165 302 L64 361 L64 478 L165 419Z" fill="rgba(20,0,60,0.022)"/><path d="M211 278 L278 317 L211 356 L143 317Z" fill="rgba(255,255,255,0.030)"/><path d="M143 317 L211 356 L211 434 L143 395Z" fill="rgba(255,255,255,0.013)"/><path d="M278 317 L211 356 L211 434 L278 395Z" fill="rgba(20,0,60,0.039)"/><path d="M616 241 L717 300 L616 358 L515 300Z" fill="rgba(255,255,255,0.024)"/><path d="M515 300 L616 358 L616 475 L515 417Z" fill="rgba(255,255,255,0.011)"/><path d="M717 300 L616 358 L616 475 L717 417Z" fill="rgba(20,0,60,0.031)"/><path d="M1274 186 L1409 264 L1274 342 L1139 264Z" fill="rgba(255,255,255,0.017)"/><path d="M1139 264 L1274 342 L1274 498 L1139 420Z" fill="rgba(255,255,255,0.008)"/><path d="M1409 264 L1274 342 L1274 498 L1409 420Z" fill="rgba(20,0,60,0.022)"/><path d="M1426 239 L1527 297 L1426 356 L1325 297Z" fill="rgba(255,255,255,0.023)"/><path d="M1325 297 L1426 356 L1426 473 L1325 414Z" fill="rgba(255,255,255,0.010)"/><path d="M1527 297 L1426 356 L1426 473 L1527 414Z" fill="rgba(20,0,60,0.030)"/><path d="M127 317 L262 395 L127 473 L-8 395Z" fill="rgba(255,255,255,0.016)"/><path d="M-8 395 L127 473 L127 629 L-8 551Z" fill="rgba(255,255,255,0.007)"/><path d="M262 395 L127 473 L127 629 L262 551Z" fill="rgba(20,0,60,0.020)"/><path d="M414 382 L482 421 L414 460 L347 421Z" fill="rgba(255,255,255,0.031)"/><path d="M347 421 L414 460 L414 538 L347 499Z" fill="rgba(255,255,255,0.014)"/><path d="M482 421 L414 460 L414 538 L482 499Z" fill="rgba(20,0,60,0.041)"/><path d="M673 383 L740 422 L673 461 L605 422Z" fill="rgba(255,255,255,0.028)"/><path d="M605 422 L673 461 L673 539 L605 500Z" fill="rgba(255,255,255,0.013)"/><path d="M740 422 L673 461 L673 539 L740 500Z" fill="rgba(20,0,60,0.036)"/><path d="M814 350 L915 408 L814 467 L712 408Z" fill="rgba(255,255,255,0.034)"/><path d="M712 408 L814 467 L814 584 L712 525Z" fill="rgba(255,255,255,0.015)"/><path d="M915 408 L814 467 L814 584 L915 525Z" fill="rgba(20,0,60,0.044)"/><path d="M940 350 L1041 408 L940 467 L838 408Z" fill="rgba(255,255,255,0.032)"/><path d="M838 408 L940 467 L940 584 L838 525Z" fill="rgba(255,255,255,0.014)"/><path d="M1041 408 L940 467 L940 584 L1041 525Z" fill="rgba(20,0,60,0.042)"/><path d="M1359 306 L1495 384 L1359 462 L1224 384Z" fill="rgba(255,255,255,0.018)"/><path d="M1224 384 L1359 462 L1359 618 L1224 540Z" fill="rgba(255,255,255,0.008)"/><path d="M1495 384 L1359 462 L1359 618 L1495 540Z" fill="rgba(20,0,60,0.023)"/><path d="M-63 516 L4 555 L-63 594 L-131 555Z" fill="rgba(255,255,255,0.021)"/><path d="M-131 555 L-63 594 L-63 672 L-131 633Z" fill="rgba(255,255,255,0.009)"/><path d="M4 555 L-63 594 L-63 672 L4 633Z" fill="rgba(20,0,60,0.027)"/><path d="M67 477 L168 535 L67 594 L-34 535Z" fill="rgba(255,255,255,0.032)"/><path d="M-34 535 L67 594 L67 711 L-34 652Z" fill="rgba(255,255,255,0.015)"/><path d="M168 535 L67 594 L67 711 L168 652Z" fill="rgba(20,0,60,0.042)"/><path d="M203 425 L338 503 L203 581 L67 503Z" fill="rgba(255,255,255,0.033)"/><path d="M67 503 L203 581 L203 737 L67 659Z" fill="rgba(255,255,255,0.015)"/><path d="M338 503 L203 581 L203 737 L338 659Z" fill="rgba(20,0,60,0.042)"/><path d="M479 503 L547 542 L479 581 L412 542Z" fill="rgba(255,255,255,0.028)"/><path d="M412 542 L479 581 L479 659 L412 620Z" fill="rgba(255,255,255,0.012)"/><path d="M547 542 L479 581 L479 659 L547 620Z" fill="rgba(20,0,60,0.036)"/><path d="M739 474 L841 532 L739 591 L638 532Z" fill="rgba(255,255,255,0.015)"/><path d="M638 532 L739 591 L739 708 L638 649Z" fill="rgba(255,255,255,0.007)"/><path d="M841 532 L739 591 L739 708 L841 649Z" fill="rgba(20,0,60,0.020)"/><path d="M872 473 L973 532 L872 590 L771 532Z" fill="rgba(255,255,255,0.021)"/><path d="M771 532 L872 590 L872 707 L771 649Z" fill="rgba(255,255,255,0.009)"/><path d="M973 532 L872 590 L872 707 L973 649Z" fill="rgba(20,0,60,0.027)"/><path d="M1421 510 L1489 549 L1421 588 L1354 549Z" fill="rgba(255,255,255,0.032)"/><path d="M1354 549 L1421 588 L1421 666 L1354 627Z" fill="rgba(255,255,255,0.014)"/><path d="M1489 549 L1421 588 L1421 666 L1489 627Z" fill="rgba(20,0,60,0.042)"/></svg></div>
<svg style="left:0;top:2330px" width="440" height="461" viewBox="0 2330 440 461" fill="none" stroke-width="2.6" stroke-linecap="round" stroke-linejoin="round"><defs><linearGradient id="nOR" x1="0" y1="0" x2="0" y2="1"><stop offset="0.35" stop-color="#f5a93c"/><stop offset="0.8" stop-color="#ea3550"/></linearGradient></defs><ellipse cx="239.7" cy="2515.8" rx="71.3" ry="13.2" stroke="#f5a93c"/><ellipse cx="239.7" cy="2514.4" rx="50.8" ry="9.4" stroke="#f5a93c"/><path d="M197.5 2500.3 V2513.6 C197.5 2525 281.9 2525 281.9 2513.6 V2500.3" stroke="#f5a93c" fill="#4b1a77"/><ellipse cx="239.7" cy="2500.3" rx="42.2" ry="8.7" stroke="#f5a93c" fill="#4b1a77"/><path d="M168.39999999999998 2515.8 V2551.6 C168.39999999999998 2569 311.0 2569 311.0 2551.6 V2515.8" stroke="url(#nOR)"/><path d="M168.39999999999998 2560.3 V2599 C168.39999999999998 2615.8 311.0 2615.8 311.0 2599 V2560.3" stroke="#3f7cf2"/><path d="M168.39999999999998 2560.3 C168.39999999999998 2580 311.0 2580 311.0 2560.3" stroke="#3f7cf2"/><path d="M168.39999999999998 2605.7 V2645.4 C168.39999999999998 2662.2 311.0 2662.2 311.0 2645.4 V2605.7" stroke="#49a6f6"/><path d="M168.39999999999998 2605.7 C168.39999999999998 2627.5 311.0 2627.5 311.0 2605.7" stroke="#49a6f6"/><circle cx="225" cy="2546.7" r="3.0" stroke="#f5a93c"/><circle cx="239.4" cy="2546.7" r="5.4" stroke="#f5a93c"/><circle cx="254" cy="2546.7" r="3.0" stroke="#f5a93c"/><circle cx="225" cy="2594.1" r="3.0" stroke="#f5a93c"/><circle cx="239.4" cy="2594.1" r="3.0" stroke="#f5a93c"/><circle cx="254.4" cy="2594.1" r="5.6" stroke="#f5a93c"/><circle cx="225" cy="2640" r="5.6" stroke="#f5a93c"/><circle cx="239.4" cy="2640" r="3.0" stroke="#f5a93c"/><circle cx="254" cy="2640" r="3.0" stroke="#f5a93c"/><rect x="93.5" y="2477.4" width="52.5" height="52.1" rx="3" stroke="#ea3550"/><rect x="104.6" y="2487.7" width="31.6" height="32" rx="1.5" stroke="#ea3550"/><circle cx="120.4" cy="2496.8" r="4.1" stroke="#ea3550"/><path d="M110.5 2507.5 H130.3 M110.5 2513.3 H130.3" stroke="#ea3550"/><path d="M99.5 2477.4 V2470 M99.5 2529.5 V2537 M93.5 2483.0 H86 M146 2483.0 H153.5 M106.3 2477.4 V2470 M106.3 2529.5 V2537 M93.5 2489.8 H86 M146 2489.8 H153.5 M113.1 2477.4 V2470 M113.1 2529.5 V2537 M93.5 2496.6 H86 M146 2496.6 H153.5 M119.9 2477.4 V2470 M119.9 2529.5 V2537 M93.5 2503.4 H86 M146 2503.4 H153.5 M126.7 2477.4 V2470 M126.7 2529.5 V2537 M93.5 2510.2 H86 M146 2510.2 H153.5 M133.5 2477.4 V2470 M133.5 2529.5 V2537 M93.5 2517.0 H86 M146 2517.0 H153.5 M140.3 2477.4 V2470 M140.3 2529.5 V2537 M93.5 2523.8 H86 M146 2523.8 H153.5" stroke="#ea3550" stroke-width="2.2"/><path d="M324.2 2417.6 H313 Q309.7 2417.6 309.7 2421 V2479 Q309.7 2482.5 313 2482.5 H324.2 M373.8 2417.6 H384 Q387.4 2417.6 387.4 2421 V2479 Q387.4 2482.5 384 2482.5 H373.8" stroke="#3f7cf2"/><rect x="324.2" y="2406.5" width="49.6" height="83.7" rx="4" stroke="#3f7cf2"/><path d="M337 2427 H361 M337 2435.5 H361 M337 2444 H361 M337 2452.5 H361 M337 2461 H361 M337 2469.5 H352" stroke="#3f7cf2"/><circle cx="358.4" cy="2479" r="3" stroke="#3f7cf2"/><circle cx="316.8" cy="2428" r="1" stroke="#3f7cf2"/><circle cx="380.5" cy="2428" r="1" stroke="#3f7cf2"/><g fill="#3f7cf2" stroke="none"><circle cx="342" cy="2418.5" r="1.3"/><circle cx="348.8" cy="2418.5" r="1.3"/><circle cx="355.6" cy="2418.5" r="1.3"/></g><path d="M88.5 2641.5 H141.5 Q144 2641.5 144.8 2644 L151.2 2667.1 V2679 Q151.2 2681.2 149 2681.2 H80 Q77.7 2681.2 77.7 2679 V2667.1 L85.5 2644 Q86.3 2641.5 88.5 2641.5Z M77.7 2667.1 H151.2" stroke="#8b50ea"/><ellipse cx="114.9" cy="2653.6" rx="13.7" ry="5.8" stroke="#8b50ea"/><rect x="77.7" y="2684.4" width="73.5" height="19" rx="2.2" stroke="#8b50ea"/><circle cx="141.8" cy="2674.2" r="2.6" stroke="#8b50ea"/><circle cx="141.8" cy="2694" r="2.6" stroke="#8b50ea"/><rect x="321.2" y="2645.8" width="25.7" height="23.9" rx="3" stroke="#3ec27e"/><path d="M325.6 2645.8 V2640 C325.6 2628.5 342.5 2628.5 342.5 2640 V2645.8" stroke="#3ec27e"/><circle cx="334" cy="2656.8" r="2.7" stroke="#3ec27e"/><path d="M327.4 2694 L334 2687.4 L340.6 2694 L334 2700.6Z" stroke="#55b04a"/><path d="M345.59999999999997 2694 L352.2 2687.4 L358.8 2694 L352.2 2700.6Z" stroke="#55b04a"/><path d="M363.79999999999995 2694 L370.4 2687.4 L377.0 2694 L370.4 2700.6Z" stroke="#55b04a"/><circle cx="157.6" cy="2462.5" r="4.8" stroke="#55b04a"/><circle cx="376.8" cy="2507.3" r="4.8" stroke="#55b04a"/><circle cx="54.2" cy="2546.6" r="4.8" stroke="#55b04a"/><circle cx="360.5" cy="2637.2" r="4.8" stroke="#55b04a"/><g fill="#f6bd3a" stroke="none"><circle cx="178.1" cy="2468.4" r="3.3"/><circle cx="333.2" cy="2516.7" r="3.3"/><circle cx="376.8" cy="2551.8" r="3.3"/><circle cx="75.5" cy="2564.6" r="3.3"/><circle cx="143.9" cy="2564.6" r="3.3"/><circle cx="198.6" cy="2696.2" r="3.3"/><circle cx="300.7" cy="2712.4" r="3.3"/></g><g stroke="#f6bd3a" stroke-linecap="butt"><path d="M119.1 2465.5 V2446.2 H208 V2477.4" stroke-dasharray="13 8"/><path d="M221.7 2453.5 H274.2 M261.4 2464.2 H285.8 M49.9 2586.4 H103.3"/><path d="M267 2430.4 V2416.3 M267 2430.4 L255 2437.7 M267 2430.4 L279.8 2437.7 M230.6 2709 V2698.3 M230.6 2709 L220.8 2716.7 M230.6 2709 L242.2 2716.7"/><path d="M351.1 2510.3 V2583 H314.8" stroke-dasharray="13 8"/><path d="M82.8 2596.6 H136.2" stroke-dasharray="12 9"/><path d="M114.9 2632.1 V2615 H165.3" stroke-dasharray="11 8"/><path d="M201.6 2678.2 H252" stroke-dasharray="11 8"/><path d="M255 2678.2 H264.5 M258.5 2671.8 L265 2678.2 L258.5 2684.6"/></g></svg>
<div class="t" style="left:443.5px;top:2373.2px;font-size:31px;color:#fbf8ff;letter-spacing:0.489px;">Flash Sale Alert: Get Your VPS Today</div>
<div class="t" style="left:445.6px;top:2408.8px;font-size:30px;font-weight:700;font-style:italic;color:#ffffff;letter-spacing:0.608px;">Before It’s Gone!</div>
<div class="fbox" style="left:440.5px;top:2465px;border-color:#3f6df0;background:rgba(55,15,100,.16)"></div>
<div class="fbox" style="left:784px;top:2465px;border-color:#f2a23a;background:rgba(55,15,100,.16)"></div>
<div class="fbox" style="left:440.5px;top:2611px;border-color:#e8334f;background:rgba(55,15,100,.16)"></div>
<div class="fbox" style="left:784px;top:2611px;border-color:#4fa84f;background:rgba(55,15,100,.16)"></div>
<div class="t" style="left:515.0px;top:2486.7px;font-size:22px;font-weight:700;color:#fff;letter-spacing:-0.023px;">Virtualizor Panel</div>
<div class="t" style="left:849.0px;top:2484.5px;font-size:22px;font-weight:700;color:#fff;letter-spacing:-0.086px;">Realtime Statistics</div>
<div class="t" style="left:510.0px;top:2631.9px;font-size:22px;font-weight:700;color:#fff;letter-spacing:-0.118px;">Full Control</div>
<div class="t" style="left:849.0px;top:2631.9px;font-size:22px;font-weight:700;color:#fff;letter-spacing:-0.556px;">Choose Your OS</div>
<div class="t" style="left:458.0px;top:2526.8px;font-size:14px;color:#efe8f7;letter-spacing:0.377px;">Virtualizor: User-friendly control panel for</div>
<div class="t" style="left:458.0px;top:2545.1px;font-size:14px;color:#efe8f7;letter-spacing:0.150px;">managing virtual servers with ease and</div>
<div class="t" style="left:458.0px;top:2563.4px;font-size:14px;color:#efe8f7;letter-spacing:0.366px;">efficiency.</div>
<div class="t" style="left:803.0px;top:2526.8px;font-size:14px;color:#efe8f7;letter-spacing:0.170px;">We offer real-time and comprehensive usage</div>
<div class="t" style="left:803.0px;top:2545.1px;font-size:14px;color:#efe8f7;letter-spacing:0.237px;">statistics form monitoring your VPS resources.</div>
<div class="t" style="left:458.0px;top:2670.3px;font-size:14px;color:#efe8f7;letter-spacing:0.359px;">Empower yourself with complete control over</div>
<div class="t" style="left:458.0px;top:2688.6px;font-size:14px;color:#efe8f7;letter-spacing:0.174px;">your resources, including root access and</div>
<div class="t" style="left:458.0px;top:2706.9px;font-size:14px;color:#efe8f7;letter-spacing:0.243px;">remote functionalities such as reboot, OS</div>
<div class="t" style="left:458.0px;top:2725.2px;font-size:14px;color:#efe8f7;letter-spacing:0.263px;">reinstallation, power off, and more.</div>
<div class="t" style="left:803.0px;top:2670.3px;font-size:14px;color:#efe8f7;letter-spacing:0.175px;">You can install/reinstall VPS with any of these</div>
<div class="t" style="left:803.0px;top:2688.6px;font-size:14px;color:#efe8f7;letter-spacing:0.212px;">Linux Distributions on few clicks of mouse</div>
<div class="t" style="left:803.0px;top:2706.9px;font-size:14px;color:#efe8f7;letter-spacing:0.045px;">Ubuntu, CentOS, Debian, Fedora, Arch Linux,</div>
<div class="t" style="left:803.0px;top:2725.2px;font-size:14px;color:#efe8f7;letter-spacing:-0.142px;">OpenSUSE, AlmaLinux, Rocky Linux.</div>
<svg style="left:440px;top:2465px" width="700" height="300" viewBox="440 2465 700 300"><path d="M457.2 2481.6 V2514.9 H490Z" fill="#2f8df1"/><g fill="none" stroke="#fbf4ff" stroke-width="2.3"><circle cx="476.7" cy="2495.6" r="14.6"/><ellipse cx="476.7" cy="2495.6" rx="7.2" ry="14.6"/><path d="M464.4 2487.8 C470 2491.6 483.4 2491.6 489 2487.8 M464.4 2503.4 C470 2499.6 483.4 2499.6 489 2503.4"/></g><circle cx="476.7" cy="2495.6" r="3.2" fill="#fbf4ff"/><rect x="802.3" y="2480" width="34.8" height="35.2" fill="#2a1a66"/><path d="M805.4 2484 V2515.2 H837.1Z" fill="#f6c546"/><rect x="802.3" y="2480" width="34.8" height="3.4" fill="#1f1452"/><circle cx="809.9" cy="2487.4" r="1.5" fill="#fff"/><circle cx="814.6" cy="2487.4" r="1.7" fill="#f0507a"/><circle cx="819.7" cy="2487.4" r="1.8" fill="#2f5af0"/><path d="M808.3 2492.6 H813.5 M808.3 2499.3 H817.6 M808.3 2504.2 H817.6 M808.3 2508.8 H813" stroke="#1a1030" stroke-width="2.4"/><rect x="815.5" y="2491" width="21.6" height="3.1" fill="#aaa1d2"/><rect x="821.8" y="2498.1" width="11.8" height="12.2" fill="#2a1a66" stroke="#aaa1d2" stroke-width="2.4"/><path d="M823 2499.5 L832.4 2509.2 H823Z" fill="#f6c546"/><path d="M820.6 2496.9 V2511.5 H834.7" fill="none" stroke="#1a1030" stroke-width="1.6"/><path d="M457.2 2627.1 V2661 H489.7Z" fill="#f04343"/><circle cx="474.4" cy="2637.8" r="7.4" fill="#4b1a77" stroke="#fbf4ff" stroke-width="2"/><path d="M471 2638.2 L473.6 2640.4 L478 2635.4" fill="none" stroke="#fbf4ff" stroke-width="1.8" stroke-linecap="round"/><rect x="466.2" y="2645.3" width="27" height="12.2" rx="2.4" fill="none" stroke="#fbf4ff" stroke-width="1.9"/><path d="M466.2 2651.4 H493.2" stroke="#fbf4ff" stroke-width="1.7"/><path d="M468.8 2648.3 H479 M468.8 2654.5 H482" stroke="#f04343" stroke-width="2.2"/><path d="M482.5 2648.3 H491 M484.5 2654.5 H491" stroke="#fbf4ff" stroke-width="1.9" stroke-dasharray="1.9 1"/><g fill="none" stroke-width="2.1"><path d="M484.6 2633.9 L488.8 2630.2 L493 2633.9" stroke="#2f5af0"/><path d="M484.6 2638.4 L488.8 2634.7 L493 2638.4" stroke="#f04343"/><path d="M484.6 2642.9 L488.8 2639.2 L493 2642.9" stroke="#7ab648"/></g><path d="M802.9 2627.1 V2661.9 H827.8Z" fill="#6cc12f"/><path d="M808 2646.6 H834.5 V2650.3 H808Z M808 2652.4 H834.5 V2656.1 H808Z M808 2658.2 H834.5 V2661 H808Z" fill="#ecdff8" opacity=".92"/><path d="M822 2651.3 H834 M825.5 2657.1 H834" stroke="#2a1550" stroke-width="1.5"/><rect x="807" y="2630.6" width="28.7" height="30" rx="3.6" fill="none" stroke="#fbf4ff" stroke-width="2.7"/><path d="M820.8 2631.5 H830 V2642.8 L825.4 2639.4 L820.8 2642.8Z" fill="#fbf4ff"/><rect x="823.8" y="2633.6" width="2.6" height="2.4" fill="#3a1a70"/></svg>
<div class="sec" id="foot" style="top:2791px;height:244px;background:#f4f4f2;"><svg width="1158" height="244" viewBox="0 0 1158 244" style="left:0;top:0"><path d="M536 -141 L681 91 L536 323 L391 91Z" fill="rgba(236,236,233,.28)"/><path d="M7 -328 L289 123 L7 573 L-274 123Z" fill="rgba(255,255,255,.4)"/><path d="M387 -165 L633 228 L387 622 L141 228Z" fill="rgba(236,236,233,.28)"/><path d="M439 -151 L640 172 L439 494 L238 172Z" fill="rgba(236,236,233,.28)"/><path d="M489 -166 L619 41 L489 248 L360 41Z" fill="rgba(255,255,255,.4)"/><path d="M586 -137 L813 225 L586 587 L360 225Z" fill="rgba(236,236,233,.28)"/><path d="M444 -39 L583 182 L444 403 L306 182Z" fill="rgba(255,255,255,.3)"/><path d="M237 -366 L500 55 L237 475 L-25 55Z" fill="rgba(255,255,255,.4)"/><path d="M895 -84 L1086 222 L895 529 L703 222Z" fill="rgba(255,255,255,.3)"/><path d="M937 -399 L1217 49 L937 496 L658 49Z" fill="rgba(255,255,255,.3)"/><path d="M63 -241 L272 92 L63 426 L-145 92Z" fill="rgba(255,255,255,.4)"/></svg></div>
<div class="t" style="left:268.5px;top:2835.1px;font-size:22px;font-weight:700;color:#0d0d0d;letter-spacing:-0.242px;">DediRock is Your Gateway to Reliable Web Hosting Solutions</div>
<div class="t" style="left:278.7px;top:2885.2px;font-size:10.8px;font-weight:700;color:#111;letter-spacing:-0.056px;">Follow Us</div>
<div class="t" style="left:480.0px;top:2885.2px;font-size:10.8px;font-weight:700;color:#111;letter-spacing:0.174px;">24/7 Support</div>
<div class="t" style="left:696.7px;top:2885.2px;font-size:10.8px;font-weight:700;color:#111;letter-spacing:0.043px;">We Accept</div>
<div class="t" style="left:480.0px;top:2914.1px;font-size:9.4px;color:#1a1a1a;letter-spacing:0.356px;">Got a question or need support?</div>
<div class="t" style="left:480.0px;top:2925.5px;font-size:9.4px;color:#1a1a1a;letter-spacing:0.390px;">Don’t hesitate to contact us.</div>
<div class="abs" style="left:129px;top:2962px;width:905px;height:1.3px;background:#5d2f92"></div>
<div class="t" style="left:428.0px;top:2988.7px;font-size:11.6px;color:#111;letter-spacing:-0.121px;text-decoration:underline;text-underline-offset:1.5px;">sales@dedirock.com</div>
<div class="t" style="left:652.7px;top:2988.7px;font-size:11.6px;color:#111;letter-spacing:-0.500px;text-decoration:underline;text-underline-offset:1.5px;">(888) 941-ROCK</div>
<svg style="left:270px;top:2905px" width="640" height="110" viewBox="270 2905 640 110"><rect x="279" y="2914" width="19" height="18.6" rx="2.2" fill="#47207a"/><path d="M291.6 2932.6 V2925.4 H294 L294.4 2922.6 H291.6 V2920.9 C291.6 2919.9 292 2919.4 293.2 2919.4 H294.5 V2916.9 C293.9 2916.8 293.1 2916.7 292.3 2916.7 C289.9 2916.7 288.6 2918.1 288.6 2920.5 V2922.6 H286.2 V2925.4 H288.6 V2932.6Z" fill="#f3eefa"/><rect x="309" y="2914" width="19.2" height="18.6" rx="4.6" fill="#47207a"/><rect x="312.2" y="2918.4" width="12.8" height="9.8" rx="2.6" fill="#f3eefa"/><path d="M316.9 2920.8 V2925.8 L321.2 2923.3Z" fill="#47207a"/><rect x="340.2" y="2914.8" width="17" height="17" rx="3.4" fill="none" stroke="#47207a" stroke-width="1.7"/><circle cx="348.7" cy="2923.3" r="3.6" fill="none" stroke="#47207a" stroke-width="1.7"/><circle cx="353.6" cy="2918.3" r="1" fill="#47207a"/><rect x="369.2" y="2914" width="19" height="18.6" rx="5.4" fill="#47207a"/><path d="M373.6 2917.4 H376.6 L384 2929.2 H381Z" fill="none" stroke="#f3eefa" stroke-width="0.9"/><path d="M383.8 2917.4 L373.8 2929.2" stroke="#f3eefa" stroke-width="0.9"/><path d="M698.6 2928 L700 2919.6 H703.3 C705.6 2919.6 706.4 2920.9 706 2922.5 C705.6 2924.6 704.2 2925.4 702.3 2925.4 H701.2 L700.8 2928Z" fill="#1f3b82"/><path d="M700 2929.2 L701 2923 H703.6 C705.4 2923 706.2 2924 705.8 2925.4 C705.5 2927 704.4 2927.6 702.9 2927.6 H702.2 L701.9 2929.2Z" fill="#2a8fd8" opacity=".9"/><circle cx="869.6" cy="2924.7" r="7.1" fill="#d6202a"/><circle cx="882.5" cy="2924.7" r="7.1" fill="#f5a31d"/><path d="M876.05 2921.7 A7.1 7.1 0 0 1 876.05 2927.7 A7.1 7.1 0 0 1 876.05 2921.7Z" fill="#ec6a25"/><rect x="398" y="2988.2" width="20.4" height="13.6" rx="1.4" fill="#0c0c0c"/><path d="M398.6 2989 L408.2 2996.3 L417.8 2989" fill="none" stroke="#f3f3f1" stroke-width="1.3"/><path d="M631 2988.6 C630 2988.6 628.9 2989.6 628.9 2990.8 C629.2 2996.6 634.3 3001.7 640.1 3002 C641.3 3002 642.3 3000.9 642.3 2999.9 V2997.8 C642.3 2997.2 641.9 2996.8 641.4 2996.7 L638.6 2996 C638.1 2995.9 637.7 2996 637.4 2996.4 L636.4 2997.7 C634.8 2996.9 633.6 2995.7 632.9 2994.2 L634.3 2993.2 C634.7 2992.9 634.8 2992.5 634.7 2992 L634 2989.4 C633.9 2988.9 633.5 2988.6 633 2988.6Z" fill="#0c0c0c"/></svg>
<div class="t" style="left:708.2px;top:2919.3px;font-size:9.2px;font-weight:700;font-style:italic;color:#1f3b82;letter-spacing:-0.920px;">Pay</div>
<div class="t" style="left:722.2px;top:2919.3px;font-size:9.2px;font-weight:700;font-style:italic;color:#2a8fd8;letter-spacing:-0.232px;">Pal</div>
<div class="t" style="left:758.8px;top:2916.1px;font-size:13.2px;font-weight:700;color:#6b63f0;letter-spacing:-0.654px;">stripe</div>
<div class="t" style="left:814.6px;top:2918.4px;font-size:10.6px;font-weight:700;font-style:italic;color:#27306e;letter-spacing:-0.434px;">VISA</div>
<div class="t" style="left:862.6px;top:2922.6px;font-size:3.9px;font-weight:700;font-style:italic;color:#ffffff;letter-spacing:0.559px;">MasterCard</div>
</body></html>
